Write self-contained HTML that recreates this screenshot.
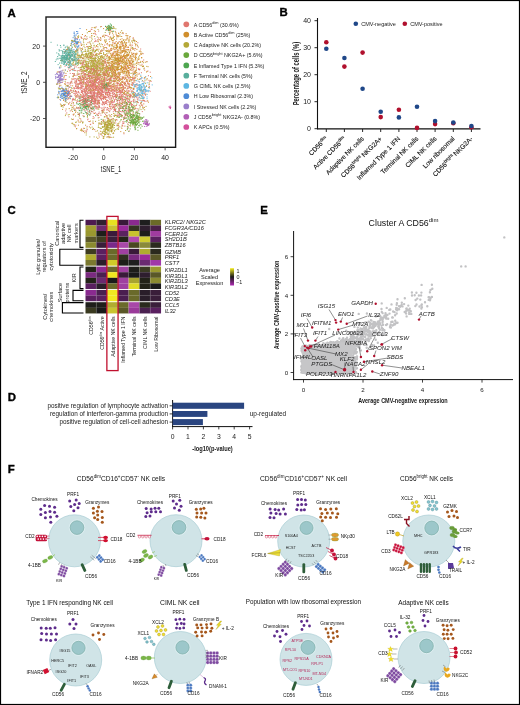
<!DOCTYPE html>
<html><head><meta charset="utf-8"><style>
html,body{margin:0;padding:0;background:#fff;overflow:hidden;}
svg{display:block;font-family:"Liberation Sans", sans-serif;will-change:transform;}
</style></head><body>
<svg width="520" height="705" viewBox="0 0 520 705">
<rect x="0" y="0" width="520" height="705" fill="#fff"/>
<text x="7.40" y="16.50" font-size="11.4" text-anchor="start" fill="#000" font-weight="bold" stroke="#000" stroke-width="0.35">A</text>
<text x="279.60" y="16.30" font-size="11.4" text-anchor="start" fill="#000" font-weight="bold" stroke="#000" stroke-width="0.35">B</text>
<text x="7.50" y="214.10" font-size="11.4" text-anchor="start" fill="#000" font-weight="bold" stroke="#000" stroke-width="0.35">C</text>
<text x="7.80" y="400.80" font-size="11.4" text-anchor="start" fill="#000" font-weight="bold" stroke="#000" stroke-width="0.35">D</text>
<text x="260.20" y="214.00" font-size="11.4" text-anchor="start" fill="#000" font-weight="bold" stroke="#000" stroke-width="0.35">E</text>
<text x="7.80" y="472.70" font-size="11.4" text-anchor="start" fill="#000" font-weight="bold" stroke="#000" stroke-width="0.35">F</text>
<path d="M109.3 125.2h.3M78.9 62.0h.3M82.9 67.7h.3M100.4 26.8h.3M104.2 73.2h.3M111.1 129.2h.3M107.9 70.5h.3M104.9 134.5h.3M88.2 48.5h.3M107.3 80.5h.3M100.5 50.8h.3M75.2 98.7h.3M87.3 113.8h.3M134.4 95.7h.3M126.9 81.1h.3M105.5 124.7h.3M80.3 77.2h.3M110.7 70.4h.3M104.0 56.6h.3M93.5 81.1h.3M95.7 78.8h.3M97.6 79.4h.3M108.0 118.2h.3M91.5 38.0h.3M108.4 82.2h.3M107.8 121.8h.3M119.3 113.8h.3M106.5 72.3h.3M85.5 60.9h.3M80.6 67.3h.3M103.6 83.0h.3M93.8 79.8h.3M87.4 56.7h.3M81.3 50.7h.3M98.5 76.0h.3M101.1 74.9h.3M128.7 87.1h.3M109.0 73.7h.3M94.1 72.6h.3M94.1 69.7h.3M107.6 130.1h.3M83.2 63.7h.3M66.9 58.2h.3M89.1 72.0h.3M92.0 58.7h.3M90.1 85.8h.3M104.2 73.0h.3M98.5 82.7h.3M69.0 62.6h.3M132.4 79.1h.3M86.7 98.4h.3M115.6 73.4h.3M126.1 117.8h.3M108.5 127.4h.3M105.1 97.1h.3M106.7 126.9h.3M77.2 65.4h.3M112.8 133.6h.3M106.2 128.3h.3M144.8 80.7h.3M80.0 69.2h.3M128.9 58.3h.3M58.0 97.9h.3M90.4 82.3h.3M85.3 65.4h.3M100.5 57.3h.3M104.6 73.8h.3M91.3 61.7h.3M72.9 63.8h.3M89.7 60.8h.3M121.2 65.7h.3M108.2 121.8h.3M98.4 57.8h.3M103.5 88.0h.3M96.8 62.8h.3M133.5 39.2h.3M122.0 33.3h.3M60.8 67.0h.3M111.4 71.1h.3M77.5 84.7h.3M108.3 129.1h.3M89.7 136.9h.3M125.5 105.5h.3M81.4 69.1h.3M77.2 71.1h.3M63.7 104.5h.3M94.9 68.3h.3M86.5 86.1h.3M87.6 56.4h.3M112.0 76.0h.3M111.7 99.1h.3M99.3 97.4h.3M106.1 133.2h.3M95.9 65.4h.3M111.2 76.6h.3M90.1 54.4h.3M95.8 68.9h.3M78.3 36.0h.3M87.0 79.0h.3M114.4 122.8h.3M94.5 72.9h.3M84.4 128.4h.3M140.9 109.6h.3M112.7 89.1h.3M110.3 69.4h.3M101.9 85.0h.3M117.9 42.8h.3M121.1 127.0h.3M99.8 63.0h.3M83.8 58.4h.3M114.2 69.6h.3M85.1 55.2h.3M87.7 51.5h.3M90.0 53.9h.3M103.0 119.4h.3M81.2 73.5h.3M71.9 88.4h.3M131.9 73.4h.3M96.5 50.3h.3M94.0 69.7h.3M104.0 69.7h.3M99.1 59.3h.3M73.1 60.2h.3M116.9 125.8h.3M109.0 114.9h.3M87.3 56.9h.3M95.4 121.4h.3M82.4 122.6h.3M109.4 72.5h.3M82.4 66.6h.3M113.0 125.0h.3M76.2 122.0h.3M130.8 73.4h.3M96.1 62.6h.3M61.9 80.2h.3M105.2 67.7h.3M101.1 44.0h.3M89.6 70.7h.3M116.6 76.3h.3M90.3 53.5h.3M87.4 67.2h.3M71.6 92.4h.3M95.0 28.0h.3M121.5 30.7h.3M111.1 116.7h.3M126.4 62.0h.3M102.8 50.3h.3M83.5 72.1h.3M101.6 84.6h.3M94.1 69.8h.3M114.8 114.2h.3M97.6 79.1h.3M95.5 67.3h.3M107.6 126.0h.3M79.3 83.8h.3M65.0 81.4h.3M105.1 132.3h.3M91.9 61.5h.3M94.3 75.0h.3M101.5 59.1h.3M102.6 133.0h.3M66.8 102.6h.3M85.1 76.0h.3M91.8 56.0h.3M74.8 82.0h.3M93.1 58.9h.3M87.1 46.8h.3M107.0 126.5h.3M91.9 63.6h.3M110.1 72.1h.3M118.7 80.1h.3M115.8 74.1h.3M107.0 131.8h.3M95.6 60.7h.3M76.6 49.3h.3M125.4 130.5h.3M105.8 75.3h.3M110.2 58.0h.3M87.9 50.8h.3M95.6 60.7h.3M92.4 62.2h.3M97.6 109.0h.3M80.7 69.8h.3M102.9 68.7h.3M77.6 53.3h.3M110.9 128.2h.3M99.4 73.3h.3M103.2 48.7h.3M85.5 108.3h.3M86.5 67.3h.3M106.5 125.7h.3M96.1 58.4h.3M93.5 71.6h.3M100.3 63.9h.3M89.0 53.2h.3M91.6 53.3h.3M135.0 40.9h.3M74.3 41.1h.3M93.0 70.0h.3M85.6 64.4h.3" stroke="#B4A838" stroke-width="1.0" stroke-linecap="round" fill="none" opacity="0.92"/>
<path d="M97.1 76.2h.3M76.2 96.2h.3M90.9 90.8h.3M86.8 112.5h.3M74.3 75.2h.3M91.6 98.7h.3M91.0 91.0h.3M92.5 95.0h.3M106.4 92.4h.3M100.7 62.0h.3M119.6 102.5h.3M114.0 90.6h.3M81.8 97.8h.3M77.9 88.9h.3M97.7 103.2h.3M60.6 91.2h.3M87.0 94.9h.3M133.9 80.4h.3M88.3 95.5h.3M83.4 103.7h.3M76.5 88.4h.3M132.9 66.8h.3M99.1 75.7h.3M103.9 107.2h.3M87.0 126.4h.3M129.9 102.3h.3M80.9 100.6h.3M94.7 80.0h.3M82.1 63.8h.3M95.4 101.3h.3M95.2 92.3h.3M87.8 83.3h.3M112.3 89.6h.3M124.2 110.7h.3M103.7 96.9h.3M102.6 89.7h.3M63.6 89.7h.3M128.7 78.4h.3M88.7 93.5h.3M76.1 81.9h.3M118.8 115.2h.3M104.5 69.4h.3M130.9 95.2h.3M68.9 48.5h.3M136.6 97.4h.3M117.6 116.0h.3M129.6 101.1h.3M93.6 82.9h.3M89.9 95.8h.3M129.0 130.8h.3M101.7 81.5h.3M128.4 122.3h.3M83.2 78.2h.3M57.4 77.4h.3M113.2 85.7h.3M82.3 75.6h.3M102.9 102.5h.3M72.4 73.5h.3M113.3 93.0h.3M130.2 69.6h.3M117.1 114.1h.3M69.6 70.9h.3M104.1 74.8h.3M114.8 71.2h.3M81.7 88.8h.3M143.7 81.8h.3M94.1 91.0h.3M121.2 101.0h.3M106.5 109.9h.3M87.0 106.2h.3M94.2 101.7h.3M100.9 89.8h.3M105.0 74.5h.3M89.9 79.6h.3M72.6 53.9h.3M98.2 106.0h.3M100.7 86.6h.3M92.1 96.3h.3M92.9 81.8h.3M100.8 115.3h.3M101.5 83.7h.3M103.4 60.8h.3M91.8 95.6h.3M104.1 48.1h.3M87.4 97.2h.3M117.0 95.6h.3M91.9 86.3h.3M85.2 73.7h.3M89.8 85.2h.3M96.0 88.6h.3M141.9 64.3h.3M101.1 93.5h.3M79.3 83.9h.3M87.8 82.3h.3M96.8 96.9h.3M90.7 92.0h.3M119.1 126.8h.3M97.8 98.0h.3M88.1 80.6h.3M86.3 69.9h.3M93.5 103.4h.3M117.3 85.0h.3M91.9 97.5h.3M98.1 79.0h.3M101.3 80.1h.3M75.3 126.8h.3M76.0 58.8h.3M95.5 100.2h.3M95.5 82.2h.3M99.9 80.7h.3M93.4 97.7h.3M139.1 73.3h.3M112.7 54.2h.3M70.2 110.9h.3M90.7 98.1h.3M84.1 78.6h.3M86.1 131.7h.3M132.3 104.6h.3M127.2 86.2h.3M90.9 73.6h.3M93.6 54.9h.3M67.5 86.2h.3M119.7 96.1h.3M118.5 111.0h.3M105.1 75.0h.3M108.7 79.6h.3M105.9 84.4h.3M110.7 106.8h.3M101.0 83.6h.3M75.4 86.6h.3M122.4 70.3h.3M131.6 101.4h.3M101.3 86.1h.3M80.4 82.0h.3M100.8 94.0h.3M98.3 83.7h.3M85.3 39.0h.3M122.3 84.5h.3M133.4 74.4h.3M71.4 90.8h.3M134.2 77.1h.3M99.5 96.7h.3M82.5 99.5h.3M94.3 73.6h.3M91.8 99.6h.3M85.2 99.2h.3M95.7 80.1h.3M88.8 98.1h.3M78.3 107.6h.3M129.2 87.1h.3M125.7 94.7h.3M101.9 83.7h.3M78.8 73.8h.3M131.7 104.8h.3M85.0 102.0h.3M80.6 78.4h.3M79.6 81.8h.3M122.5 99.3h.3M135.6 96.1h.3M114.6 90.6h.3M105.0 73.9h.3M86.2 101.4h.3M87.1 101.5h.3M81.4 83.2h.3M95.1 89.0h.3M88.5 65.2h.3M109.4 93.2h.3M96.5 80.1h.3M101.2 26.5h.3M73.8 69.7h.3M98.0 74.7h.3M100.6 98.7h.3M96.0 88.3h.3M80.9 85.8h.3M91.0 101.1h.3M118.2 100.4h.3M79.8 78.3h.3M118.2 89.1h.3M96.9 96.8h.3M99.6 77.2h.3M96.7 107.7h.3M139.2 89.3h.3M106.2 103.5h.3M66.1 75.5h.3M91.1 93.8h.3M93.5 84.1h.3M83.4 98.6h.3M99.5 103.7h.3M79.7 76.9h.3M98.2 113.5h.3M74.3 70.6h.3M134.9 102.2h.3M111.8 101.0h.3M100.2 86.8h.3M135.3 48.4h.3M94.4 63.5h.3M76.9 79.0h.3M132.7 80.0h.3M93.9 92.6h.3M94.7 81.1h.3" stroke="#E0766E" stroke-width="1.0" stroke-linecap="round" fill="none" opacity="0.92"/>
<path d="M112.9 94.5h.3M103.5 95.8h.3M111.0 88.6h.3M118.9 79.7h.3M108.1 102.0h.3M119.4 90.5h.3M125.8 110.1h.3M127.7 82.3h.3M101.0 95.7h.3M93.7 113.1h.3M95.6 61.1h.3M87.2 97.3h.3M94.4 98.8h.3M124.5 118.8h.3M75.9 93.0h.3M69.5 93.8h.3M129.4 65.3h.3M106.6 100.3h.3M73.0 55.9h.3M113.2 90.1h.3M88.6 85.9h.3M109.8 99.5h.3M123.8 68.9h.3M99.5 80.1h.3M109.7 104.4h.3M121.8 77.0h.3M123.1 33.6h.3M108.6 78.9h.3M128.1 127.1h.3M113.0 75.3h.3M65.0 101.4h.3M75.5 85.6h.3M119.5 94.6h.3M102.8 87.7h.3M91.5 100.2h.3M85.9 84.2h.3M110.5 77.3h.3M98.9 87.2h.3M98.7 90.4h.3M119.8 92.0h.3M81.1 55.6h.3M102.5 96.2h.3M92.1 82.2h.3M99.1 70.9h.3M106.1 89.6h.3M84.6 102.3h.3M81.8 38.5h.3M98.4 74.7h.3M77.8 95.8h.3M135.5 84.7h.3M96.9 93.9h.3M101.8 104.2h.3M144.9 101.4h.3M59.8 75.6h.3M77.4 62.4h.3M118.1 99.0h.3M72.7 76.2h.3M129.8 91.1h.3M67.3 82.8h.3M95.5 108.0h.3M96.0 81.3h.3M122.7 90.3h.3M92.2 99.4h.3M92.3 73.0h.3M90.3 75.9h.3M124.3 84.1h.3M128.8 112.3h.3M96.5 106.8h.3M98.1 66.3h.3M97.3 77.3h.3M95.0 100.0h.3M96.6 87.3h.3M93.1 84.4h.3M86.2 104.5h.3M148.3 75.7h.3M99.4 97.4h.3M90.6 76.1h.3M107.0 112.7h.3M133.4 49.0h.3M109.4 81.6h.3M129.1 74.7h.3M107.1 85.7h.3M95.7 58.0h.3M108.3 96.8h.3M135.9 105.6h.3M96.8 82.4h.3M91.3 86.1h.3M119.4 100.5h.3M114.4 93.5h.3M122.1 102.7h.3M97.4 79.3h.3M150.0 91.3h.3M132.7 67.4h.3M87.7 91.6h.3M74.3 88.2h.3M84.1 73.9h.3M121.9 96.0h.3M121.2 103.4h.3M93.0 93.3h.3M83.7 78.3h.3M103.6 97.9h.3M91.5 105.7h.3M100.5 96.1h.3M90.2 31.1h.3M128.6 108.0h.3M102.5 101.6h.3M112.9 43.1h.3M132.4 96.7h.3M87.9 76.5h.3M118.1 112.7h.3M92.8 85.5h.3M87.6 78.8h.3M120.2 108.6h.3M139.4 69.8h.3M84.6 84.1h.3M82.2 71.9h.3M133.0 109.8h.3M113.8 94.5h.3M126.1 91.0h.3M111.0 103.3h.3M72.0 83.1h.3M69.2 60.4h.3M110.3 78.2h.3M132.8 91.5h.3M94.1 100.8h.3M95.4 102.9h.3M85.7 100.0h.3M141.3 72.7h.3M89.6 90.5h.3M132.1 85.3h.3M80.4 87.7h.3M134.6 78.6h.3M123.8 101.8h.3M78.7 88.0h.3M109.0 86.4h.3M110.9 98.8h.3M96.2 100.8h.3M104.8 87.0h.3M107.6 80.3h.3M93.8 80.0h.3M82.5 101.6h.3M87.1 86.0h.3M82.8 89.1h.3M78.2 67.7h.3M88.9 82.4h.3M122.2 98.4h.3M114.5 74.9h.3M82.6 92.0h.3M137.0 87.3h.3M93.1 68.1h.3M106.5 115.5h.3M97.4 73.0h.3M80.8 84.7h.3M98.7 100.2h.3M129.8 56.9h.3M122.3 108.2h.3M94.5 97.3h.3M89.3 77.7h.3M95.2 76.2h.3M100.8 39.1h.3M129.5 63.7h.3M83.6 96.5h.3M119.4 90.7h.3M130.1 95.4h.3M115.9 83.2h.3M91.6 101.3h.3M91.3 86.7h.3M134.7 92.8h.3M93.5 61.3h.3M84.9 74.7h.3M87.2 68.4h.3M81.3 95.9h.3M98.6 94.9h.3M96.9 90.1h.3M94.5 81.5h.3M90.8 71.4h.3M107.7 94.3h.3M86.0 75.7h.3M93.8 75.7h.3M83.4 89.8h.3M94.0 93.9h.3M79.7 74.0h.3M70.7 90.2h.3M106.8 84.5h.3M111.8 90.1h.3M99.3 92.4h.3M114.5 76.0h.3M95.2 78.5h.3M63.4 90.6h.3M79.5 87.7h.3M104.1 79.4h.3M93.8 85.5h.3M139.0 97.2h.3M146.8 101.2h.3M114.6 91.7h.3M143.8 92.4h.3M91.7 29.5h.3M123.9 88.1h.3M95.1 93.7h.3M100.1 93.7h.3" stroke="#E0766E" stroke-width="1.0" stroke-linecap="round" fill="none" opacity="0.92"/>
<path d="M111.6 63.1h.3M89.7 31.4h.3M113.1 56.2h.3M121.8 71.7h.3M120.3 50.0h.3M115.9 69.0h.3M124.0 71.5h.3M116.9 74.8h.3M113.9 70.6h.3M121.6 61.0h.3M142.8 66.5h.3M116.3 69.9h.3M119.1 75.1h.3M121.9 61.8h.3M127.8 75.7h.3M94.2 30.8h.3M120.1 87.9h.3M128.8 62.0h.3M98.2 41.7h.3M117.8 90.0h.3M132.0 54.2h.3M128.0 66.0h.3M62.7 93.4h.3M112.6 49.0h.3M128.6 60.0h.3M145.2 62.2h.3M121.7 68.4h.3M117.6 61.7h.3M120.0 65.6h.3M125.6 69.2h.3M122.4 71.8h.3M105.2 72.1h.3M138.2 59.6h.3M132.1 58.6h.3M90.6 46.9h.3M109.5 105.9h.3M69.1 108.6h.3M101.5 49.9h.3M126.2 43.1h.3M117.6 64.3h.3M119.2 63.9h.3M126.8 79.4h.3M111.7 65.2h.3M130.1 36.6h.3M111.4 56.4h.3M120.1 85.4h.3M128.1 68.4h.3M116.4 74.6h.3M111.5 73.1h.3M117.3 76.3h.3M122.6 50.5h.3M124.2 92.4h.3M150.4 76.5h.3M99.5 123.2h.3M135.2 75.6h.3M125.7 62.3h.3M143.6 103.9h.3M126.8 61.0h.3M129.3 68.0h.3M120.3 57.2h.3M113.6 65.2h.3M128.4 60.6h.3M140.7 76.4h.3M111.1 38.7h.3M131.0 47.0h.3M123.0 59.6h.3M99.0 60.8h.3M131.8 54.0h.3M118.6 54.7h.3M112.7 67.9h.3M120.0 61.8h.3M80.3 130.2h.3M146.4 86.4h.3M114.4 43.6h.3M122.3 56.3h.3M116.3 44.4h.3M125.3 83.5h.3M120.7 83.8h.3M65.2 84.4h.3M130.1 63.7h.3M105.1 130.8h.3M114.2 68.0h.3M141.2 102.4h.3M125.8 35.6h.3M111.7 57.7h.3M97.6 67.0h.3M65.7 98.7h.3M65.8 114.2h.3M142.2 94.3h.3M119.7 55.3h.3M109.5 41.7h.3M108.5 84.9h.3M125.6 46.4h.3M128.1 47.0h.3M119.4 69.6h.3M114.3 70.6h.3M98.8 49.2h.3M117.3 44.0h.3M145.3 77.0h.3M112.2 54.8h.3M117.4 53.1h.3M103.0 133.4h.3M126.1 39.8h.3M121.6 81.6h.3M124.6 70.1h.3M122.8 81.2h.3M82.3 34.5h.3M103.2 111.0h.3M116.0 88.7h.3M103.9 81.4h.3M97.4 100.2h.3M121.4 68.3h.3M104.9 54.8h.3M120.1 69.1h.3M99.0 88.9h.3M116.8 59.3h.3M116.3 103.8h.3M116.1 53.5h.3M115.7 60.8h.3M89.3 31.5h.3M139.5 55.4h.3M77.4 50.6h.3M114.4 88.8h.3M124.6 94.5h.3M90.6 44.3h.3M119.3 78.4h.3M121.3 103.5h.3M118.0 50.6h.3M126.4 54.6h.3M111.2 49.1h.3M136.1 70.1h.3M125.4 46.8h.3M114.2 78.8h.3M115.8 95.0h.3M111.2 44.9h.3M91.8 97.1h.3M136.5 72.5h.3M105.5 134.5h.3M117.1 51.1h.3M96.3 45.6h.3M115.8 60.5h.3M143.2 108.0h.3M129.6 81.6h.3M103.2 36.1h.3M105.4 88.9h.3M121.2 51.9h.3M116.7 64.8h.3M117.0 62.1h.3M121.0 52.3h.3M112.3 64.8h.3M114.4 85.9h.3M115.5 56.2h.3M127.8 80.0h.3M72.3 69.4h.3M140.9 51.8h.3M119.6 47.7h.3M122.5 52.0h.3M134.2 72.7h.3M123.5 62.3h.3M129.6 87.0h.3M99.1 102.4h.3M117.7 35.8h.3M125.1 42.9h.3M133.8 81.8h.3M109.8 104.4h.3M107.8 88.3h.3M109.5 59.9h.3M107.3 62.4h.3M68.7 103.5h.3M123.8 54.6h.3M120.0 97.5h.3M143.5 89.9h.3M116.2 97.3h.3M114.1 59.1h.3M123.1 51.1h.3M128.6 42.1h.3M123.7 49.9h.3M114.9 62.8h.3M122.1 87.6h.3M120.5 60.7h.3M129.4 61.4h.3M130.1 61.2h.3M126.1 45.7h.3M135.2 53.7h.3M116.3 48.6h.3M85.1 90.9h.3M124.8 61.2h.3M126.5 71.2h.3M138.8 74.3h.3M114.9 66.5h.3M131.6 41.0h.3M72.3 111.4h.3M128.8 60.5h.3M126.2 49.6h.3M134.2 67.5h.3M68.2 61.7h.3M99.4 88.6h.3M107.0 56.4h.3M104.5 116.6h.3M120.6 59.2h.3" stroke="#D08E2C" stroke-width="1.0" stroke-linecap="round" fill="none" opacity="0.92"/>
<path d="M104.6 88.3h.3M111.2 25.2h.3M108.1 29.3h.3M86.1 106.6h.3M87.9 97.0h.3M76.5 103.0h.3M105.4 85.8h.3M83.7 97.9h.3M106.9 88.0h.3M87.3 100.5h.3M79.0 114.4h.3M86.1 101.3h.3M112.3 28.6h.3M104.5 82.1h.3M85.5 103.7h.3M104.7 85.5h.3M87.3 104.6h.3M104.7 86.9h.3M86.5 102.4h.3M91.0 108.4h.3M105.0 86.1h.3M92.1 97.7h.3M106.2 90.8h.3M109.8 26.7h.3M86.5 106.5h.3M95.5 115.6h.3M82.4 97.4h.3M103.0 85.5h.3M107.4 26.7h.3M86.6 108.9h.3M105.9 86.2h.3M109.1 26.1h.3M107.5 85.9h.3M90.4 104.8h.3M87.0 107.0h.3M110.5 27.6h.3M79.9 99.8h.3M101.8 87.5h.3M78.0 86.4h.3M88.8 101.5h.3M87.4 105.9h.3M106.3 84.6h.3M111.7 27.8h.3M87.4 99.6h.3M83.7 116.7h.3M87.2 102.7h.3M88.7 106.6h.3M105.1 85.5h.3M88.8 111.9h.3M107.1 28.0h.3M85.5 106.9h.3M91.6 108.4h.3M91.2 104.6h.3M105.3 85.5h.3M103.9 86.1h.3M88.2 104.1h.3M105.8 83.8h.3M87.4 115.6h.3M91.2 102.4h.3M84.9 107.9h.3M81.8 104.4h.3M89.6 112.2h.3M108.5 29.7h.3M106.7 88.8h.3M81.6 110.8h.3M85.1 93.0h.3M90.8 108.1h.3M85.2 99.2h.3M106.6 86.4h.3M106.8 84.7h.3M81.9 105.1h.3M80.0 103.7h.3M108.5 29.2h.3M108.5 27.1h.3M90.5 92.6h.3M83.6 113.5h.3M91.7 100.1h.3M101.1 119.4h.3M110.9 27.1h.3M84.5 106.3h.3M87.5 106.1h.3M108.3 27.1h.3M93.9 106.7h.3M113.3 31.2h.3M79.1 100.6h.3M86.3 108.4h.3M89.7 104.9h.3M83.1 107.6h.3M82.3 99.9h.3M80.9 108.8h.3M109.8 29.5h.3M82.4 108.7h.3M106.6 29.4h.3M85.9 100.5h.3M108.1 83.2h.3M89.5 110.4h.3M105.5 26.5h.3M84.2 109.1h.3M108.3 85.0h.3M83.3 106.1h.3M106.5 85.3h.3M80.7 104.4h.3M91.0 102.5h.3M84.9 98.8h.3M110.3 28.7h.3M88.6 99.3h.3M110.5 29.8h.3M105.7 30.2h.3M84.9 103.5h.3M103.6 87.4h.3M86.3 101.8h.3M86.0 106.2h.3M79.1 98.5h.3M108.9 85.5h.3M87.9 109.6h.3M82.9 104.5h.3M102.9 86.7h.3M84.6 98.5h.3M105.4 26.3h.3M104.9 89.3h.3M79.6 96.9h.3M88.4 106.1h.3M89.2 106.8h.3M110.2 29.0h.3M104.4 86.7h.3M102.2 83.7h.3M84.5 107.3h.3M108.5 29.0h.3M85.9 99.8h.3M84.3 103.9h.3M109.5 26.1h.3M85.2 101.9h.3M95.9 95.8h.3M85.0 106.8h.3M84.6 100.6h.3M79.9 110.7h.3M104.5 84.2h.3M86.2 113.1h.3M85.9 104.7h.3M110.2 24.0h.3M83.0 106.9h.3M108.6 27.9h.3M91.5 108.6h.3M78.2 104.4h.3M109.0 32.1h.3M93.5 108.4h.3M103.5 86.8h.3M105.9 86.5h.3M80.9 106.9h.3M80.1 96.8h.3M108.2 25.4h.3M85.3 99.3h.3M85.5 107.6h.3M87.0 105.9h.3M79.6 113.2h.3M103.5 86.3h.3M105.7 84.5h.3M91.6 96.4h.3M88.3 114.1h.3M91.7 98.0h.3M79.9 105.4h.3M105.0 85.2h.3M111.3 27.2h.3M88.2 108.2h.3M82.7 101.9h.3M90.3 102.4h.3M88.3 97.5h.3M85.4 100.5h.3M91.8 108.6h.3M101.9 88.0h.3M108.4 30.5h.3M92.6 106.8h.3M104.1 84.6h.3M102.5 85.6h.3M108.9 83.5h.3M104.3 85.3h.3M85.0 111.2h.3M85.3 106.1h.3M103.1 87.9h.3M91.2 101.9h.3M93.8 109.9h.3M85.5 100.8h.3M79.9 98.4h.3M110.1 27.1h.3M90.2 113.9h.3M85.9 102.3h.3M89.5 114.9h.3M91.5 99.5h.3M112.5 31.7h.3M86.3 109.0h.3M95.5 100.3h.3M80.6 108.1h.3M104.0 86.9h.3M105.0 88.7h.3M92.3 103.7h.3M109.4 30.5h.3M74.5 110.5h.3M81.1 112.3h.3M87.7 106.0h.3M103.4 86.9h.3" stroke="#4DA650" stroke-width="1.0" stroke-linecap="round" fill="none" opacity="0.92"/>
<path d="M99.5 100.6h.3M93.8 89.5h.3M87.7 84.3h.3M109.4 34.4h.3M115.5 94.6h.3M93.0 81.8h.3M95.3 62.0h.3M122.4 90.0h.3M96.5 67.3h.3M129.9 94.1h.3M87.9 85.0h.3M114.3 100.4h.3M107.9 89.7h.3M103.5 98.7h.3M114.9 104.8h.3M90.0 88.3h.3M99.8 84.3h.3M129.1 96.7h.3M84.9 82.9h.3M82.6 84.1h.3M74.0 88.9h.3M123.2 86.9h.3M118.8 74.1h.3M62.4 88.5h.3M85.5 97.6h.3M102.9 94.5h.3M105.3 90.7h.3M123.2 95.9h.3M101.3 108.1h.3M79.8 80.6h.3M86.6 104.4h.3M97.0 92.6h.3M95.6 102.1h.3M90.1 84.5h.3M107.2 95.5h.3M113.1 80.4h.3M80.9 43.7h.3M100.1 89.0h.3M137.7 42.7h.3M93.5 98.4h.3M69.8 68.0h.3M84.6 92.9h.3M97.0 97.7h.3M93.9 96.5h.3M125.3 97.1h.3M81.1 45.1h.3M97.8 100.6h.3M112.7 96.7h.3M149.1 87.2h.3M87.1 69.1h.3M99.1 106.0h.3M96.1 82.8h.3M86.7 86.1h.3M87.4 92.6h.3M107.3 85.0h.3M110.7 80.1h.3M145.3 95.0h.3M107.5 77.0h.3M111.2 127.9h.3M104.0 70.9h.3M83.4 101.8h.3M112.9 107.7h.3M94.1 93.8h.3M127.2 100.1h.3M103.1 88.1h.3M125.0 98.2h.3M80.4 94.7h.3M86.1 101.0h.3M131.6 91.6h.3M148.9 84.8h.3M120.1 63.2h.3M133.2 114.6h.3M94.9 99.5h.3M104.0 96.8h.3M78.5 74.4h.3M132.0 70.2h.3M107.0 92.4h.3M107.5 75.1h.3M107.1 94.2h.3M122.9 87.0h.3M72.2 92.2h.3M115.2 110.9h.3M104.5 45.1h.3M103.6 64.6h.3M124.0 87.7h.3M109.6 78.2h.3M92.7 122.9h.3M73.7 65.2h.3M74.4 99.8h.3M151.0 81.3h.3M142.5 61.7h.3M136.1 95.2h.3M129.4 109.4h.3M76.2 80.7h.3M149.7 81.4h.3M86.2 87.3h.3M70.0 66.7h.3M111.8 85.7h.3M116.3 119.6h.3M119.1 110.4h.3M95.3 85.1h.3M93.9 80.1h.3M97.6 90.6h.3M101.1 99.1h.3M108.4 90.2h.3M127.8 101.5h.3M90.8 93.5h.3M93.9 86.4h.3M120.6 105.5h.3M104.0 75.4h.3M104.3 104.3h.3M89.9 97.9h.3M98.8 63.8h.3M77.5 38.6h.3M112.4 53.2h.3M104.8 78.9h.3M87.9 74.5h.3M126.7 94.4h.3M85.8 83.3h.3M77.5 94.3h.3M130.0 77.9h.3M93.8 77.0h.3M108.3 110.3h.3M79.6 77.4h.3M97.0 89.4h.3M98.3 100.8h.3M91.8 87.8h.3M129.9 94.8h.3M123.8 133.8h.3M123.1 89.3h.3M143.5 60.0h.3M71.2 96.3h.3M125.9 117.9h.3M93.6 49.5h.3M114.5 109.5h.3M98.9 81.6h.3M78.6 84.3h.3M119.4 105.2h.3M91.4 77.8h.3M63.8 105.1h.3M102.6 77.6h.3M124.9 84.1h.3M80.7 83.4h.3M113.1 87.4h.3M134.0 92.5h.3M94.5 104.8h.3M95.7 93.8h.3M111.0 91.3h.3M109.4 86.5h.3M101.7 88.6h.3M98.8 73.8h.3M101.8 91.0h.3M142.6 91.0h.3M103.4 83.3h.3M116.3 89.9h.3M89.3 98.1h.3M92.5 97.0h.3M75.0 91.7h.3M115.6 70.7h.3M79.9 82.4h.3M95.0 89.8h.3M96.3 74.5h.3M108.6 90.4h.3M86.2 93.8h.3M130.5 89.1h.3M115.4 60.0h.3M84.2 71.3h.3M87.2 113.7h.3M89.7 86.0h.3M92.5 63.0h.3M100.6 70.7h.3M116.4 99.3h.3M85.4 91.2h.3M134.3 97.8h.3M69.0 84.1h.3M122.7 106.6h.3M82.1 90.5h.3M113.2 97.3h.3M141.2 95.8h.3M87.5 119.8h.3M144.1 78.2h.3M93.0 68.1h.3M87.9 89.0h.3M121.5 105.0h.3M75.8 84.2h.3M130.7 67.8h.3M80.8 85.1h.3M78.2 85.2h.3M98.6 81.7h.3M80.3 82.3h.3M110.5 80.2h.3M93.7 92.5h.3M77.4 75.0h.3M108.1 100.7h.3M132.1 85.2h.3M121.9 98.8h.3M85.5 82.7h.3M80.8 50.0h.3M75.8 50.5h.3M134.1 77.8h.3" stroke="#E0766E" stroke-width="1.0" stroke-linecap="round" fill="none" opacity="0.92"/>
<path d="M75.7 86.4h.3M80.3 78.3h.3M129.9 115.6h.3M80.9 82.5h.3M88.1 73.5h.3M73.0 90.5h.3M90.1 95.3h.3M98.9 92.4h.3M102.4 36.6h.3M73.8 91.8h.3M132.8 72.2h.3M97.2 86.3h.3M74.8 65.7h.3M95.3 86.9h.3M120.5 92.8h.3M132.2 84.9h.3M90.2 124.6h.3M94.5 129.6h.3M125.8 97.5h.3M81.6 97.0h.3M130.3 96.9h.3M72.3 100.2h.3M128.6 90.4h.3M95.6 71.1h.3M74.4 67.2h.3M113.1 102.2h.3M104.1 67.8h.3M102.2 91.4h.3M82.0 53.1h.3M94.1 66.3h.3M110.4 93.7h.3M95.2 65.3h.3M91.6 81.1h.3M84.0 99.4h.3M105.1 73.8h.3M85.8 66.4h.3M81.2 90.9h.3M79.6 93.1h.3M88.4 84.9h.3M105.9 92.3h.3M86.3 108.0h.3M74.4 75.0h.3M105.5 75.4h.3M90.6 85.1h.3M89.9 96.6h.3M95.1 106.1h.3M89.1 80.1h.3M107.8 71.5h.3M98.2 89.7h.3M116.6 105.4h.3M103.8 86.6h.3M83.5 104.0h.3M86.2 102.0h.3M108.1 79.8h.3M87.0 129.5h.3M115.6 123.0h.3M122.4 91.2h.3M129.1 85.0h.3M111.6 119.3h.3M94.4 82.4h.3M77.9 92.7h.3M86.2 84.9h.3M88.8 99.0h.3M131.4 104.7h.3M73.2 106.1h.3M86.9 80.4h.3M65.8 79.4h.3M92.3 95.3h.3M131.1 101.6h.3M100.7 72.0h.3M105.2 107.4h.3M95.4 41.2h.3M94.0 95.4h.3M107.7 74.8h.3M91.6 52.9h.3M108.1 75.2h.3M92.5 72.5h.3M65.1 70.0h.3M128.9 94.7h.3M88.5 78.2h.3M117.2 92.6h.3M101.6 93.8h.3M93.1 116.6h.3M94.8 99.9h.3M107.5 89.0h.3M62.2 82.4h.3M91.1 70.6h.3M122.9 123.5h.3M137.4 46.0h.3M114.2 93.8h.3M105.8 96.0h.3M127.5 92.6h.3M83.6 96.1h.3M127.0 58.3h.3M69.4 92.8h.3M123.9 99.6h.3M112.8 81.2h.3M116.1 90.8h.3M97.7 92.8h.3M86.4 78.2h.3M94.9 81.3h.3M101.7 87.6h.3M108.9 89.5h.3M68.7 55.9h.3M67.2 91.0h.3M110.0 115.4h.3M69.9 96.7h.3M88.8 75.8h.3M110.2 108.1h.3M70.0 70.5h.3M86.6 130.8h.3M80.6 63.9h.3M90.3 100.7h.3M103.2 74.1h.3M119.2 75.3h.3M88.4 101.4h.3M110.6 69.0h.3M129.5 99.7h.3M92.8 90.7h.3M95.8 96.6h.3M77.8 88.4h.3M122.8 94.5h.3M103.3 94.6h.3M102.3 110.4h.3M91.6 89.8h.3M101.3 89.1h.3M105.4 96.9h.3M120.5 111.5h.3M97.2 86.7h.3M124.4 90.4h.3M144.5 93.9h.3M86.8 63.9h.3M90.3 71.8h.3M86.7 91.6h.3M85.2 101.0h.3M86.0 95.2h.3M97.2 94.3h.3M119.4 91.6h.3M103.9 91.7h.3M103.0 98.5h.3M82.9 115.7h.3M127.0 100.0h.3M97.8 39.6h.3M114.7 91.7h.3M123.6 78.1h.3M83.1 82.4h.3M82.5 77.6h.3M93.9 65.0h.3M127.6 95.6h.3M125.4 108.3h.3M109.5 119.3h.3M94.2 84.7h.3M130.1 50.3h.3M88.9 95.8h.3M88.9 92.1h.3M114.4 74.1h.3M89.6 75.8h.3M130.0 65.4h.3M100.6 76.3h.3M62.7 90.3h.3M111.5 69.6h.3M111.6 66.4h.3M106.5 100.7h.3M133.0 97.0h.3M92.1 97.3h.3M105.4 103.3h.3M103.7 102.4h.3M93.8 86.9h.3M124.8 101.7h.3M108.0 76.7h.3M69.6 102.4h.3M108.2 84.9h.3M122.0 100.0h.3M92.7 80.8h.3M129.8 119.6h.3M126.1 111.0h.3M112.5 92.2h.3M75.9 82.2h.3M137.8 94.3h.3M80.7 75.8h.3M91.4 99.9h.3M91.7 87.6h.3M141.0 104.9h.3M106.2 101.6h.3M111.5 88.0h.3M110.1 76.1h.3M98.0 96.9h.3M99.7 81.1h.3M119.5 101.1h.3M75.7 83.5h.3M122.5 103.0h.3M96.7 75.7h.3M106.9 100.0h.3M99.2 102.7h.3M84.3 98.4h.3M84.0 101.2h.3M119.9 103.6h.3M91.8 86.4h.3M86.6 96.2h.3M113.8 115.7h.3" stroke="#E0766E" stroke-width="1.0" stroke-linecap="round" fill="none" opacity="0.92"/>
<path d="M63.5 95.3h.3M62.6 89.1h.3M77.7 46.6h.3M77.3 42.3h.3M79.4 39.9h.3M73.9 35.9h.3M60.6 97.5h.3M72.7 42.3h.3M66.4 90.2h.3M67.2 96.9h.3M78.5 46.2h.3M58.6 93.0h.3M64.1 95.9h.3M64.3 94.8h.3M77.2 41.8h.3M61.9 91.6h.3M69.9 96.2h.3M67.2 91.2h.3M63.0 93.5h.3M68.1 95.5h.3M65.2 96.7h.3M79.9 28.5h.3M60.8 96.9h.3M59.7 93.9h.3M73.8 49.7h.3M76.4 42.0h.3M66.8 96.2h.3M62.7 93.4h.3M58.5 91.3h.3M66.5 98.6h.3M65.5 92.2h.3M63.6 91.7h.3M75.5 40.9h.3M77.5 31.7h.3M69.9 87.4h.3M65.4 98.1h.3M58.5 97.3h.3M75.1 41.9h.3M64.7 90.8h.3M75.4 37.9h.3M76.7 44.0h.3M63.0 94.4h.3M70.9 45.6h.3M64.8 91.0h.3M64.0 91.3h.3M77.7 33.3h.3M77.4 43.5h.3M76.5 43.4h.3M74.5 38.8h.3M65.3 95.0h.3M76.9 42.8h.3M68.2 93.7h.3M67.3 93.2h.3M71.4 49.1h.3M67.4 93.1h.3M60.3 89.1h.3M64.1 97.6h.3M74.8 36.3h.3M72.0 41.4h.3M61.0 96.3h.3M63.9 95.6h.3M74.1 32.1h.3M65.8 100.9h.3M65.1 93.4h.3M61.5 93.8h.3M65.1 95.8h.3M67.5 95.0h.3M65.7 93.3h.3M74.6 43.7h.3M60.4 100.2h.3M57.2 97.6h.3M61.1 91.7h.3M80.5 42.1h.3M66.5 93.6h.3M68.3 91.5h.3M74.7 35.2h.3M67.2 95.8h.3M64.1 89.8h.3M74.3 40.0h.3M62.8 96.0h.3M61.2 95.1h.3M76.1 35.0h.3M63.2 94.5h.3M63.3 90.2h.3M63.8 90.4h.3M59.3 91.9h.3M68.5 95.2h.3M77.3 42.7h.3M67.8 86.4h.3M64.2 93.4h.3M60.3 95.3h.3M63.7 94.6h.3M76.4 31.5h.3M74.2 33.8h.3M65.5 99.3h.3M76.0 43.7h.3M64.2 95.4h.3M75.5 42.1h.3M69.5 91.6h.3M57.6 94.8h.3M77.2 39.6h.3M63.8 94.6h.3M67.5 93.9h.3M61.9 90.5h.3M73.9 33.2h.3M61.8 87.3h.3M65.7 88.2h.3M61.5 94.3h.3M61.8 98.5h.3M64.0 97.6h.3M77.0 33.6h.3M65.7 89.9h.3M66.2 95.9h.3M61.8 91.5h.3M62.6 90.7h.3M71.5 96.3h.3M76.8 50.7h.3M64.0 92.9h.3M67.6 94.6h.3M64.5 91.7h.3M65.5 92.3h.3M66.0 95.3h.3M65.3 92.9h.3M72.7 41.0h.3M66.1 92.7h.3M74.0 41.6h.3M67.7 93.6h.3M65.7 96.3h.3M69.7 93.8h.3M63.6 88.8h.3M70.0 96.6h.3M64.2 94.6h.3M65.2 96.8h.3M76.6 46.1h.3M71.3 43.4h.3M71.8 44.7h.3M62.3 96.9h.3M73.0 37.7h.3M62.3 98.4h.3M76.5 49.3h.3M68.0 98.4h.3M65.0 93.3h.3M75.5 39.3h.3M63.8 93.4h.3M63.6 98.2h.3M76.1 38.8h.3M78.1 41.6h.3M59.6 88.8h.3M74.2 40.5h.3M65.6 96.6h.3M67.7 91.4h.3M77.7 47.4h.3M70.2 98.7h.3M68.3 92.9h.3M71.6 42.2h.3M75.2 41.6h.3M65.0 99.3h.3M65.2 100.3h.3M78.6 45.3h.3M64.3 94.6h.3M68.3 92.7h.3M66.1 89.9h.3" stroke="#4E8BD6" stroke-width="1.0" stroke-linecap="round" fill="none" opacity="0.92"/>
<path d="M64.3 76.1h.3M106.2 69.0h.3M70.9 82.5h.3M88.5 57.4h.3M105.9 72.9h.3M103.0 79.8h.3M74.5 59.5h.3M70.9 43.8h.3M111.4 131.9h.3M128.1 93.5h.3M109.3 29.9h.3M101.2 53.4h.3M106.9 121.4h.3M85.2 66.7h.3M108.4 65.9h.3M107.0 124.5h.3M97.2 72.6h.3M105.5 75.2h.3M98.0 62.4h.3M138.7 109.2h.3M124.5 72.3h.3M62.3 105.5h.3M91.7 60.9h.3M129.5 120.7h.3M83.5 39.5h.3M109.7 127.4h.3M59.4 88.7h.3M106.0 71.2h.3M102.1 50.9h.3M102.3 127.3h.3M130.4 126.0h.3M98.6 60.6h.3M107.3 127.5h.3M91.1 53.8h.3M91.2 70.1h.3M114.0 84.4h.3M123.5 102.8h.3M101.7 74.2h.3M90.5 50.7h.3M90.1 58.0h.3M111.7 80.3h.3M103.4 53.3h.3M78.4 55.7h.3M92.8 121.1h.3M106.4 64.9h.3M85.0 74.7h.3M95.9 85.3h.3M89.7 73.0h.3M85.6 51.1h.3M71.4 40.4h.3M67.5 49.2h.3M107.4 120.9h.3M94.1 66.5h.3M95.3 70.6h.3M125.7 51.9h.3M92.2 81.3h.3M102.0 64.6h.3M104.4 83.1h.3M98.7 120.3h.3M103.5 121.5h.3M98.1 117.9h.3M75.6 63.6h.3M113.8 68.7h.3M83.1 54.8h.3M100.6 59.0h.3M137.8 93.6h.3M95.3 78.3h.3M130.1 111.7h.3M100.1 88.2h.3M72.5 40.4h.3M90.7 52.6h.3M105.6 75.6h.3M118.5 125.4h.3M100.5 46.7h.3M96.7 56.1h.3M113.8 123.5h.3M127.4 70.5h.3M88.7 67.0h.3M110.1 75.3h.3M75.9 50.5h.3M102.3 57.2h.3M78.3 37.5h.3M103.6 61.9h.3M98.3 126.0h.3M78.4 80.3h.3M104.3 126.5h.3M74.3 73.8h.3M118.3 57.2h.3M83.2 81.9h.3M105.2 132.3h.3M132.5 47.4h.3M71.9 107.7h.3M94.7 64.2h.3M91.0 66.1h.3M106.4 127.9h.3M114.2 130.4h.3M111.0 128.2h.3M62.7 105.9h.3M83.6 73.2h.3M71.4 110.0h.3M112.6 125.1h.3M90.4 72.5h.3M102.5 68.6h.3M103.6 60.8h.3M87.1 67.1h.3M77.7 63.5h.3M84.2 76.8h.3M74.7 109.3h.3M69.2 77.0h.3M115.6 129.6h.3M99.2 63.6h.3M87.1 55.6h.3M85.0 57.0h.3M73.4 60.9h.3M98.0 70.7h.3M111.9 127.3h.3M107.8 119.8h.3M133.6 99.5h.3M91.2 47.5h.3M110.5 66.8h.3M111.0 130.6h.3M89.5 63.1h.3M133.2 94.3h.3M111.8 127.3h.3M101.2 128.6h.3M94.5 74.4h.3M101.9 72.7h.3M110.7 123.3h.3M107.7 129.5h.3M75.7 60.8h.3M142.4 66.6h.3M106.3 70.4h.3M86.2 84.7h.3M105.7 87.0h.3M90.2 56.9h.3M117.8 62.9h.3M117.9 88.9h.3M101.4 56.2h.3M98.3 70.8h.3M82.9 77.2h.3M99.4 74.2h.3M99.2 68.3h.3M91.9 60.3h.3M116.1 61.1h.3M78.2 60.7h.3M106.1 127.5h.3M82.2 54.2h.3M80.4 57.7h.3M92.4 65.2h.3M72.4 119.5h.3M74.9 44.9h.3M95.1 51.4h.3M105.6 122.1h.3M103.9 71.5h.3M83.8 46.3h.3M134.1 41.3h.3M70.4 45.4h.3M96.1 70.6h.3M90.0 56.3h.3M98.8 124.3h.3M117.1 128.8h.3M100.1 69.2h.3M86.4 72.2h.3M120.5 83.3h.3M104.6 128.8h.3M103.9 81.1h.3M95.5 70.8h.3M96.2 53.4h.3M84.3 68.5h.3M97.4 66.4h.3M150.1 80.5h.3M94.0 51.4h.3M110.1 103.3h.3M111.0 131.4h.3M140.1 106.3h.3M106.3 129.4h.3M81.4 57.3h.3M92.0 72.1h.3M105.6 124.2h.3M100.9 90.6h.3M115.3 120.6h.3M101.8 55.5h.3M108.7 79.4h.3M80.1 63.3h.3M86.1 39.4h.3M99.0 61.3h.3M102.1 111.4h.3M107.1 130.1h.3M89.5 71.4h.3M60.5 88.7h.3M89.9 41.9h.3M76.4 128.8h.3M95.5 54.6h.3M91.8 77.7h.3M113.0 46.6h.3M89.7 55.6h.3M111.5 114.5h.3M97.1 55.6h.3M72.2 55.2h.3M127.9 117.1h.3" stroke="#B4A838" stroke-width="1.0" stroke-linecap="round" fill="none" opacity="0.92"/>
<path d="M118.0 65.0h.3M131.6 60.0h.3M88.8 121.5h.3M126.1 68.7h.3M122.1 57.1h.3M111.5 61.7h.3M114.1 63.3h.3M117.1 63.2h.3M126.0 33.7h.3M61.5 105.8h.3M103.8 67.9h.3M120.9 68.8h.3M132.3 61.3h.3M144.3 107.4h.3M123.1 67.5h.3M128.2 59.8h.3M141.3 86.9h.3M72.1 123.1h.3M112.8 77.3h.3M129.5 87.2h.3M117.5 65.4h.3M110.6 85.6h.3M125.0 68.3h.3M126.2 57.8h.3M124.4 57.7h.3M118.6 36.0h.3M112.3 61.5h.3M119.2 63.9h.3M102.0 110.5h.3M99.1 137.0h.3M118.5 59.5h.3M118.3 69.5h.3M86.1 66.2h.3M125.3 55.5h.3M116.0 69.7h.3M92.9 118.4h.3M76.6 95.4h.3M120.3 56.3h.3M122.7 32.5h.3M135.3 77.9h.3M142.7 66.3h.3M127.0 37.0h.3M84.1 116.3h.3M116.4 35.1h.3M130.5 117.1h.3M105.0 62.0h.3M104.6 61.2h.3M112.3 73.0h.3M98.2 64.1h.3M120.0 72.8h.3M131.6 77.5h.3M107.2 83.8h.3M125.6 40.1h.3M61.2 105.8h.3M126.8 68.9h.3M108.9 56.4h.3M129.2 65.4h.3M104.4 37.1h.3M111.0 85.0h.3M116.5 48.8h.3M115.2 70.7h.3M124.1 65.1h.3M135.5 58.5h.3M124.5 57.4h.3M108.9 64.3h.3M108.6 62.2h.3M142.4 80.7h.3M122.6 45.9h.3M128.9 53.8h.3M119.4 84.1h.3M133.8 65.0h.3M99.7 52.4h.3M115.6 75.4h.3M77.2 55.1h.3M122.9 50.5h.3M123.8 73.5h.3M115.5 76.9h.3M99.6 58.6h.3M117.2 47.5h.3M109.8 116.7h.3M132.4 48.1h.3M120.8 48.5h.3M117.6 51.9h.3M122.6 43.3h.3M118.4 33.2h.3M123.8 55.5h.3M93.2 123.3h.3M116.8 59.2h.3M96.8 85.8h.3M147.9 66.7h.3M109.6 68.7h.3M124.4 59.0h.3M97.4 49.8h.3M120.8 58.7h.3M120.6 46.8h.3M136.4 54.6h.3M121.2 61.3h.3M106.5 27.6h.3M134.2 119.0h.3M122.0 115.6h.3M146.4 72.0h.3M129.3 45.1h.3M64.3 91.3h.3M131.2 84.7h.3M122.1 107.9h.3M82.6 130.2h.3M116.0 60.5h.3M81.2 37.7h.3M130.7 66.3h.3M127.4 55.0h.3M110.0 90.5h.3M127.7 38.2h.3M119.2 117.4h.3M119.6 41.7h.3M83.3 131.5h.3M133.1 89.4h.3M106.4 47.6h.3M126.1 52.0h.3M117.6 69.6h.3M111.8 64.5h.3M111.5 39.7h.3M136.5 63.6h.3M124.6 56.5h.3M125.7 114.6h.3M116.3 60.3h.3M59.0 83.8h.3M107.3 43.4h.3M115.4 59.8h.3M130.2 79.3h.3M135.2 71.6h.3M111.1 130.3h.3M118.9 73.0h.3M131.6 68.6h.3M113.0 69.6h.3M88.3 107.4h.3M116.3 63.7h.3M124.1 50.5h.3M127.4 66.0h.3M90.4 52.5h.3M116.3 54.8h.3M133.7 53.4h.3M122.6 46.1h.3M136.8 53.8h.3M110.2 58.5h.3M121.5 69.0h.3M140.5 103.4h.3M114.0 63.2h.3M126.3 60.5h.3M134.4 85.0h.3M105.4 94.4h.3M120.6 58.8h.3M123.3 45.7h.3M141.5 105.1h.3M124.3 84.2h.3M124.0 48.7h.3M71.3 59.1h.3M126.0 69.2h.3M103.2 65.4h.3M128.3 67.8h.3M125.4 44.5h.3M125.2 62.7h.3M64.4 83.8h.3M118.7 76.9h.3M109.7 51.0h.3M124.7 51.8h.3M112.7 67.6h.3M132.6 49.3h.3M123.6 77.1h.3M134.7 43.2h.3M114.4 55.6h.3M123.8 47.7h.3M116.7 54.1h.3M112.9 40.6h.3M103.5 136.8h.3M120.0 49.0h.3M124.1 48.8h.3M136.7 49.4h.3M121.7 67.7h.3M60.3 104.1h.3M123.8 68.5h.3M122.7 59.2h.3M114.4 73.0h.3M117.8 85.6h.3M105.8 50.5h.3M114.0 72.3h.3M100.7 51.6h.3M84.9 130.9h.3M117.5 61.5h.3M115.7 75.6h.3M119.6 75.0h.3M111.9 67.9h.3M118.3 59.5h.3M128.4 70.9h.3M115.5 58.8h.3M111.6 45.8h.3M117.7 82.0h.3M111.4 50.5h.3M115.4 51.8h.3M117.3 77.0h.3M127.9 64.2h.3" stroke="#D08E2C" stroke-width="1.0" stroke-linecap="round" fill="none" opacity="0.92"/>
<path d="M96.3 70.3h.3M68.2 88.9h.3M117.3 92.4h.3M122.0 41.8h.3M122.9 86.2h.3M144.5 70.2h.3M112.9 107.3h.3M135.3 121.7h.3M84.0 79.0h.3M107.4 92.4h.3M83.1 100.3h.3M98.9 70.2h.3M89.7 101.3h.3M88.8 105.5h.3M118.1 97.4h.3M116.8 88.0h.3M88.3 76.5h.3M94.6 52.6h.3M139.2 105.3h.3M110.7 79.6h.3M87.9 78.5h.3M110.9 69.1h.3M96.9 106.8h.3M143.8 100.9h.3M118.1 88.6h.3M108.4 134.6h.3M109.7 88.4h.3M99.7 107.6h.3M105.2 93.5h.3M81.9 65.4h.3M101.1 94.6h.3M94.9 75.1h.3M59.9 99.5h.3M92.0 77.8h.3M114.0 81.3h.3M144.7 91.9h.3M105.1 103.5h.3M91.7 103.9h.3M114.0 101.6h.3M127.4 88.0h.3M83.3 83.2h.3M89.9 96.8h.3M107.2 117.8h.3M109.0 94.9h.3M111.4 78.0h.3M115.3 104.6h.3M81.0 63.8h.3M111.6 76.7h.3M89.3 78.0h.3M84.8 90.3h.3M114.2 101.9h.3M140.0 100.3h.3M74.9 95.5h.3M140.9 103.1h.3M81.5 83.7h.3M109.1 104.9h.3M90.7 113.1h.3M76.6 85.1h.3M93.7 89.6h.3M116.3 89.0h.3M117.2 100.7h.3M89.9 110.0h.3M92.6 88.5h.3M89.9 89.1h.3M78.5 92.2h.3M86.7 93.1h.3M73.1 76.7h.3M127.9 109.9h.3M85.6 98.8h.3M95.5 78.9h.3M86.6 110.0h.3M84.3 82.0h.3M124.0 99.4h.3M111.6 91.3h.3M121.1 95.0h.3M97.5 76.1h.3M93.6 58.4h.3M90.9 93.8h.3M139.0 62.8h.3M70.1 73.4h.3M99.2 87.1h.3M88.5 68.7h.3M116.0 106.2h.3M113.5 72.6h.3M131.0 109.8h.3M64.4 51.7h.3M86.7 89.5h.3M86.8 84.4h.3M95.8 87.4h.3M95.0 89.7h.3M91.1 57.0h.3M136.5 112.5h.3M114.3 108.4h.3M75.4 91.1h.3M132.5 123.9h.3M109.3 84.0h.3M107.5 83.4h.3M91.4 82.6h.3M96.7 104.1h.3M104.4 97.6h.3M101.7 50.7h.3M132.8 83.8h.3M108.8 60.1h.3M105.3 61.4h.3M113.6 90.0h.3M80.1 89.3h.3M88.0 100.6h.3M114.0 107.6h.3M125.6 114.1h.3M134.3 95.2h.3M149.2 86.7h.3M87.0 74.6h.3M93.3 48.2h.3M100.5 72.0h.3M106.4 87.6h.3M81.7 71.1h.3M104.2 84.2h.3M83.3 100.0h.3M87.8 46.5h.3M101.7 81.0h.3M111.4 109.1h.3M128.4 108.9h.3M87.9 81.7h.3M83.6 101.0h.3M111.5 131.1h.3M93.5 83.6h.3M78.3 91.8h.3M132.3 115.0h.3M133.5 101.1h.3M133.9 78.6h.3M104.7 80.0h.3M126.3 72.7h.3M130.4 113.7h.3M99.8 89.1h.3M80.9 78.6h.3M81.2 83.5h.3M82.9 97.6h.3M121.4 97.0h.3M95.0 57.8h.3M89.2 90.3h.3M102.8 95.4h.3M106.6 83.1h.3M92.7 87.8h.3M137.4 118.2h.3M89.7 92.9h.3M86.6 98.6h.3M122.4 82.5h.3M103.9 49.9h.3M81.5 85.8h.3M123.6 100.1h.3M105.2 63.2h.3M105.4 97.0h.3M104.1 77.5h.3M116.9 120.0h.3M128.1 110.2h.3M118.6 105.8h.3M72.9 69.0h.3M99.0 112.1h.3M87.9 119.0h.3M122.7 58.0h.3M100.5 92.5h.3M130.8 95.1h.3M77.6 87.2h.3M132.9 107.5h.3M91.4 76.8h.3M103.6 92.5h.3M116.7 101.1h.3M90.3 91.4h.3M107.8 91.1h.3M132.1 64.5h.3M93.2 84.1h.3M119.4 113.6h.3M84.4 89.9h.3M113.6 74.2h.3M100.6 90.5h.3M123.1 123.4h.3M115.1 81.5h.3M120.2 92.1h.3M81.4 90.8h.3M95.8 86.9h.3M118.9 109.3h.3M136.6 101.5h.3M147.8 71.0h.3M119.8 98.7h.3M103.8 102.1h.3M93.9 92.5h.3M138.0 98.1h.3M100.5 98.4h.3M100.2 65.8h.3M84.7 77.7h.3M113.4 53.8h.3M112.6 102.9h.3M109.1 98.0h.3M95.8 80.4h.3M94.1 87.9h.3M123.0 92.3h.3M124.8 109.1h.3M80.4 79.9h.3M98.2 87.5h.3M98.6 76.2h.3" stroke="#E0766E" stroke-width="1.0" stroke-linecap="round" fill="none" opacity="0.92"/>
<path d="M66.1 56.9h.3M59.0 55.5h.3M66.4 55.2h.3M68.7 47.6h.3M63.2 58.2h.3M69.1 58.7h.3M56.1 59.8h.3M74.0 59.0h.3M60.5 71.7h.3M74.0 59.9h.3M65.6 62.4h.3M60.4 60.5h.3M69.0 54.8h.3M66.7 50.1h.3M75.5 57.9h.3M65.6 54.6h.3M74.7 52.3h.3M78.1 62.6h.3M70.1 57.9h.3M50.9 42.3h.3M68.5 65.3h.3M76.8 58.9h.3M68.8 49.8h.3M69.3 64.0h.3M64.0 64.4h.3M61.2 57.0h.3M71.5 56.6h.3M68.5 62.5h.3M71.2 64.2h.3M58.9 54.3h.3M67.9 58.8h.3M72.2 51.1h.3M67.5 52.4h.3M67.0 51.0h.3M68.7 59.7h.3M59.1 51.0h.3M72.8 65.5h.3M72.6 59.7h.3M74.4 51.7h.3M76.7 64.1h.3M72.9 70.5h.3M63.7 60.5h.3M69.5 54.0h.3M77.7 52.4h.3M69.5 52.7h.3M59.4 63.1h.3M70.3 62.6h.3M68.9 54.5h.3M70.5 52.5h.3M66.4 58.0h.3M68.8 54.2h.3M68.2 55.7h.3M65.1 61.9h.3M78.9 55.4h.3M65.6 57.8h.3M68.8 53.8h.3M69.6 52.5h.3M63.7 45.0h.3M65.5 51.4h.3M57.0 58.3h.3M76.8 51.3h.3M72.0 61.1h.3M68.1 54.0h.3M79.0 56.5h.3M75.8 53.4h.3M72.4 58.9h.3M63.1 58.1h.3M65.5 55.8h.3M62.6 57.8h.3M69.3 55.3h.3M63.5 61.7h.3M67.7 59.3h.3M72.3 55.1h.3M69.6 61.2h.3M69.7 49.5h.3M73.6 57.0h.3M70.3 52.8h.3M73.8 53.5h.3M63.2 56.0h.3M68.0 54.3h.3M65.7 53.9h.3M67.8 50.9h.3M61.3 60.4h.3M67.6 48.0h.3M65.7 65.1h.3M61.7 56.3h.3M69.2 57.6h.3M70.4 55.6h.3M62.2 61.2h.3M66.0 49.6h.3M70.4 63.3h.3M66.4 65.3h.3M70.4 57.4h.3M67.0 55.6h.3M65.4 55.3h.3M75.1 55.9h.3M74.8 59.1h.3M70.6 53.1h.3M64.9 61.8h.3M62.3 53.9h.3M74.6 60.5h.3M63.7 45.6h.3M76.5 42.2h.3M74.2 55.0h.3M75.8 61.0h.3M68.7 59.2h.3M66.5 57.6h.3M73.0 60.3h.3M74.1 68.5h.3M69.4 62.6h.3M62.2 60.3h.3M65.5 51.4h.3" stroke="#58AE9C" stroke-width="1.0" stroke-linecap="round" fill="none" opacity="0.92"/>
<path d="M111.3 25.2h.3M76.9 103.9h.3M86.4 105.0h.3M107.2 86.8h.3M109.4 27.4h.3M111.2 28.6h.3M87.4 104.6h.3M83.8 101.5h.3M87.3 95.1h.3M80.3 107.7h.3M77.8 108.2h.3M81.7 110.0h.3M105.6 85.1h.3M109.3 28.6h.3M84.2 105.5h.3M106.5 83.8h.3M107.3 28.6h.3M102.0 84.0h.3M104.7 87.1h.3M79.2 110.5h.3M107.3 28.4h.3M103.5 85.0h.3M84.0 103.3h.3M89.1 100.2h.3M104.7 87.2h.3M104.8 86.8h.3M90.3 96.5h.3M85.7 112.5h.3M93.8 107.7h.3M103.0 87.8h.3M84.8 101.9h.3M92.3 96.2h.3M83.1 104.3h.3M91.4 111.2h.3M108.7 28.4h.3M106.0 85.8h.3M79.2 103.6h.3M113.5 27.1h.3M78.2 114.5h.3M83.8 101.0h.3" stroke="#4DA650" stroke-width="1.0" stroke-linecap="round" fill="none" opacity="0.92"/>
<path d="M117.5 60.1h.3M114.0 36.5h.3M91.4 35.9h.3M113.2 89.2h.3M87.0 55.3h.3M122.7 61.9h.3M73.1 114.4h.3M116.3 60.2h.3M106.3 27.2h.3M121.9 125.2h.3M115.8 60.4h.3M111.6 71.4h.3M142.8 90.4h.3M124.7 61.3h.3M107.0 63.2h.3M123.6 55.4h.3M131.0 64.1h.3M109.6 94.8h.3M110.1 36.9h.3M113.4 68.1h.3M133.7 60.0h.3M79.8 118.5h.3M119.1 66.0h.3M122.0 44.0h.3M115.9 57.9h.3M121.7 128.4h.3M118.1 66.8h.3M133.8 73.6h.3M111.8 90.4h.3M122.7 77.7h.3M115.2 57.1h.3M105.3 85.3h.3M109.6 59.0h.3M126.1 45.5h.3M124.5 71.4h.3M138.6 62.5h.3M121.6 63.8h.3M124.4 42.3h.3M141.5 57.5h.3M117.7 78.8h.3M125.0 85.7h.3M62.9 70.2h.3M101.5 78.7h.3M133.3 53.4h.3M117.3 68.2h.3M124.3 46.1h.3M103.9 35.1h.3M122.0 60.1h.3M113.5 57.7h.3M115.1 43.3h.3M132.6 56.2h.3M112.2 69.3h.3M79.0 42.2h.3M84.6 132.7h.3M135.5 44.3h.3M110.3 67.3h.3M121.4 87.4h.3M120.9 44.0h.3M135.5 45.8h.3M106.8 90.7h.3M112.0 38.4h.3M117.5 36.1h.3M114.4 61.8h.3M115.2 60.7h.3M116.7 78.5h.3M119.0 66.8h.3M119.3 61.4h.3M128.2 67.9h.3M113.2 86.4h.3M104.1 78.0h.3M132.6 75.1h.3M135.4 56.7h.3M132.9 38.8h.3M124.8 62.0h.3M87.8 42.7h.3M142.6 100.2h.3M82.8 61.3h.3M115.1 80.6h.3M102.4 65.3h.3M133.3 56.8h.3M96.5 73.6h.3M129.1 72.9h.3M125.0 56.0h.3M114.5 57.1h.3M109.7 57.7h.3M128.4 49.5h.3M111.3 65.6h.3M136.3 41.5h.3M129.0 51.3h.3M121.6 67.2h.3M140.6 61.4h.3M113.4 48.8h.3M129.4 57.9h.3M137.8 58.9h.3M117.6 107.1h.3M113.2 28.4h.3M123.8 93.2h.3M146.7 79.8h.3M105.3 42.6h.3M121.7 56.4h.3M100.8 58.0h.3M69.9 98.1h.3M124.5 53.4h.3M113.5 78.7h.3M115.7 32.7h.3M128.0 84.7h.3M117.8 60.3h.3M131.0 48.3h.3M128.7 40.8h.3M97.6 102.2h.3M124.3 79.2h.3M125.8 47.3h.3M100.7 68.1h.3M133.9 88.8h.3M110.1 78.5h.3M126.3 75.2h.3M123.4 119.6h.3M123.7 39.6h.3M126.8 55.8h.3M117.2 83.4h.3M120.0 58.1h.3M120.5 52.2h.3M125.9 56.4h.3M115.0 47.9h.3M101.0 53.5h.3M69.7 56.9h.3M111.1 82.8h.3M117.4 80.4h.3M70.0 93.7h.3M112.6 86.7h.3M59.8 83.0h.3M118.4 64.7h.3M97.9 40.1h.3M78.9 122.2h.3M73.6 60.6h.3M121.5 61.6h.3M137.0 74.1h.3M81.7 130.9h.3M121.1 65.9h.3M119.5 52.3h.3M127.2 56.0h.3M109.0 74.9h.3M114.3 76.2h.3M72.6 107.4h.3M136.6 53.2h.3M80.9 36.9h.3M148.3 102.2h.3M91.9 27.6h.3M133.6 68.9h.3M123.3 56.4h.3M123.4 62.3h.3M68.8 97.7h.3M62.4 60.2h.3M108.2 63.4h.3M109.2 65.5h.3M135.1 73.4h.3M118.8 63.8h.3M85.3 35.5h.3M114.9 88.0h.3M100.3 131.3h.3M108.9 88.5h.3M125.0 66.6h.3M135.7 86.7h.3M129.4 37.1h.3M116.0 41.5h.3M65.6 51.1h.3M143.0 66.0h.3M112.5 55.8h.3M109.5 30.5h.3M119.8 76.7h.3M107.4 55.3h.3M109.1 52.9h.3M127.9 61.1h.3M111.8 67.8h.3M125.7 64.7h.3M96.2 99.1h.3M120.7 82.7h.3M134.2 80.1h.3M126.5 55.5h.3M124.3 63.2h.3M130.4 58.0h.3M103.1 97.5h.3M131.0 70.2h.3M138.1 120.7h.3M110.4 70.2h.3M122.3 70.5h.3M128.0 50.1h.3M114.8 81.2h.3M72.8 64.6h.3M126.1 51.1h.3M120.0 74.0h.3M104.1 73.7h.3M91.1 69.6h.3M126.7 73.4h.3M68.9 47.0h.3M127.6 55.0h.3M121.4 41.4h.3M116.2 58.5h.3M114.9 85.9h.3M76.5 128.5h.3" stroke="#D08E2C" stroke-width="1.0" stroke-linecap="round" fill="none" opacity="0.92"/>
<path d="M105.2 129.9h.3M87.2 75.1h.3M105.4 35.3h.3M115.1 121.1h.3M96.5 64.8h.3M116.4 105.3h.3M87.3 116.3h.3M110.3 121.9h.3M98.8 74.1h.3M106.8 73.0h.3M108.0 133.8h.3M114.1 127.7h.3M97.0 75.0h.3M83.4 62.5h.3M97.2 37.0h.3M122.3 61.0h.3M95.2 57.7h.3M102.7 76.3h.3M83.0 62.2h.3M96.5 137.2h.3M114.4 72.7h.3M99.0 73.0h.3M101.3 123.9h.3M109.9 66.9h.3M82.8 58.1h.3M65.3 115.6h.3M108.6 120.8h.3M101.9 122.3h.3M117.5 116.5h.3M77.0 57.6h.3M93.8 71.1h.3M97.2 65.5h.3M88.7 57.4h.3M105.6 129.3h.3M73.1 41.4h.3M89.1 61.0h.3M91.6 62.4h.3M90.6 48.1h.3M96.1 71.7h.3M100.5 53.3h.3M112.2 126.5h.3M108.3 130.6h.3M113.5 133.3h.3M75.3 96.8h.3M102.5 69.4h.3M107.1 121.7h.3M119.9 103.0h.3M105.2 129.7h.3M96.9 61.6h.3M113.7 66.3h.3M127.4 52.4h.3M91.8 53.0h.3M129.1 40.9h.3M102.5 82.8h.3M85.8 54.5h.3M94.6 60.2h.3M118.2 129.3h.3M100.5 56.9h.3M97.4 78.1h.3M111.1 124.0h.3M129.6 96.8h.3M94.0 73.6h.3M89.7 71.7h.3M109.8 128.2h.3M85.0 61.7h.3M107.2 70.8h.3M92.9 50.1h.3M61.5 88.4h.3M107.2 126.6h.3M85.4 74.2h.3M66.3 92.3h.3M95.2 67.0h.3M108.8 123.5h.3M112.3 108.0h.3M63.9 57.2h.3M78.6 60.5h.3M122.3 102.0h.3M115.4 75.2h.3M89.4 46.6h.3M93.4 65.7h.3M95.4 68.3h.3M90.3 78.8h.3M79.7 106.8h.3M101.9 62.3h.3M77.0 74.1h.3M104.4 122.0h.3M98.3 115.3h.3M69.8 57.2h.3M110.1 128.4h.3M100.6 56.8h.3M130.3 87.4h.3M74.6 105.4h.3M105.5 70.4h.3M93.5 69.4h.3M99.0 65.7h.3M117.2 77.6h.3M111.5 123.2h.3M83.5 67.9h.3M103.8 67.9h.3M117.7 64.5h.3M106.5 53.7h.3M63.5 99.8h.3M89.7 72.4h.3M58.5 81.4h.3M94.3 58.2h.3M88.2 53.8h.3M111.6 131.3h.3M83.4 60.9h.3M105.0 122.9h.3M68.4 52.6h.3M125.3 100.5h.3M67.3 71.3h.3M110.9 126.2h.3M78.2 57.8h.3M65.9 100.1h.3M74.5 45.7h.3M125.7 71.8h.3M70.7 49.9h.3M90.1 57.9h.3M99.6 127.8h.3M84.2 68.8h.3M91.1 52.6h.3M87.8 49.4h.3M110.2 68.8h.3M96.3 65.8h.3M83.3 55.8h.3M129.7 125.6h.3M137.3 101.2h.3M92.0 127.1h.3M104.3 74.6h.3M83.0 66.9h.3M118.1 36.8h.3M103.9 127.4h.3M141.8 97.0h.3M102.6 70.0h.3M94.9 59.8h.3M108.2 118.8h.3M128.2 124.8h.3M106.6 129.3h.3M139.8 65.0h.3M92.3 66.1h.3M78.9 63.1h.3M91.8 62.0h.3M106.1 117.0h.3M116.8 125.1h.3M104.9 133.8h.3M93.6 77.6h.3M92.2 64.2h.3M95.2 51.4h.3M84.8 47.7h.3M81.5 63.1h.3M91.1 65.4h.3M98.8 58.6h.3M96.2 72.3h.3M117.8 67.0h.3M73.1 124.2h.3M99.0 107.1h.3M140.2 90.7h.3M93.9 60.3h.3M118.2 80.5h.3M132.1 41.0h.3M107.7 125.9h.3M142.5 107.3h.3M81.0 55.8h.3M91.7 68.8h.3M103.0 73.3h.3M97.2 64.9h.3M77.6 73.0h.3M97.4 130.8h.3M95.2 55.9h.3M73.7 108.1h.3M130.4 69.7h.3M100.2 61.1h.3M100.3 74.2h.3M103.1 85.0h.3M101.7 76.5h.3M79.7 60.1h.3M96.6 69.5h.3M109.0 57.7h.3M81.2 102.7h.3M110.5 128.7h.3M127.4 115.1h.3M93.1 68.7h.3M77.4 49.3h.3M97.9 29.5h.3M81.8 60.1h.3M110.0 121.3h.3M116.1 60.7h.3M107.7 133.9h.3M100.8 82.5h.3M105.8 127.8h.3M107.0 124.7h.3M99.2 53.8h.3M115.0 80.3h.3M82.5 77.0h.3M105.6 122.4h.3M75.9 57.0h.3M75.1 51.9h.3M61.1 104.9h.3M148.9 82.8h.3" stroke="#B4A838" stroke-width="1.0" stroke-linecap="round" fill="none" opacity="0.92"/>
<path d="M86.7 64.8h.3M97.1 95.7h.3M115.5 64.2h.3M107.3 88.0h.3M116.0 96.9h.3M89.1 96.6h.3M83.7 62.3h.3M68.5 69.0h.3M93.1 85.8h.3M98.9 86.5h.3M123.9 93.3h.3M94.4 102.7h.3M104.1 110.2h.3M92.3 90.7h.3M82.3 102.4h.3M101.5 85.1h.3M96.3 88.0h.3M121.0 108.4h.3M121.9 98.4h.3M83.1 75.1h.3M87.1 79.1h.3M96.4 74.3h.3M89.4 111.6h.3M107.2 92.8h.3M122.8 99.2h.3M115.1 96.5h.3M87.1 102.0h.3M139.6 114.0h.3M103.0 120.4h.3M99.2 84.8h.3M115.9 86.3h.3M119.6 94.3h.3M103.5 85.6h.3M127.1 67.0h.3M89.1 76.6h.3M82.6 84.9h.3M106.8 79.4h.3M109.5 102.9h.3M119.4 85.1h.3M68.5 104.3h.3M124.6 116.8h.3M89.8 90.9h.3M79.0 101.6h.3M75.2 110.1h.3M102.2 76.4h.3M84.4 70.5h.3M83.8 80.7h.3M90.9 86.3h.3M110.9 82.3h.3M93.0 95.6h.3M79.4 98.3h.3M133.2 115.1h.3M90.4 80.7h.3M131.4 111.0h.3M89.9 72.6h.3M79.2 114.2h.3M80.1 77.3h.3M128.7 111.7h.3M99.5 94.2h.3M86.1 87.3h.3M108.5 91.8h.3M106.9 30.4h.3M97.2 88.6h.3M78.1 91.4h.3M81.1 69.4h.3M116.0 111.6h.3M84.6 110.2h.3M80.0 70.9h.3M115.2 110.4h.3M109.9 95.5h.3M97.1 98.9h.3M128.7 106.4h.3M94.1 70.3h.3M142.6 83.5h.3M139.7 69.2h.3M86.3 91.0h.3M82.3 73.2h.3M98.8 105.2h.3M102.3 63.1h.3M116.1 89.4h.3M129.1 72.4h.3M97.0 103.7h.3M108.7 82.9h.3M96.9 41.3h.3M94.1 95.5h.3M94.2 99.4h.3M127.5 88.6h.3M81.5 57.7h.3M73.7 109.0h.3M96.4 90.3h.3M73.7 93.6h.3M117.9 76.1h.3M92.5 95.9h.3M96.1 86.5h.3M84.0 74.5h.3M93.0 101.7h.3M81.3 92.3h.3M114.3 90.2h.3M87.8 64.2h.3M87.6 89.1h.3M92.1 72.3h.3M117.8 125.5h.3M107.5 74.0h.3M131.6 105.6h.3M76.0 108.4h.3M76.7 80.9h.3M80.9 104.4h.3M129.7 102.0h.3M87.1 66.2h.3M101.1 98.9h.3M121.9 78.6h.3M96.8 46.5h.3M81.7 92.5h.3M94.9 38.9h.3M105.8 89.4h.3M128.6 86.7h.3M92.8 91.8h.3M94.2 77.2h.3M109.4 93.1h.3M85.3 79.6h.3M75.7 38.6h.3M91.5 83.8h.3M76.8 96.6h.3M101.6 82.4h.3M120.6 98.6h.3M121.9 82.5h.3M108.9 88.6h.3M79.7 83.3h.3M73.8 78.7h.3M126.4 104.4h.3M119.2 97.0h.3M103.7 102.8h.3M111.2 102.3h.3M113.1 106.9h.3M114.9 72.1h.3M82.9 103.7h.3M123.4 119.2h.3M75.4 90.6h.3M116.7 94.0h.3M96.5 54.6h.3M113.6 109.7h.3M93.9 82.3h.3M123.3 108.6h.3M102.3 98.6h.3M95.0 106.8h.3M82.6 91.5h.3M90.7 89.1h.3M105.7 62.9h.3M92.9 90.1h.3M82.5 86.0h.3M119.3 98.0h.3M95.9 78.3h.3M115.6 90.0h.3M114.7 105.6h.3M102.9 81.3h.3M110.0 110.0h.3M132.3 66.5h.3M122.6 89.0h.3M82.4 48.2h.3M107.3 88.3h.3M81.7 73.1h.3M98.3 73.8h.3M131.1 117.7h.3M105.3 85.9h.3M142.8 95.3h.3M126.1 67.3h.3M84.6 91.7h.3M73.1 98.4h.3M79.6 76.8h.3M81.8 121.4h.3M94.8 72.9h.3M88.5 73.4h.3M129.2 85.8h.3M130.2 62.9h.3M97.7 115.6h.3M102.5 112.4h.3M91.5 68.7h.3M94.8 106.5h.3M85.2 101.4h.3M93.5 101.5h.3M123.7 105.5h.3M82.1 63.1h.3M98.1 107.9h.3M85.4 86.3h.3M92.2 85.5h.3M125.0 97.4h.3M91.9 98.8h.3M66.5 63.6h.3M79.2 70.8h.3M80.0 101.7h.3M110.1 108.5h.3M109.1 85.7h.3M90.7 91.7h.3M99.8 113.7h.3M66.6 112.9h.3M99.4 78.2h.3M96.0 78.9h.3M122.6 100.7h.3M94.0 117.9h.3M75.3 90.8h.3" stroke="#E0766E" stroke-width="1.0" stroke-linecap="round" fill="none" opacity="0.92"/>
<path d="M84.4 66.6h.3M91.9 55.7h.3M101.3 124.1h.3M112.1 68.4h.3M102.5 126.8h.3M132.4 93.7h.3M80.3 57.8h.3M111.0 77.2h.3M94.0 136.9h.3M94.9 27.3h.3M85.5 62.1h.3M103.2 126.8h.3M87.5 78.0h.3M113.7 63.6h.3M107.9 130.5h.3M109.0 137.7h.3M120.0 79.1h.3M145.4 83.3h.3M71.5 105.7h.3M92.1 109.2h.3M96.5 87.5h.3M102.2 61.2h.3M100.3 72.2h.3M105.0 129.2h.3M64.1 72.2h.3M81.7 54.6h.3M86.5 71.1h.3M100.6 57.6h.3M101.9 131.7h.3M113.1 81.6h.3M78.4 76.5h.3M80.7 67.5h.3M91.7 54.9h.3M137.3 45.2h.3M98.9 77.9h.3M83.9 59.8h.3M127.2 115.6h.3M85.2 70.7h.3M108.7 62.3h.3M141.0 87.0h.3M81.6 66.4h.3M58.4 97.4h.3M110.6 119.9h.3M86.7 70.2h.3M93.4 64.0h.3M109.6 62.8h.3M86.3 54.7h.3M92.9 53.0h.3M115.6 66.7h.3M87.4 61.7h.3M92.9 70.0h.3M79.8 67.7h.3M99.4 103.2h.3M112.5 129.3h.3M109.5 59.2h.3M115.3 115.5h.3M83.9 44.7h.3M108.1 82.9h.3M90.3 84.6h.3M92.9 98.8h.3M106.1 71.6h.3M74.2 125.9h.3M85.3 62.0h.3M120.0 74.5h.3M107.1 61.9h.3M125.0 43.8h.3M99.0 64.4h.3M56.8 84.5h.3M91.2 45.6h.3M109.5 121.5h.3M101.8 68.8h.3M109.1 129.2h.3M99.9 67.8h.3M73.1 76.6h.3M118.0 64.4h.3M81.7 54.6h.3M90.6 46.4h.3M88.4 31.5h.3M100.6 80.6h.3M91.0 69.7h.3M87.8 65.1h.3M97.4 68.7h.3M85.5 51.5h.3M103.5 112.2h.3M105.5 67.0h.3M104.6 125.2h.3M92.6 64.7h.3M78.3 64.7h.3M83.9 67.8h.3M118.7 123.2h.3M96.5 68.1h.3M91.4 90.1h.3M108.5 123.8h.3M65.7 88.5h.3M87.5 74.5h.3M84.6 64.3h.3M73.2 62.5h.3M108.5 75.7h.3M89.7 48.5h.3M106.2 41.2h.3M83.9 54.5h.3M75.3 100.0h.3M129.7 94.2h.3M93.9 62.5h.3M58.4 81.6h.3M104.9 123.4h.3M106.8 70.1h.3M88.9 75.5h.3M91.0 69.0h.3M69.5 52.4h.3M83.3 41.0h.3M98.6 133.1h.3M87.3 117.2h.3M96.9 73.7h.3M73.2 102.5h.3M68.1 114.9h.3M70.4 105.2h.3M140.0 117.1h.3M135.6 80.4h.3M105.0 68.1h.3M99.7 64.8h.3M94.0 66.8h.3M79.7 78.2h.3M76.1 61.9h.3M65.8 86.1h.3M129.1 111.9h.3M107.6 125.2h.3M111.4 73.7h.3M109.2 111.2h.3M88.4 53.3h.3M112.2 125.6h.3M98.4 74.9h.3M106.8 132.7h.3M106.1 112.8h.3M81.9 70.9h.3M103.4 52.7h.3M106.1 39.8h.3M117.0 46.1h.3M109.4 124.6h.3M95.5 64.0h.3M127.6 70.7h.3M135.1 64.0h.3M106.7 137.1h.3M69.2 58.4h.3M125.0 101.5h.3M95.8 72.9h.3M118.3 127.2h.3M97.8 69.0h.3M112.1 96.8h.3M93.3 50.8h.3M91.6 68.5h.3M113.6 59.7h.3M146.6 66.4h.3M72.0 63.3h.3M107.4 125.7h.3M92.8 58.3h.3M93.9 63.4h.3M132.0 82.8h.3M86.3 66.4h.3M104.2 131.6h.3M102.5 67.5h.3M90.3 69.6h.3M106.1 82.6h.3M105.8 128.6h.3M85.5 53.4h.3M97.1 72.4h.3M114.4 125.5h.3M88.4 63.4h.3M87.5 67.1h.3M106.6 58.3h.3M90.6 63.3h.3M81.5 48.6h.3M104.1 133.6h.3M93.4 74.2h.3M118.1 67.5h.3M93.2 128.9h.3M58.7 88.9h.3M89.6 106.0h.3M92.6 50.1h.3M133.6 64.1h.3M66.6 49.6h.3M86.8 128.0h.3M88.4 66.0h.3M91.5 59.9h.3M96.1 106.2h.3M121.2 66.9h.3M104.5 136.0h.3M108.4 69.9h.3M121.4 119.7h.3M85.3 56.1h.3M91.2 70.0h.3M144.5 109.8h.3M110.3 124.5h.3M60.6 82.2h.3M89.7 81.5h.3M130.6 102.8h.3M93.2 75.0h.3M102.3 83.7h.3M104.2 81.5h.3M61.9 95.8h.3" stroke="#B4A838" stroke-width="1.0" stroke-linecap="round" fill="none" opacity="0.92"/>
<path d="M111.9 61.5h.3M127.7 58.9h.3M121.9 79.8h.3M117.3 43.1h.3M62.4 109.4h.3M141.0 65.7h.3M76.4 107.3h.3M110.4 53.9h.3M98.7 54.4h.3M120.1 46.1h.3M123.9 47.4h.3M106.0 116.1h.3M106.7 44.1h.3M124.4 41.7h.3M135.7 77.1h.3M125.0 57.4h.3M118.0 43.6h.3M112.2 64.3h.3M128.6 54.8h.3M115.0 87.2h.3M112.0 57.6h.3M70.6 89.9h.3M120.8 47.3h.3M58.1 71.8h.3M144.4 77.7h.3M117.3 68.8h.3M123.8 64.4h.3M117.5 70.4h.3M119.3 60.5h.3M111.0 61.5h.3M135.8 70.7h.3M123.7 71.2h.3M132.3 54.6h.3M115.6 58.3h.3M104.1 77.9h.3M71.2 50.9h.3M124.9 67.9h.3M141.4 54.0h.3M110.9 76.1h.3M133.4 88.5h.3M95.8 103.0h.3M92.4 129.4h.3M118.2 124.0h.3M133.9 48.6h.3M107.1 76.6h.3M119.9 88.0h.3M126.5 69.7h.3M114.8 70.3h.3M94.3 113.5h.3M107.8 60.4h.3M125.1 67.1h.3M122.1 57.1h.3M132.4 61.7h.3M130.7 55.8h.3M111.1 68.1h.3M126.5 42.7h.3M139.1 59.0h.3M119.6 47.0h.3M91.4 57.4h.3M78.3 42.7h.3M113.2 61.7h.3M111.9 63.9h.3M125.5 44.6h.3M136.1 75.0h.3M117.1 57.8h.3M118.6 33.5h.3M137.3 79.0h.3M59.5 85.7h.3M113.2 35.0h.3M114.2 64.2h.3M116.7 69.5h.3M128.1 54.5h.3M126.3 80.8h.3M135.4 59.0h.3M106.5 67.0h.3M117.7 67.8h.3M58.5 92.9h.3M118.1 72.9h.3M121.0 62.3h.3M134.3 57.2h.3M112.6 44.9h.3M131.1 63.9h.3M117.4 76.8h.3M106.9 94.5h.3M122.3 115.4h.3M116.4 82.0h.3M123.0 48.6h.3M122.9 62.7h.3M105.6 69.9h.3M108.6 27.0h.3M115.5 62.6h.3M109.8 80.2h.3M126.3 85.9h.3M119.8 121.8h.3M126.5 79.2h.3M63.1 89.4h.3M125.2 50.9h.3M124.6 68.4h.3M103.0 74.6h.3M111.7 54.9h.3M116.9 35.8h.3M57.3 83.2h.3M123.4 69.6h.3M93.5 33.6h.3M123.7 132.8h.3M100.6 66.9h.3M116.7 36.9h.3M116.1 67.1h.3M75.7 51.6h.3M125.5 51.4h.3M123.3 89.3h.3M111.3 38.9h.3M82.0 96.6h.3M131.4 80.8h.3M88.7 67.9h.3M113.4 37.3h.3M106.7 67.2h.3M126.9 38.6h.3M115.8 73.9h.3M111.3 72.1h.3M106.1 56.8h.3M103.9 47.6h.3M112.9 74.3h.3M89.3 126.9h.3M112.8 54.9h.3M125.0 73.8h.3M147.0 71.4h.3M127.6 70.3h.3M80.8 94.7h.3M121.2 84.3h.3M124.7 51.0h.3M118.1 52.7h.3M119.3 47.5h.3M125.8 77.4h.3M108.8 29.0h.3M131.6 58.1h.3M130.4 77.0h.3M125.2 58.2h.3M107.4 83.0h.3M141.5 57.9h.3M128.3 55.6h.3M119.3 77.8h.3M122.3 81.9h.3M85.4 125.2h.3M68.7 87.0h.3M129.5 52.4h.3M127.4 49.7h.3M101.0 56.8h.3M134.8 73.3h.3M83.6 84.0h.3M112.1 75.9h.3M126.7 89.1h.3M114.9 45.2h.3M121.5 88.2h.3M120.2 47.9h.3M103.6 64.1h.3M89.8 37.2h.3M108.7 62.9h.3M124.1 60.4h.3M117.1 54.3h.3M122.5 59.5h.3M135.9 57.4h.3M116.3 92.4h.3M138.9 69.6h.3M93.1 54.5h.3M147.0 78.6h.3M96.8 49.2h.3M102.6 84.8h.3M112.3 65.4h.3M125.7 64.2h.3M109.5 106.6h.3M113.7 83.6h.3M135.9 57.5h.3M121.5 36.5h.3M130.6 50.8h.3M110.0 63.3h.3M84.0 38.4h.3M132.7 77.1h.3M105.0 41.5h.3M127.8 70.9h.3M126.8 63.6h.3M118.8 63.7h.3M128.4 92.0h.3M66.7 97.2h.3M128.0 39.8h.3M111.0 31.6h.3M128.7 70.8h.3M127.7 35.7h.3M135.1 72.4h.3M115.7 51.8h.3M139.2 51.3h.3M117.8 56.2h.3M120.9 69.6h.3M138.2 47.1h.3M110.7 53.3h.3M113.2 132.9h.3M122.8 51.5h.3M119.1 58.1h.3M126.3 63.2h.3M129.7 80.8h.3" stroke="#D08E2C" stroke-width="1.0" stroke-linecap="round" fill="none" opacity="0.92"/>
<path d="M67.4 47.2h.3M109.7 123.4h.3M79.6 55.7h.3M98.7 58.8h.3M79.4 55.2h.3M110.4 67.8h.3M131.8 96.3h.3M65.5 101.7h.3M103.4 54.4h.3M100.5 77.2h.3M89.7 48.7h.3M145.9 106.4h.3M113.1 38.2h.3M108.7 125.8h.3M103.3 66.8h.3M103.4 74.8h.3M100.4 128.3h.3M108.5 67.3h.3M103.6 138.1h.3M90.3 58.0h.3M93.2 77.8h.3M115.9 89.9h.3M103.0 65.2h.3M113.8 119.6h.3M98.7 56.4h.3M107.4 128.8h.3M114.9 63.3h.3M109.6 65.2h.3M90.7 52.6h.3M88.7 59.1h.3M95.6 76.3h.3M81.9 44.6h.3M102.8 81.5h.3M105.1 127.9h.3M138.9 79.4h.3M99.4 63.1h.3M112.8 126.0h.3M92.9 69.6h.3M141.0 102.3h.3M95.0 61.1h.3M92.5 60.3h.3M104.6 40.3h.3M109.9 125.0h.3M111.8 75.0h.3M86.0 64.1h.3M112.1 126.5h.3M71.4 119.0h.3M98.4 123.1h.3M127.3 128.3h.3M97.6 44.6h.3M83.2 66.3h.3M88.5 66.0h.3M113.2 118.5h.3M108.8 70.6h.3M102.3 57.5h.3M103.0 72.7h.3M101.4 121.5h.3M106.2 66.4h.3M111.4 122.3h.3M88.1 47.6h.3M102.3 70.3h.3M94.8 58.9h.3M94.5 71.7h.3M126.2 64.7h.3M98.7 70.6h.3M95.8 61.0h.3M102.9 78.9h.3M90.8 107.3h.3M102.3 60.9h.3M99.9 62.8h.3M90.4 127.9h.3M88.6 59.6h.3M126.7 93.7h.3M94.9 71.6h.3M86.5 62.2h.3M93.6 71.0h.3M105.0 124.3h.3M108.2 125.8h.3M105.0 131.2h.3M119.9 36.4h.3M114.3 60.6h.3M97.6 76.1h.3M89.2 66.9h.3M131.8 121.4h.3M137.3 60.9h.3M132.6 93.9h.3M85.4 71.4h.3M77.4 99.9h.3M94.4 82.7h.3M110.7 120.2h.3M133.7 73.4h.3M102.3 132.4h.3M95.6 50.3h.3M92.3 51.2h.3M108.4 68.4h.3M85.6 59.0h.3M90.4 64.8h.3M92.0 73.3h.3M78.5 36.1h.3M93.0 58.6h.3M106.5 51.4h.3M102.9 123.2h.3M87.2 32.8h.3M95.1 60.3h.3M90.1 43.4h.3M103.4 129.9h.3M126.8 56.7h.3M93.7 67.5h.3M82.9 82.3h.3M104.2 117.1h.3M78.2 61.2h.3M97.9 60.3h.3M86.7 36.8h.3M93.3 72.3h.3M104.1 83.3h.3M109.1 130.2h.3M108.3 84.7h.3M90.2 48.6h.3M78.6 62.1h.3M94.9 61.1h.3M128.0 98.9h.3M111.4 123.4h.3M139.8 107.9h.3M108.0 123.8h.3M74.6 41.2h.3M95.2 75.9h.3M105.8 122.8h.3M88.9 75.2h.3M94.0 45.3h.3M82.5 123.0h.3M60.6 65.6h.3M77.4 60.2h.3M81.1 71.6h.3M86.5 61.3h.3M82.4 66.0h.3M143.3 66.3h.3M108.5 136.3h.3M108.6 124.7h.3M108.1 122.3h.3M114.9 106.5h.3M142.1 53.3h.3M86.4 53.3h.3M110.2 70.6h.3M111.7 81.4h.3M101.4 65.9h.3M99.0 75.6h.3M93.3 60.4h.3M80.7 69.6h.3M111.4 130.7h.3M103.5 79.9h.3M97.1 85.4h.3M94.9 79.5h.3M100.9 68.2h.3M106.3 78.1h.3M90.6 54.4h.3M90.2 83.0h.3M87.6 65.7h.3M101.0 59.5h.3M74.8 37.3h.3M142.9 108.9h.3M111.2 131.5h.3M98.6 102.9h.3M82.7 82.5h.3M86.7 57.7h.3M111.2 119.7h.3M93.5 61.5h.3M111.8 126.8h.3M103.2 136.5h.3M94.1 77.8h.3M86.9 54.8h.3M79.0 116.9h.3M94.6 63.7h.3M134.3 40.5h.3M85.3 56.1h.3M95.3 50.6h.3M96.0 73.9h.3M127.2 92.9h.3M133.3 40.5h.3M61.1 60.8h.3M110.5 125.6h.3M91.0 68.9h.3M101.1 64.2h.3M112.6 121.9h.3M89.4 78.2h.3M94.0 73.9h.3M97.4 66.7h.3M130.2 122.3h.3M90.2 68.7h.3M86.6 56.8h.3M85.7 69.9h.3M91.7 49.9h.3M129.3 96.4h.3M103.2 131.3h.3M122.5 63.6h.3M110.6 121.6h.3M119.8 34.9h.3M108.3 123.6h.3M88.9 51.1h.3M73.8 61.1h.3M111.7 125.1h.3" stroke="#B4A838" stroke-width="1.0" stroke-linecap="round" fill="none" opacity="0.92"/>
<path d="M101.5 100.3h.3M112.7 73.0h.3M95.4 85.9h.3M105.4 68.2h.3M80.2 88.2h.3M102.5 80.9h.3M88.3 93.1h.3M132.8 125.7h.3M97.8 93.2h.3M98.4 88.9h.3M82.5 58.5h.3M122.8 111.6h.3M133.1 78.9h.3M94.2 96.5h.3M117.4 90.6h.3M118.5 104.0h.3M114.6 87.0h.3M108.9 72.4h.3M59.7 80.6h.3M103.8 71.1h.3M130.7 45.2h.3M101.9 92.8h.3M85.1 82.6h.3M74.6 93.6h.3M100.0 81.5h.3M83.4 78.9h.3M97.2 83.3h.3M120.3 114.6h.3M81.0 100.1h.3M95.4 84.3h.3M73.1 59.8h.3M121.6 90.0h.3M148.8 80.3h.3M79.8 47.8h.3M107.3 100.5h.3M95.1 84.5h.3M94.1 94.5h.3M112.4 84.5h.3M120.6 85.3h.3M98.8 94.3h.3M129.9 108.4h.3M82.0 79.7h.3M95.3 83.2h.3M130.2 49.4h.3M95.6 82.2h.3M96.1 80.9h.3M120.8 90.2h.3M115.4 99.2h.3M92.0 96.1h.3M67.4 95.8h.3M121.3 114.4h.3M86.9 88.8h.3M115.0 96.1h.3M111.8 122.3h.3M94.8 98.5h.3M139.0 69.3h.3M124.0 117.2h.3M112.2 92.9h.3M89.8 104.0h.3M109.8 72.7h.3M119.3 89.8h.3M136.9 83.7h.3M75.5 70.6h.3M117.9 35.7h.3M93.7 82.8h.3M135.2 86.0h.3M97.4 114.8h.3M96.9 80.5h.3M128.2 77.4h.3M96.8 93.0h.3M91.5 111.5h.3M85.6 76.5h.3M101.6 84.4h.3M97.4 72.1h.3M82.4 93.4h.3M127.9 70.5h.3M133.1 100.3h.3M76.1 91.7h.3M97.6 91.2h.3M126.7 106.4h.3M93.8 75.2h.3M111.7 89.2h.3M70.7 85.7h.3M95.6 40.7h.3M122.7 97.2h.3M105.7 93.9h.3M114.1 76.1h.3M94.3 95.8h.3M92.0 73.3h.3M101.2 86.4h.3M121.1 91.6h.3M90.6 81.4h.3M137.4 102.0h.3M86.1 54.3h.3M92.8 101.4h.3M105.4 75.3h.3M99.3 79.2h.3M135.8 108.4h.3M120.2 93.7h.3M78.9 108.9h.3M111.2 90.9h.3M107.2 73.1h.3M100.6 94.9h.3M107.4 85.2h.3M73.3 115.1h.3M101.7 110.3h.3M102.0 135.7h.3M87.1 93.4h.3M98.3 84.5h.3M103.9 73.6h.3M89.8 101.3h.3M138.2 118.5h.3M88.4 90.7h.3M126.0 105.8h.3M136.8 110.9h.3M107.2 118.5h.3M73.3 103.8h.3M98.7 100.0h.3M121.5 92.8h.3M90.0 69.2h.3M97.1 62.1h.3M117.5 96.0h.3M102.3 83.4h.3M105.8 101.8h.3M70.5 82.2h.3M114.0 55.3h.3M92.1 86.4h.3M117.7 58.3h.3M125.3 87.6h.3M81.2 81.9h.3M77.5 94.7h.3M99.3 67.4h.3M104.6 96.1h.3M117.4 76.9h.3M127.1 91.9h.3M130.2 95.5h.3M112.2 95.6h.3M102.7 88.4h.3M85.7 104.3h.3M133.7 67.0h.3M106.9 92.5h.3M77.5 87.3h.3M101.0 87.7h.3M83.3 131.3h.3M88.0 67.8h.3M127.9 104.4h.3M135.0 71.0h.3M121.8 92.2h.3M107.1 104.7h.3M126.8 102.2h.3M89.5 79.4h.3M88.9 75.9h.3M144.1 97.3h.3M105.5 102.8h.3M107.5 93.1h.3M123.8 109.0h.3M109.1 90.4h.3M109.9 104.3h.3M110.0 81.8h.3M85.1 73.8h.3M98.2 93.1h.3M65.5 110.9h.3M78.9 80.0h.3M82.7 91.5h.3M83.3 128.3h.3M131.3 103.6h.3M91.2 92.9h.3M84.3 96.7h.3M87.8 86.0h.3M94.5 83.7h.3M97.7 78.9h.3M93.5 70.3h.3M104.9 79.3h.3M91.3 69.9h.3M103.5 103.4h.3M105.4 114.4h.3M85.7 93.8h.3M89.1 104.1h.3M133.5 89.6h.3M91.0 77.1h.3M92.2 60.9h.3M89.9 73.4h.3M130.3 104.0h.3M81.7 82.0h.3M119.6 98.0h.3M73.8 87.5h.3M122.4 92.0h.3M127.5 124.0h.3M90.2 96.9h.3M72.6 99.6h.3M96.0 82.0h.3M92.2 100.9h.3M88.3 63.0h.3M101.6 83.5h.3M118.5 91.6h.3M87.6 111.0h.3M100.7 97.5h.3M68.7 82.8h.3M85.8 96.7h.3M100.4 124.0h.3" stroke="#E0766E" stroke-width="1.0" stroke-linecap="round" fill="none" opacity="0.92"/>
<path d="M90.3 121.1h.3M96.4 45.9h.3M87.3 85.7h.3M118.1 62.2h.3M130.8 79.8h.3M120.2 79.9h.3M78.1 114.5h.3M123.8 83.6h.3M110.9 55.8h.3M81.3 128.9h.3M116.4 45.6h.3M123.0 60.7h.3M111.0 63.0h.3M109.2 46.0h.3M109.4 80.1h.3M132.6 62.8h.3M112.9 40.9h.3M116.5 45.8h.3M125.0 88.3h.3M127.7 54.2h.3M125.9 95.3h.3M109.5 45.9h.3M127.9 74.5h.3M120.7 49.8h.3M129.7 62.6h.3M122.5 61.2h.3M112.2 70.2h.3M132.4 42.7h.3M117.6 73.3h.3M99.9 60.2h.3M115.1 31.4h.3M97.9 70.8h.3M112.0 66.6h.3M67.6 55.1h.3M103.4 28.6h.3M142.4 61.4h.3M109.5 51.6h.3M128.5 72.9h.3M115.4 72.5h.3M144.1 85.8h.3M88.3 97.9h.3M120.4 46.6h.3M138.9 84.9h.3M125.3 91.6h.3M124.3 105.9h.3M117.4 54.9h.3M69.0 64.7h.3M133.6 55.3h.3M129.5 39.1h.3M116.7 115.5h.3M108.5 51.4h.3M130.4 56.1h.3M127.6 66.5h.3M117.6 82.7h.3M117.4 55.8h.3M104.3 125.8h.3M69.7 60.7h.3M115.5 71.6h.3M117.4 87.0h.3M109.8 38.0h.3M122.2 90.0h.3M128.4 72.2h.3M63.4 100.4h.3M143.8 89.6h.3M99.5 39.7h.3M117.1 67.1h.3M108.5 120.2h.3M112.9 86.7h.3M120.1 60.4h.3M66.0 109.0h.3M136.8 62.2h.3M108.6 58.1h.3M123.3 86.8h.3M120.8 70.4h.3M74.7 56.3h.3M63.8 77.4h.3M123.3 45.8h.3M95.3 31.4h.3M86.7 105.5h.3M102.8 87.8h.3M120.1 80.3h.3M116.1 68.2h.3M81.3 129.7h.3M116.3 47.2h.3M120.3 32.3h.3M119.2 47.2h.3M135.1 93.4h.3M137.1 76.1h.3M90.5 60.5h.3M125.2 58.6h.3M113.1 26.5h.3M119.9 60.4h.3M116.3 62.7h.3M123.2 66.1h.3M132.6 77.3h.3M109.2 73.8h.3M121.8 66.8h.3M111.7 55.9h.3M96.7 86.8h.3M129.3 75.5h.3M123.5 59.0h.3M119.6 55.6h.3M118.1 58.3h.3M117.0 51.0h.3M112.3 70.4h.3M109.4 56.8h.3M107.7 51.2h.3M131.1 58.9h.3M118.2 62.1h.3M115.6 58.9h.3M122.6 77.3h.3M113.5 47.2h.3M110.2 86.1h.3M125.0 51.4h.3M77.7 54.4h.3M119.9 90.5h.3M147.5 100.8h.3M113.2 71.5h.3M86.3 88.7h.3M104.7 40.0h.3M66.9 85.4h.3M82.1 105.4h.3M122.1 71.0h.3M113.5 63.0h.3M115.7 68.1h.3M108.5 50.1h.3M126.0 74.9h.3M123.0 51.2h.3M125.0 52.8h.3M119.4 63.2h.3M117.2 67.1h.3M112.5 71.9h.3M112.9 73.8h.3M105.3 99.4h.3M100.9 79.6h.3M126.8 53.1h.3M80.3 122.1h.3M133.5 93.7h.3M118.4 77.6h.3M105.0 62.2h.3M137.1 102.2h.3M119.8 61.5h.3M112.4 45.1h.3M103.2 68.2h.3M127.2 76.1h.3M130.4 77.0h.3M114.0 51.7h.3M114.3 81.6h.3M57.2 72.1h.3M86.4 29.7h.3M127.7 98.0h.3M114.7 49.7h.3M98.4 61.3h.3M129.5 64.0h.3M129.2 62.6h.3M106.1 72.8h.3M74.1 124.6h.3M123.7 55.2h.3M112.9 60.3h.3M95.0 47.1h.3M121.0 72.5h.3M133.0 69.9h.3M78.2 49.0h.3M108.9 59.9h.3M126.8 35.5h.3M132.7 60.1h.3M140.5 53.3h.3M117.6 58.5h.3M64.6 94.3h.3M120.4 57.9h.3M112.9 67.9h.3M132.2 62.7h.3M128.9 67.5h.3M84.1 56.8h.3M126.5 72.8h.3M102.7 61.1h.3M133.3 95.0h.3M136.0 101.7h.3M75.8 111.0h.3M120.8 42.4h.3M103.1 120.4h.3M123.5 40.3h.3M113.8 66.5h.3M104.8 75.4h.3M66.5 89.0h.3M108.7 75.0h.3M111.0 59.6h.3M103.0 138.2h.3M120.8 84.5h.3M130.9 60.9h.3M110.7 28.0h.3M117.8 58.0h.3M129.3 77.1h.3M127.5 83.3h.3M86.4 44.3h.3M139.9 94.7h.3M116.6 80.0h.3M116.2 79.5h.3M120.6 131.6h.3M144.2 68.1h.3" stroke="#D08E2C" stroke-width="1.0" stroke-linecap="round" fill="none" opacity="0.92"/>
<path d="M77.9 120.0h.3M96.5 79.8h.3M76.4 102.4h.3M83.8 64.6h.3M95.9 72.5h.3M121.2 85.1h.3M91.9 74.5h.3M88.1 76.0h.3M121.2 95.9h.3M99.8 89.8h.3M146.8 61.5h.3M71.2 81.4h.3M93.7 71.1h.3M83.5 86.3h.3M130.7 63.2h.3M92.6 78.1h.3M107.1 82.8h.3M111.2 77.9h.3M116.9 96.1h.3M100.6 78.1h.3M90.1 92.6h.3M87.0 38.7h.3M83.1 83.1h.3M94.1 103.5h.3M100.1 70.6h.3M64.3 105.5h.3M94.0 94.1h.3M88.9 106.6h.3M96.7 73.7h.3M81.5 88.0h.3M106.6 66.0h.3M132.8 82.5h.3M119.1 81.3h.3M86.6 57.5h.3M106.7 102.8h.3M101.7 91.0h.3M94.9 101.5h.3M77.1 86.8h.3M84.2 75.6h.3M104.4 108.9h.3M122.4 125.3h.3M81.3 79.8h.3M99.6 79.8h.3M124.4 94.2h.3M77.6 101.5h.3M103.1 87.5h.3M73.6 79.3h.3M95.1 33.8h.3M108.9 102.0h.3M73.8 73.7h.3M145.4 95.0h.3M97.9 102.7h.3M122.2 96.4h.3M89.1 86.3h.3M85.3 77.5h.3M78.7 84.0h.3M84.9 95.6h.3M102.7 91.2h.3M93.2 71.0h.3M93.8 85.8h.3M93.0 95.7h.3M105.3 86.6h.3M102.5 90.6h.3M90.9 84.2h.3M96.4 86.6h.3M104.2 84.4h.3M93.1 69.4h.3M125.4 78.4h.3M114.4 96.6h.3M116.8 87.2h.3M95.5 77.4h.3M82.5 99.8h.3M77.7 78.3h.3M90.8 75.7h.3M97.8 107.8h.3M110.0 65.4h.3M127.6 114.0h.3M88.5 75.2h.3M111.4 101.7h.3M128.7 88.4h.3M104.6 90.8h.3M140.1 89.1h.3M93.7 95.5h.3M84.6 36.3h.3M110.1 91.9h.3M75.9 93.6h.3M102.1 112.1h.3M81.8 77.2h.3M125.6 114.8h.3M89.7 86.1h.3M100.1 83.1h.3M99.3 82.4h.3M122.0 79.1h.3M114.1 69.5h.3M114.1 104.5h.3M85.6 94.4h.3M114.9 42.6h.3M104.5 76.6h.3M130.6 97.8h.3M85.4 87.9h.3M85.2 98.9h.3M67.7 99.4h.3M97.9 78.5h.3M100.0 98.5h.3M75.7 88.3h.3M91.2 82.8h.3M106.9 108.0h.3M146.9 91.0h.3M90.6 73.2h.3M78.4 80.7h.3M73.3 119.2h.3M134.1 94.7h.3M107.3 66.5h.3M65.2 79.6h.3M86.2 102.9h.3M126.4 98.5h.3M88.5 85.0h.3M92.4 76.0h.3M123.5 88.7h.3M90.6 100.5h.3M102.7 57.5h.3M115.1 110.8h.3M100.3 37.6h.3M86.0 82.8h.3M98.6 85.4h.3M109.1 89.8h.3M106.8 79.2h.3M104.5 62.0h.3M87.1 69.6h.3M122.3 85.6h.3M110.9 100.6h.3M99.3 106.4h.3M137.0 95.9h.3M105.3 97.7h.3M88.7 87.7h.3M118.4 108.7h.3M96.0 88.3h.3M83.5 102.1h.3M88.6 96.2h.3M68.7 116.8h.3M92.1 84.5h.3M100.1 133.8h.3M94.8 33.1h.3M94.3 55.9h.3M87.4 104.4h.3M119.6 88.4h.3M133.1 37.7h.3M119.8 96.3h.3M130.9 95.6h.3M112.6 101.9h.3M99.8 77.8h.3M107.5 76.5h.3M105.5 59.3h.3M95.8 54.4h.3M87.5 82.3h.3M105.5 77.9h.3M97.8 94.7h.3M107.1 80.5h.3M114.2 99.7h.3M124.9 83.1h.3M85.7 87.0h.3M89.2 42.1h.3M90.3 104.1h.3M85.8 95.8h.3M84.9 92.6h.3M100.7 86.5h.3M96.5 96.2h.3M135.9 115.2h.3M90.5 56.5h.3M104.0 104.7h.3M63.9 79.1h.3M97.8 101.6h.3M125.8 84.9h.3M95.6 88.4h.3M94.1 85.9h.3M100.1 91.8h.3M121.2 84.3h.3M102.2 83.8h.3M94.7 71.1h.3M112.1 93.5h.3M95.0 80.1h.3M100.7 51.3h.3M92.7 83.4h.3M86.2 89.7h.3M116.2 85.6h.3M67.1 85.4h.3M82.6 79.3h.3M89.1 90.7h.3M110.2 96.1h.3M121.4 116.8h.3M115.5 77.3h.3M106.3 92.9h.3M92.7 68.8h.3M98.6 70.1h.3M106.7 35.5h.3M89.6 115.1h.3M95.6 86.9h.3M127.6 126.9h.3M140.5 91.0h.3M107.8 44.9h.3" stroke="#E0766E" stroke-width="1.0" stroke-linecap="round" fill="none" opacity="0.92"/>
<path d="M108.1 36.4h.3M109.1 94.3h.3M93.7 101.5h.3M70.5 83.1h.3M124.5 68.6h.3M127.3 47.3h.3M96.6 94.0h.3M136.0 105.5h.3M102.1 85.1h.3M90.2 93.3h.3M105.1 88.2h.3M75.6 78.7h.3M80.6 100.5h.3M103.1 96.4h.3M138.2 68.7h.3M83.6 77.4h.3M81.7 87.7h.3M79.1 97.9h.3M68.2 95.4h.3M79.2 108.0h.3M141.7 100.7h.3M100.8 96.8h.3M69.0 92.2h.3M83.2 58.2h.3M136.0 96.7h.3M90.3 88.5h.3M74.8 78.8h.3M110.6 48.6h.3M93.1 98.8h.3M76.6 87.0h.3M95.5 98.5h.3M95.3 90.3h.3M117.4 125.5h.3M76.8 44.6h.3M93.4 83.8h.3M83.2 94.1h.3M122.6 108.7h.3M143.0 53.7h.3M102.1 91.8h.3M93.3 70.7h.3M92.6 92.0h.3M105.0 89.0h.3M91.2 66.4h.3M113.1 105.0h.3M123.8 82.4h.3" stroke="#E0766E" stroke-width="1.0" stroke-linecap="round" fill="none" opacity="0.92"/>
<path d="M138.1 116.4h.3M112.4 62.4h.3M128.4 47.4h.3M109.3 45.3h.3M132.5 65.3h.3M108.4 69.8h.3M108.3 76.4h.3M119.1 48.5h.3M125.6 71.2h.3M112.0 75.1h.3M143.5 100.3h.3M102.1 66.3h.3M96.0 55.1h.3M121.0 57.5h.3M134.0 71.4h.3M114.8 75.2h.3M118.1 76.6h.3M95.8 131.3h.3M117.6 49.6h.3M114.0 82.0h.3M131.1 87.8h.3M113.0 76.0h.3M120.0 53.7h.3M107.1 66.1h.3M110.0 32.8h.3M109.5 137.0h.3M126.0 64.8h.3M145.7 94.0h.3M60.7 85.3h.3M118.5 74.2h.3M123.4 69.6h.3M139.0 94.9h.3M126.7 72.3h.3M65.8 73.4h.3M122.6 67.1h.3M97.7 138.5h.3M113.4 63.8h.3M128.9 84.0h.3M108.7 57.1h.3M136.3 69.0h.3M107.1 68.5h.3M122.2 67.4h.3M121.4 67.0h.3M104.1 59.9h.3M109.4 33.2h.3M77.9 55.9h.3M117.4 46.6h.3M119.1 47.0h.3M131.7 66.9h.3M118.7 54.4h.3M100.5 40.5h.3M119.9 86.9h.3M122.7 78.5h.3M125.9 45.1h.3M112.0 59.3h.3M113.2 68.9h.3M103.2 109.3h.3M121.2 66.5h.3M123.9 93.2h.3M78.1 121.0h.3M120.9 53.6h.3M86.0 79.4h.3M118.1 59.9h.3M125.3 67.1h.3M131.9 88.2h.3M122.4 52.4h.3M113.1 53.4h.3M116.8 45.7h.3M130.5 45.0h.3M131.6 92.2h.3M75.4 112.3h.3M140.2 51.0h.3M94.1 27.6h.3M125.0 77.1h.3M140.8 54.5h.3M136.3 65.6h.3M115.1 47.7h.3M82.6 76.8h.3M131.5 52.8h.3M72.5 85.8h.3M133.2 61.5h.3M121.2 55.3h.3M115.9 78.8h.3M119.9 58.8h.3M124.1 82.4h.3M134.6 50.2h.3M112.4 33.2h.3M130.9 60.2h.3M123.5 72.1h.3M111.1 55.2h.3M127.6 76.4h.3M119.6 44.8h.3M109.4 58.9h.3M121.4 50.8h.3M113.6 113.5h.3M141.0 90.4h.3M115.6 54.9h.3M124.5 91.1h.3M74.9 64.2h.3M131.3 63.3h.3M118.3 60.9h.3M125.2 78.1h.3M121.8 41.3h.3M93.5 90.4h.3M116.6 96.2h.3M71.7 78.9h.3M116.0 34.1h.3M78.3 125.2h.3M123.6 67.7h.3M114.8 52.9h.3M114.1 67.2h.3M135.4 108.8h.3M107.2 73.3h.3M108.6 68.0h.3M130.7 65.6h.3M109.9 50.3h.3M120.8 42.8h.3M117.8 55.5h.3M79.4 101.4h.3M108.7 84.1h.3M105.7 54.5h.3M71.5 103.7h.3M83.5 107.0h.3M135.2 54.4h.3M111.8 130.7h.3M108.8 137.1h.3M120.2 39.4h.3M74.0 114.0h.3M112.7 42.7h.3M122.9 73.8h.3M120.0 71.9h.3M120.5 68.4h.3M129.5 80.2h.3M118.7 50.1h.3M128.6 73.5h.3M119.3 60.4h.3M116.6 66.9h.3M135.6 60.0h.3M122.2 42.9h.3M106.9 69.1h.3M104.6 54.9h.3M136.0 67.3h.3M124.4 66.2h.3M115.2 73.6h.3M110.7 37.4h.3M141.0 89.9h.3M118.0 59.7h.3M103.0 46.6h.3M118.3 60.3h.3M121.6 79.4h.3M130.2 55.6h.3M111.2 39.2h.3M77.4 36.9h.3M117.8 58.5h.3M135.5 55.7h.3M109.7 69.0h.3M127.2 65.8h.3M111.8 31.2h.3M128.9 106.1h.3M129.2 81.5h.3M116.5 39.0h.3M125.5 63.0h.3M124.7 126.1h.3M120.0 57.4h.3M112.2 40.6h.3M117.1 54.2h.3M126.8 81.4h.3M102.5 56.8h.3M117.6 51.8h.3M113.7 52.3h.3M136.8 62.9h.3M102.6 36.1h.3M118.3 72.9h.3M115.0 55.4h.3M111.4 48.3h.3M109.9 68.1h.3M127.3 71.9h.3M114.7 57.8h.3M116.3 47.6h.3M123.2 62.5h.3M121.7 57.9h.3M117.8 67.7h.3M119.0 64.5h.3M110.5 49.9h.3M120.0 85.4h.3M127.9 65.7h.3M115.0 77.3h.3M107.8 67.6h.3M107.4 74.1h.3M127.6 55.3h.3M109.8 120.8h.3M123.6 56.4h.3M124.8 57.3h.3M107.9 60.1h.3M91.8 35.7h.3M126.5 59.3h.3M138.0 64.2h.3M102.3 44.7h.3M122.1 45.2h.3M121.9 38.8h.3" stroke="#D08E2C" stroke-width="1.0" stroke-linecap="round" fill="none" opacity="0.92"/>
<path d="M98.2 127.5h.3M104.8 86.5h.3M78.1 62.4h.3M81.2 74.1h.3M92.0 85.7h.3M95.0 70.1h.3M129.2 107.2h.3M104.0 63.3h.3M96.1 68.5h.3M90.4 62.8h.3M105.6 55.4h.3M99.3 43.4h.3M107.7 127.0h.3M89.8 57.9h.3M71.6 40.8h.3M90.5 67.8h.3" stroke="#B4A838" stroke-width="1.0" stroke-linecap="round" fill="none" opacity="0.92"/>
<path d="M144.5 126.5h.3M144.8 123.1h.3M149.0 124.7h.3M148.0 125.2h.3M146.6 122.8h.3M147.8 124.6h.3M147.2 124.9h.3M145.3 123.0h.3M148.1 124.1h.3M146.8 124.9h.3M147.3 122.5h.3M147.2 121.3h.3M146.1 124.3h.3M149.2 123.4h.3M146.7 124.6h.3M145.3 124.4h.3M147.3 123.8h.3M148.1 121.0h.3M144.4 121.0h.3M146.8 124.6h.3M145.4 124.3h.3M145.5 119.7h.3M146.8 124.0h.3M145.5 123.9h.3M146.6 120.2h.3M146.8 123.2h.3M145.6 124.0h.3M145.7 121.3h.3M148.4 124.9h.3M146.7 126.5h.3M146.5 119.8h.3M146.8 122.8h.3M143.6 123.1h.3M145.8 121.2h.3M147.7 125.3h.3M144.7 122.8h.3M147.5 124.7h.3M144.8 121.6h.3M143.4 123.7h.3M145.2 124.3h.3M146.5 123.6h.3M147.4 123.1h.3" stroke="#B25FB6" stroke-width="1.0" stroke-linecap="round" fill="none" opacity="0.92"/>
<path d="M85.4 87.0h.3M120.5 96.9h.3M81.2 80.1h.3M97.1 103.9h.3M119.0 96.7h.3M94.2 89.8h.3M104.9 92.0h.3M90.0 82.1h.3M119.1 104.4h.3M122.8 121.9h.3M97.5 80.2h.3M94.5 69.1h.3M90.1 103.9h.3M114.8 49.7h.3M130.3 96.5h.3M76.6 92.8h.3M85.3 92.4h.3M128.6 95.4h.3M76.7 79.6h.3M87.3 86.3h.3M119.7 63.6h.3M86.6 81.2h.3M111.6 66.6h.3M84.6 89.1h.3M90.3 89.4h.3M92.2 88.3h.3M104.4 74.9h.3M99.6 93.9h.3M119.5 73.6h.3M105.8 122.4h.3M81.9 92.0h.3M93.6 69.2h.3M93.5 97.3h.3M124.2 118.4h.3M136.7 94.4h.3M118.4 42.1h.3M107.7 71.4h.3M110.2 30.4h.3M81.0 86.6h.3M122.2 104.4h.3M138.9 81.6h.3M94.3 99.9h.3M112.3 119.0h.3M115.6 78.6h.3M107.5 94.7h.3M71.7 81.1h.3M90.0 87.7h.3M125.6 85.2h.3M99.7 93.6h.3M108.7 96.0h.3M144.4 100.7h.3M92.2 80.6h.3M126.6 104.7h.3M138.2 102.6h.3M89.2 89.3h.3M103.8 63.0h.3M101.0 84.5h.3M78.6 88.5h.3M73.6 99.5h.3M124.5 103.7h.3M98.8 135.0h.3M109.7 79.8h.3M75.8 75.6h.3M97.6 86.5h.3M90.5 91.6h.3M82.0 86.4h.3M101.7 91.3h.3M119.6 111.0h.3M107.4 72.1h.3M78.0 70.5h.3M69.4 87.0h.3M121.6 106.6h.3M121.0 99.0h.3M110.8 95.5h.3M94.4 69.7h.3M142.1 105.1h.3M132.0 109.5h.3M91.2 29.3h.3M84.4 73.8h.3M96.1 26.9h.3M116.7 76.5h.3M108.1 74.3h.3M108.9 86.9h.3M80.4 83.2h.3M67.2 49.4h.3M86.7 70.4h.3M109.4 92.8h.3M86.5 79.1h.3M97.1 69.8h.3M93.8 87.0h.3M132.6 107.3h.3M132.0 83.1h.3M106.5 69.2h.3M94.9 79.4h.3M108.7 92.5h.3M81.5 92.4h.3M95.9 74.7h.3M84.5 105.8h.3M98.9 117.4h.3M81.7 91.0h.3M108.5 108.7h.3M70.2 90.9h.3M115.7 95.4h.3M107.4 107.6h.3M122.8 76.8h.3M65.0 75.5h.3M120.1 106.1h.3M84.7 104.8h.3M93.1 68.5h.3M98.7 54.0h.3M121.9 116.8h.3M83.1 79.4h.3M82.5 96.9h.3M106.3 80.8h.3M81.5 87.8h.3M141.1 78.8h.3M83.2 99.8h.3M75.9 81.9h.3M108.8 98.0h.3M122.5 102.3h.3M115.6 85.2h.3M107.3 109.7h.3M117.4 111.6h.3M113.2 111.7h.3M84.9 95.1h.3M100.2 83.7h.3M102.4 94.4h.3M98.0 92.3h.3M91.7 54.4h.3M88.1 72.3h.3M85.6 74.5h.3M91.9 101.8h.3M133.1 83.3h.3M114.5 78.8h.3M80.5 100.5h.3M82.7 77.4h.3M102.7 73.8h.3M102.7 65.9h.3M137.1 85.4h.3M84.4 98.8h.3M82.2 97.4h.3M83.9 91.2h.3M110.4 137.3h.3M90.4 88.8h.3M117.2 92.2h.3M122.6 44.8h.3M64.9 66.2h.3M113.2 78.6h.3M137.1 112.6h.3M97.2 76.2h.3M82.6 81.3h.3M112.5 90.0h.3M93.6 94.3h.3M132.5 118.0h.3M91.9 85.9h.3M108.9 76.3h.3M75.3 47.4h.3M81.4 37.7h.3M91.7 79.7h.3M96.5 68.0h.3M109.8 69.8h.3M94.2 93.3h.3M137.1 98.9h.3M76.2 81.8h.3M99.5 74.1h.3M92.0 93.1h.3M84.1 91.2h.3M93.2 98.3h.3M93.3 85.1h.3M110.6 102.1h.3M89.0 86.8h.3M95.8 100.2h.3M90.9 66.3h.3M92.4 107.6h.3M142.5 106.1h.3M65.5 83.0h.3M97.6 93.6h.3M92.8 88.5h.3M91.8 97.4h.3M127.6 83.2h.3M126.1 99.3h.3M120.6 90.9h.3M86.7 46.6h.3M85.8 88.3h.3M115.1 95.4h.3M98.6 82.9h.3M97.7 104.4h.3M105.5 98.8h.3M90.1 85.3h.3M66.7 91.6h.3M98.7 91.3h.3M97.0 71.2h.3M76.7 100.8h.3M113.6 83.7h.3M86.5 105.1h.3M120.1 90.2h.3M142.2 111.6h.3M125.8 81.7h.3M125.9 107.1h.3M98.7 101.3h.3" stroke="#E0766E" stroke-width="1.0" stroke-linecap="round" fill="none" opacity="0.92"/>
<path d="M132.7 107.1h.3M118.0 98.7h.3M140.0 124.6h.3M128.9 119.2h.3M137.6 116.8h.3M136.6 115.2h.3M134.6 115.3h.3M125.9 107.8h.3M135.2 122.4h.3M132.6 121.1h.3M130.6 122.8h.3M136.7 118.8h.3M141.0 124.8h.3M117.2 100.3h.3M132.1 117.9h.3M124.1 112.9h.3M130.4 115.4h.3M131.1 121.3h.3M138.4 122.6h.3M134.9 119.4h.3M129.9 113.2h.3M119.3 116.9h.3M135.0 129.7h.3M134.4 119.4h.3M116.3 97.3h.3M128.8 117.1h.3M137.4 120.7h.3M139.2 122.9h.3M126.9 112.2h.3M126.4 104.3h.3M133.6 107.7h.3M122.5 104.1h.3M132.2 122.1h.3M132.9 120.3h.3M136.7 116.3h.3M129.7 103.0h.3M119.9 115.1h.3M139.4 113.8h.3M138.5 119.6h.3M134.2 119.6h.3M127.1 96.4h.3M134.0 116.2h.3M135.2 113.0h.3M117.8 104.8h.3M137.1 118.3h.3M129.2 122.7h.3M134.0 116.0h.3M119.8 106.9h.3M119.2 109.0h.3M136.9 118.3h.3M125.0 103.2h.3M125.6 106.2h.3M131.0 117.4h.3M139.4 117.5h.3M137.9 119.2h.3M129.9 107.6h.3M125.6 115.4h.3M135.5 129.2h.3M128.3 106.5h.3M132.4 119.6h.3M131.9 123.2h.3M135.4 124.2h.3M136.3 122.0h.3M115.6 111.7h.3M125.4 110.3h.3M131.5 107.1h.3M125.7 118.3h.3M129.0 114.1h.3M130.4 122.4h.3M120.5 116.3h.3M124.0 111.9h.3M118.6 112.2h.3M138.6 119.9h.3M133.5 122.6h.3M127.2 126.4h.3M133.2 117.2h.3M126.3 102.5h.3M131.4 121.1h.3M139.1 119.8h.3M128.1 107.8h.3M136.6 104.1h.3M132.7 115.1h.3M134.9 123.3h.3M138.7 117.8h.3M135.1 96.7h.3M134.3 122.7h.3M121.4 115.7h.3M138.6 110.8h.3M127.1 104.8h.3M129.3 104.5h.3M142.6 117.5h.3M137.9 117.7h.3M131.6 106.5h.3M129.2 110.4h.3M140.9 119.5h.3M130.9 109.6h.3M130.1 110.1h.3M136.7 121.4h.3M142.0 126.3h.3M135.4 128.0h.3M128.7 131.5h.3M126.5 122.0h.3M130.0 111.9h.3M133.4 96.1h.3M123.1 106.9h.3M138.7 116.4h.3M125.1 99.4h.3M130.4 120.4h.3M126.5 113.6h.3M136.7 121.1h.3M120.7 108.2h.3M132.6 107.2h.3M126.3 120.5h.3M137.7 127.4h.3M133.0 116.8h.3M123.0 108.6h.3M137.5 113.5h.3M142.3 121.3h.3M136.7 124.4h.3M131.5 110.8h.3M135.0 122.9h.3M132.5 122.3h.3M133.4 122.2h.3M137.4 116.9h.3M141.2 118.1h.3M135.5 124.3h.3M130.2 110.6h.3M137.9 119.7h.3M127.2 119.1h.3M134.3 115.1h.3M131.3 119.2h.3M133.2 123.0h.3M133.5 114.9h.3M130.8 110.1h.3M139.7 117.8h.3M128.2 113.9h.3M127.0 103.3h.3M130.5 118.3h.3M137.4 115.3h.3M132.8 108.5h.3M130.0 128.9h.3M136.0 122.6h.3M135.9 111.9h.3M129.0 108.0h.3M131.7 117.5h.3M132.1 115.8h.3M118.8 112.0h.3M128.8 112.3h.3M135.7 124.6h.3M135.3 123.7h.3M140.5 128.0h.3M134.8 128.1h.3M119.8 107.9h.3M130.6 123.2h.3M134.8 125.1h.3M131.3 114.5h.3M123.5 117.9h.3M135.8 124.2h.3M125.0 102.2h.3M119.2 96.8h.3M136.9 115.1h.3M135.8 114.1h.3M136.2 116.0h.3M130.9 121.9h.3M137.7 121.5h.3M126.6 104.1h.3M126.7 108.6h.3M139.3 125.8h.3M120.2 99.6h.3M137.1 111.9h.3M131.1 117.2h.3M133.2 120.6h.3M137.1 124.3h.3M132.0 116.6h.3M130.5 114.9h.3M133.6 115.5h.3M142.2 118.5h.3M127.6 113.7h.3M133.6 122.3h.3M138.1 122.0h.3M119.7 104.4h.3M139.1 115.8h.3M135.2 119.7h.3M134.9 121.0h.3M125.7 114.3h.3M135.4 119.8h.3M135.8 117.0h.3M136.2 116.6h.3M134.8 122.8h.3M136.1 117.4h.3M123.8 96.8h.3M134.6 127.3h.3M130.4 124.1h.3M133.7 105.3h.3M134.2 109.3h.3M134.8 122.0h.3M132.9 120.5h.3M134.7 94.8h.3M129.1 100.1h.3M119.7 113.6h.3" stroke="#6AA83C" stroke-width="1.0" stroke-linecap="round" fill="none" opacity="0.92"/>
<path d="M103.1 63.9h.3M119.6 72.7h.3M65.9 89.6h.3M109.8 44.5h.3M133.1 91.8h.3M67.9 49.0h.3M100.0 56.0h.3M90.7 90.0h.3M95.9 64.7h.3M114.2 116.5h.3M107.3 116.0h.3M112.5 76.3h.3M116.6 55.5h.3M63.0 107.1h.3M97.8 46.9h.3M110.1 134.7h.3M110.3 126.9h.3M81.2 67.5h.3M97.5 66.3h.3M85.6 86.0h.3M82.8 58.5h.3M118.0 62.3h.3M99.1 74.5h.3M104.8 126.4h.3M106.8 129.3h.3M143.3 62.7h.3M101.2 63.2h.3M93.0 66.3h.3M124.9 63.8h.3M112.3 124.6h.3M110.2 127.8h.3M105.1 32.5h.3M116.6 117.0h.3M109.0 133.0h.3M122.2 92.6h.3M87.1 58.9h.3M101.7 68.3h.3M97.7 57.8h.3M119.7 59.0h.3M96.6 74.7h.3M88.7 90.0h.3M129.3 52.6h.3M92.0 73.9h.3M90.7 65.0h.3M80.9 80.4h.3M102.2 126.8h.3M90.4 58.8h.3M146.7 61.9h.3M110.9 80.4h.3M97.9 61.0h.3M105.9 132.7h.3M88.5 53.8h.3M98.5 92.4h.3M140.6 90.5h.3M115.7 28.8h.3M91.4 40.9h.3M112.5 66.6h.3M86.7 64.9h.3M104.1 72.2h.3M82.2 52.8h.3M143.7 68.9h.3M135.0 107.1h.3M109.0 123.0h.3M78.0 96.1h.3M92.0 78.3h.3M149.2 84.1h.3M88.9 68.4h.3M89.3 77.4h.3M81.9 69.6h.3M107.2 127.6h.3M92.6 66.1h.3M117.9 113.0h.3M77.6 112.7h.3M99.8 68.3h.3M118.0 61.0h.3M148.5 87.7h.3M88.0 50.8h.3M93.3 128.4h.3M97.9 91.6h.3M79.5 60.7h.3M101.7 78.2h.3M109.4 121.0h.3M107.5 129.9h.3M61.2 106.5h.3M86.1 135.0h.3M94.1 59.2h.3M140.7 95.4h.3M96.1 70.9h.3M121.6 97.1h.3M66.3 93.0h.3M104.7 80.4h.3M106.1 51.3h.3M80.4 63.2h.3M100.8 134.6h.3M115.7 77.7h.3M88.0 54.8h.3M107.7 128.0h.3M97.7 62.5h.3M126.3 104.9h.3M107.3 124.7h.3M103.8 57.2h.3M85.1 66.0h.3M88.8 68.4h.3M109.3 123.6h.3M79.1 76.3h.3M108.4 74.4h.3M83.0 51.7h.3M60.6 80.0h.3M101.4 133.9h.3M73.5 91.1h.3M117.5 123.9h.3M71.4 87.8h.3M104.7 124.5h.3M82.4 49.5h.3M112.4 127.1h.3M131.1 87.8h.3M98.7 67.8h.3M81.9 55.0h.3M85.7 70.7h.3M95.7 66.4h.3M102.5 58.0h.3M85.8 77.9h.3M113.6 65.3h.3M108.0 127.5h.3M110.0 120.9h.3M134.3 119.1h.3M93.9 63.3h.3M96.4 55.2h.3M104.9 130.3h.3M86.4 65.1h.3M85.4 85.0h.3M103.3 58.6h.3M106.0 126.5h.3M97.8 63.6h.3M110.5 83.6h.3M103.4 138.3h.3M88.9 87.6h.3M75.5 122.4h.3M85.9 67.3h.3M106.7 69.2h.3M82.5 70.8h.3M97.4 59.6h.3M94.5 66.5h.3M127.3 98.3h.3M99.9 123.1h.3M101.9 63.5h.3M104.9 120.0h.3M83.0 122.0h.3M77.2 55.9h.3M88.4 59.1h.3M99.8 74.6h.3M97.4 69.0h.3M67.1 85.8h.3M86.1 54.5h.3M68.9 50.8h.3M80.7 62.0h.3M95.3 50.5h.3M110.0 101.5h.3M107.0 50.5h.3M84.5 70.4h.3M67.2 59.1h.3M88.1 90.6h.3M86.7 53.4h.3M133.5 61.7h.3M97.7 75.2h.3M105.2 47.5h.3M88.1 55.1h.3M94.3 65.2h.3M138.4 57.9h.3M97.0 67.6h.3M80.9 120.8h.3M126.9 92.4h.3M91.2 78.2h.3M113.7 72.0h.3M101.2 62.2h.3M93.8 45.9h.3M101.8 59.8h.3M115.8 115.4h.3M91.5 33.5h.3M116.3 94.1h.3M106.5 124.8h.3M109.9 123.3h.3M100.2 84.0h.3M94.3 36.5h.3M130.1 43.0h.3M114.6 47.0h.3M104.3 79.3h.3M108.7 76.7h.3M106.7 126.2h.3M86.2 64.1h.3M92.9 43.1h.3M98.6 109.2h.3M103.9 123.1h.3M91.5 67.4h.3M82.9 79.1h.3M75.4 54.1h.3M57.8 96.8h.3M123.2 40.5h.3M132.4 47.9h.3M80.2 63.3h.3" stroke="#B4A838" stroke-width="1.0" stroke-linecap="round" fill="none" opacity="0.92"/>
<path d="M170.3 108.1h.3M170.5 107.2h.3M169.6 107.2h.3M170.4 107.6h.3M170.3 107.9h.3M170.0 106.1h.3M169.8 107.3h.3M170.1 108.6h.3M168.8 106.9h.3" stroke="#D3509C" stroke-width="1.0" stroke-linecap="round" fill="none" opacity="0.92"/>
<path d="M58.5 76.8h.3M55.5 76.6h.3M60.8 76.9h.3M57.7 81.2h.3M60.7 82.5h.3M58.4 76.4h.3M60.5 79.9h.3M62.7 76.0h.3M57.2 74.3h.3M62.8 81.0h.3M60.6 71.2h.3M55.4 77.2h.3M63.8 73.4h.3M60.2 79.3h.3M62.1 76.2h.3M59.4 78.1h.3M57.7 82.4h.3M60.3 78.2h.3M56.9 77.2h.3M57.7 77.2h.3M59.6 86.2h.3M57.3 77.4h.3M59.2 81.2h.3M59.2 87.0h.3M60.4 77.4h.3M61.3 79.0h.3M57.8 82.8h.3M61.2 74.8h.3M55.2 74.7h.3M58.6 80.4h.3M59.9 75.8h.3M58.5 75.7h.3M60.5 74.6h.3M60.5 79.3h.3M59.7 75.4h.3M59.9 75.6h.3M60.3 75.4h.3M59.9 76.7h.3M61.6 76.5h.3M61.9 71.9h.3M61.0 73.0h.3M62.1 79.8h.3M56.9 84.1h.3M63.3 79.1h.3M57.0 77.4h.3M57.0 74.1h.3M56.5 73.7h.3M60.1 77.8h.3M59.5 71.7h.3M60.7 74.2h.3M60.1 82.6h.3M59.7 79.5h.3M61.9 75.8h.3M60.3 74.5h.3M59.5 81.7h.3M58.6 75.3h.3M58.5 75.0h.3M60.9 73.4h.3M62.2 78.8h.3M63.2 72.9h.3M58.6 79.7h.3M59.6 72.9h.3M59.6 72.8h.3M60.8 78.6h.3M55.5 78.6h.3M59.9 79.7h.3M62.5 79.5h.3M58.1 77.6h.3M59.6 80.6h.3M56.6 73.2h.3M62.7 74.4h.3M60.5 73.8h.3M59.0 81.1h.3M59.9 68.0h.3M59.6 79.9h.3M58.0 80.2h.3M61.0 80.4h.3M59.4 78.5h.3M61.2 82.4h.3M60.5 77.2h.3M59.4 75.5h.3M58.4 80.8h.3M60.0 74.4h.3M59.1 78.1h.3M58.6 72.1h.3M57.8 79.8h.3M61.9 70.6h.3M59.7 72.0h.3M58.7 79.9h.3M61.5 72.9h.3M61.2 75.1h.3M59.3 67.9h.3M61.5 79.6h.3M59.7 74.9h.3M59.2 81.6h.3M60.0 80.7h.3" stroke="#9A7FCB" stroke-width="1.0" stroke-linecap="round" fill="none" opacity="0.92"/>
<path d="M103.1 72.7h.3M68.0 64.6h.3M93.3 63.4h.3M79.5 57.4h.3M99.9 85.0h.3M91.1 60.9h.3M83.4 70.2h.3M104.5 124.2h.3M96.6 66.0h.3M99.1 75.1h.3M100.7 71.1h.3M113.8 80.4h.3M101.2 70.8h.3M76.0 52.0h.3M91.8 60.6h.3M88.1 66.4h.3M88.5 71.5h.3M113.0 128.0h.3M96.3 49.7h.3M86.5 74.3h.3M91.5 58.4h.3M97.2 66.1h.3M114.4 131.1h.3M93.0 55.7h.3M138.8 56.7h.3M100.0 74.5h.3M90.4 73.8h.3M85.2 49.7h.3M106.3 75.7h.3M82.7 66.1h.3M122.8 42.8h.3M93.4 65.3h.3M139.2 117.7h.3M89.7 71.3h.3M104.7 125.8h.3M81.8 76.2h.3M86.4 67.4h.3M82.6 57.8h.3M78.0 79.0h.3M104.2 124.1h.3M56.6 84.0h.3M101.4 121.9h.3M86.6 70.9h.3M75.4 116.0h.3M116.9 69.0h.3M96.8 63.4h.3M108.4 118.9h.3M123.5 93.5h.3M83.3 67.9h.3M101.1 64.1h.3M112.3 124.1h.3M107.8 120.5h.3M92.4 66.3h.3M104.6 131.7h.3M81.4 54.9h.3M114.7 58.7h.3M103.1 61.7h.3M115.3 119.9h.3M86.2 133.0h.3M83.3 81.0h.3M106.0 124.4h.3M89.5 56.3h.3M106.9 78.0h.3M113.2 84.1h.3M89.4 75.2h.3M96.1 77.4h.3M105.5 70.9h.3M107.6 134.4h.3M58.3 88.0h.3M99.8 69.0h.3M91.8 75.7h.3M64.9 104.4h.3M140.5 62.5h.3M101.7 64.3h.3M86.3 63.5h.3M87.1 56.3h.3M94.4 80.5h.3M94.3 68.1h.3M104.6 134.4h.3M111.5 38.6h.3M90.0 60.8h.3M99.0 67.3h.3M88.7 66.5h.3M95.2 60.1h.3M85.2 51.3h.3M98.0 56.9h.3M95.9 77.6h.3M91.7 57.5h.3M90.9 66.6h.3M91.2 67.0h.3M83.5 42.7h.3M97.6 75.1h.3M73.5 75.4h.3M95.6 71.9h.3M90.9 55.8h.3M107.3 66.7h.3M92.1 39.2h.3M109.6 79.8h.3M114.3 28.2h.3M95.1 55.7h.3M75.2 64.5h.3M135.7 70.8h.3M72.2 47.6h.3M107.2 62.5h.3M91.9 73.7h.3M88.7 61.6h.3M109.7 121.8h.3M108.6 83.0h.3M95.2 81.4h.3M98.3 51.1h.3M80.8 56.6h.3M102.0 113.1h.3M71.8 109.3h.3M106.3 87.8h.3M114.5 115.8h.3M95.0 60.6h.3M77.8 50.9h.3M87.0 56.7h.3M72.0 123.5h.3M89.1 52.7h.3M106.7 127.0h.3M93.2 58.1h.3M94.1 70.7h.3M68.1 85.6h.3M104.8 125.2h.3M100.5 38.0h.3M88.9 46.4h.3M95.2 58.6h.3M110.5 125.0h.3M109.0 131.4h.3M88.0 72.4h.3M74.6 46.6h.3M100.5 69.1h.3M69.1 114.5h.3M80.1 48.8h.3M89.4 82.4h.3M130.4 102.8h.3M106.3 129.5h.3M102.4 63.7h.3M90.3 75.5h.3M104.0 65.7h.3M106.4 71.7h.3M81.7 113.1h.3M87.4 69.5h.3M133.6 123.5h.3M84.6 51.3h.3M107.8 122.4h.3M107.9 53.1h.3M107.9 57.8h.3M97.3 62.8h.3M104.6 134.6h.3M113.4 137.2h.3M59.0 81.0h.3M86.4 114.1h.3M113.4 122.1h.3M105.5 122.6h.3M101.3 69.8h.3M139.8 89.9h.3M133.3 112.8h.3M78.4 78.3h.3M103.8 122.0h.3M81.6 130.6h.3M81.5 60.7h.3M96.7 69.9h.3M99.9 53.3h.3M101.7 56.0h.3M111.3 76.6h.3M103.3 79.3h.3M97.1 53.7h.3M90.3 52.7h.3M107.2 123.0h.3M96.6 64.3h.3M113.5 124.4h.3M118.0 68.4h.3M87.2 70.4h.3M134.1 106.4h.3M88.1 63.6h.3M139.5 79.4h.3M104.6 58.3h.3M105.2 81.1h.3M118.9 89.7h.3M90.8 71.4h.3M80.3 56.2h.3M103.5 75.6h.3M94.2 70.0h.3M111.7 137.4h.3M88.3 62.9h.3M113.0 37.4h.3M106.9 60.5h.3M91.2 66.2h.3M112.8 120.6h.3M99.6 44.9h.3M112.3 100.5h.3M101.7 124.2h.3M118.2 129.0h.3M105.6 124.3h.3M94.0 64.8h.3M63.9 97.8h.3M93.5 62.3h.3M83.0 70.1h.3" stroke="#B4A838" stroke-width="1.0" stroke-linecap="round" fill="none" opacity="0.92"/>
<path d="M115.8 104.2h.3M134.7 119.2h.3M131.2 116.6h.3M122.2 107.3h.3M143.6 117.0h.3M132.6 109.1h.3M124.2 106.1h.3M126.7 103.2h.3M133.4 123.5h.3M123.5 106.9h.3M131.1 122.7h.3M138.6 125.6h.3M124.8 113.7h.3M135.1 117.6h.3M127.2 129.7h.3M137.8 130.3h.3M143.2 121.2h.3M131.3 116.6h.3M129.1 109.6h.3M140.9 98.5h.3M122.3 110.5h.3M133.3 119.8h.3M133.7 121.6h.3M135.0 122.8h.3M135.9 112.9h.3M140.9 117.3h.3M128.2 116.7h.3M118.1 117.3h.3M133.9 122.0h.3M126.2 108.6h.3M130.4 122.5h.3M138.3 113.2h.3M139.7 121.3h.3M128.6 118.8h.3M132.4 123.1h.3M133.8 124.6h.3M135.0 125.7h.3M134.9 126.6h.3M136.8 118.8h.3M133.8 121.8h.3M137.5 123.5h.3M130.1 116.8h.3M124.3 110.6h.3M138.1 117.6h.3M131.6 122.3h.3M136.0 120.6h.3M127.4 115.9h.3M129.8 120.3h.3M129.8 105.1h.3M133.9 120.3h.3M130.0 114.1h.3M131.6 121.2h.3M135.1 118.6h.3M133.1 111.4h.3M132.7 124.5h.3M136.4 125.3h.3M134.4 119.4h.3M133.7 102.8h.3M140.6 118.2h.3M136.1 117.9h.3M131.5 120.2h.3M127.8 128.2h.3M115.8 108.8h.3M124.4 118.1h.3M132.5 118.1h.3M129.9 103.1h.3M146.7 121.9h.3M126.7 112.2h.3M124.9 121.6h.3M120.6 99.2h.3M136.7 122.7h.3M132.4 110.7h.3M120.5 120.0h.3M132.7 119.4h.3M127.0 121.2h.3M132.9 115.1h.3" stroke="#6AA83C" stroke-width="1.0" stroke-linecap="round" fill="none" opacity="0.92"/>
<path d="M97.1 79.6h.3M97.0 88.9h.3M69.0 94.1h.3M127.2 77.0h.3M83.9 71.6h.3M76.1 66.9h.3M106.4 88.8h.3M78.1 60.1h.3M128.5 83.6h.3M102.3 104.0h.3M105.6 93.6h.3M121.6 92.7h.3M134.3 40.2h.3M128.0 110.7h.3M109.9 79.0h.3M101.1 90.3h.3M100.2 75.7h.3M90.8 86.5h.3M91.0 80.6h.3M83.1 106.5h.3M95.1 102.2h.3M123.0 44.1h.3M113.3 98.7h.3M104.0 86.6h.3M114.4 88.2h.3M99.1 107.2h.3M95.2 86.2h.3M92.2 83.5h.3M117.7 94.6h.3M125.0 97.2h.3M107.8 62.6h.3M93.9 77.4h.3M105.7 87.3h.3M110.2 86.7h.3M97.9 103.5h.3M85.9 83.6h.3M93.7 87.7h.3M106.7 48.7h.3M121.1 96.8h.3M83.3 72.2h.3M118.1 63.0h.3M128.5 102.5h.3M127.3 120.4h.3M88.9 57.0h.3M104.6 78.1h.3M131.8 90.5h.3M115.0 109.5h.3M82.4 64.3h.3M103.2 74.7h.3M92.3 56.5h.3M106.0 65.5h.3M122.1 94.5h.3M82.4 62.8h.3M111.9 86.9h.3M112.2 104.4h.3M99.0 91.2h.3M86.2 100.1h.3M102.4 91.8h.3M71.1 69.4h.3M117.4 103.6h.3M129.4 98.1h.3M111.2 98.3h.3M105.6 35.5h.3M88.2 75.4h.3M106.2 64.4h.3M87.1 104.7h.3M102.4 84.3h.3M97.5 95.8h.3M132.9 78.6h.3M80.6 97.7h.3M85.1 88.7h.3M96.5 114.2h.3M95.8 34.7h.3M97.2 93.3h.3M98.4 38.0h.3M87.5 99.0h.3M124.9 75.4h.3M104.2 97.0h.3M108.5 96.6h.3M134.0 108.6h.3M129.9 69.3h.3M100.7 89.1h.3M137.6 108.8h.3M122.5 126.1h.3M78.3 87.2h.3M133.5 101.4h.3M104.4 80.8h.3M121.7 111.9h.3M100.4 95.6h.3M79.3 115.5h.3M103.6 81.6h.3M133.3 53.8h.3M127.3 81.0h.3M86.1 94.4h.3M111.0 50.5h.3M95.8 87.9h.3M79.3 80.6h.3M128.8 91.2h.3M95.3 112.9h.3M84.0 79.8h.3M92.9 89.6h.3M91.2 85.8h.3M80.8 79.3h.3M80.0 95.2h.3M97.4 79.5h.3M74.3 82.8h.3M104.4 113.1h.3M97.7 86.8h.3M119.3 81.6h.3M74.0 88.6h.3M91.7 76.7h.3M131.3 79.6h.3M86.4 90.4h.3M78.0 83.9h.3M83.9 105.6h.3M105.0 59.9h.3M118.5 83.6h.3M84.7 60.6h.3M120.0 108.1h.3M127.1 98.2h.3M94.9 89.7h.3M96.6 77.2h.3M70.6 66.8h.3M119.3 84.9h.3M92.9 75.8h.3M109.2 68.2h.3M82.8 86.6h.3M86.5 100.3h.3M88.5 83.8h.3M138.8 69.5h.3M119.8 106.0h.3M127.1 103.5h.3M119.0 114.4h.3M125.1 113.1h.3M101.3 93.9h.3M108.0 89.5h.3M129.5 84.1h.3M128.3 99.1h.3M104.7 83.3h.3M121.6 95.3h.3M129.3 115.7h.3M91.1 98.2h.3M107.3 55.4h.3M101.9 92.5h.3M88.0 82.0h.3M92.3 78.9h.3M90.9 92.0h.3M95.2 99.8h.3M99.2 96.5h.3M70.3 83.8h.3M93.7 93.6h.3M106.3 124.8h.3M101.9 81.1h.3M77.2 108.0h.3M113.0 96.2h.3M98.5 96.2h.3M102.1 60.9h.3M126.8 95.8h.3M98.5 31.1h.3M81.8 99.6h.3M83.2 109.7h.3M128.5 111.2h.3M120.0 78.6h.3M102.9 92.8h.3M124.8 102.6h.3M88.8 80.6h.3M105.7 88.4h.3M118.6 115.9h.3M110.0 78.3h.3M88.3 101.2h.3M75.6 125.2h.3M108.1 86.8h.3M117.3 115.9h.3M93.2 98.3h.3M99.2 85.7h.3M82.5 95.2h.3M94.0 98.6h.3M110.9 86.0h.3M125.1 49.3h.3M75.8 91.5h.3M93.3 84.9h.3M131.4 105.7h.3M104.1 78.9h.3M89.9 75.6h.3M103.0 98.2h.3M93.5 70.1h.3M106.3 74.2h.3M86.4 67.6h.3M118.1 83.8h.3M105.2 92.6h.3M88.0 88.5h.3M98.1 90.5h.3M132.3 45.2h.3M70.1 96.0h.3M83.9 60.9h.3M111.0 106.2h.3M114.5 110.3h.3M109.0 39.4h.3M101.3 99.4h.3M90.4 81.6h.3" stroke="#E0766E" stroke-width="1.0" stroke-linecap="round" fill="none" opacity="0.92"/>
<path d="M59.6 72.0h.3M113.7 106.9h.3M98.5 79.0h.3M114.0 96.6h.3M98.1 100.6h.3M134.6 95.9h.3M125.6 65.7h.3M101.1 87.5h.3M78.7 97.1h.3M136.3 84.7h.3M72.2 79.2h.3M119.1 79.4h.3M88.3 69.1h.3M93.3 84.6h.3M124.6 79.4h.3M133.7 105.9h.3M101.6 80.1h.3M76.8 88.0h.3M114.7 78.2h.3M104.2 98.2h.3M103.2 80.7h.3M91.5 96.4h.3M108.4 92.6h.3M77.6 83.3h.3M84.0 88.2h.3M78.9 113.6h.3M107.7 84.8h.3M123.2 86.1h.3M114.1 81.0h.3M126.0 112.0h.3M91.8 84.4h.3M68.6 98.1h.3M102.5 86.1h.3M84.2 65.0h.3M119.7 88.2h.3M118.0 72.0h.3M91.6 94.9h.3M97.2 82.7h.3M92.0 95.3h.3M117.1 83.9h.3M140.0 78.4h.3M125.7 107.6h.3M75.2 94.7h.3M92.6 100.1h.3M132.7 97.7h.3M92.9 84.4h.3M99.1 94.7h.3M90.0 75.5h.3M122.9 121.8h.3M102.7 110.3h.3M110.1 82.9h.3M94.2 91.9h.3M122.9 58.2h.3M114.7 107.3h.3M96.3 76.2h.3M88.9 69.0h.3M115.4 97.9h.3M79.0 96.0h.3M89.8 105.8h.3M95.8 97.2h.3M117.6 83.2h.3M68.4 90.7h.3M88.6 73.5h.3M98.1 77.5h.3M87.7 87.2h.3M116.8 87.5h.3M95.7 70.4h.3M113.1 106.4h.3M98.3 87.7h.3M97.3 102.1h.3M111.9 102.2h.3M125.2 83.0h.3M91.8 69.3h.3M140.5 49.0h.3M115.4 109.5h.3M105.1 59.5h.3M95.5 88.8h.3M102.3 104.9h.3M99.0 91.7h.3M83.6 94.6h.3M94.1 79.3h.3M137.6 99.6h.3M100.5 75.6h.3M126.9 90.7h.3M116.5 52.1h.3M102.7 83.2h.3M109.4 67.4h.3M128.1 101.5h.3M104.2 104.4h.3M94.5 41.7h.3M143.3 100.4h.3M89.3 121.6h.3M103.7 72.6h.3M76.0 84.2h.3M92.8 48.0h.3M144.0 87.9h.3M72.3 99.1h.3M93.3 70.1h.3M96.2 108.8h.3M123.4 77.6h.3M118.8 87.4h.3M109.5 111.7h.3M112.2 104.8h.3M80.1 60.9h.3M119.9 92.4h.3M93.8 100.7h.3M138.5 93.5h.3M107.2 97.2h.3M97.1 74.2h.3M95.1 105.2h.3M90.5 108.0h.3M118.6 92.6h.3M88.9 76.5h.3M107.4 136.8h.3M102.7 108.0h.3M92.6 111.8h.3M88.8 95.9h.3M113.3 81.5h.3M108.4 91.3h.3M125.6 93.8h.3M123.9 123.0h.3M84.3 89.9h.3M134.7 82.1h.3M80.8 69.6h.3M86.0 68.0h.3M90.5 124.3h.3M98.9 65.8h.3M71.9 101.9h.3M65.0 91.5h.3M75.7 97.0h.3M74.1 43.5h.3M78.6 59.3h.3M110.8 89.1h.3M98.4 78.9h.3M76.8 97.4h.3M138.9 95.2h.3M132.7 113.1h.3M67.6 91.2h.3M90.3 102.5h.3M95.1 103.5h.3M113.2 91.9h.3M102.9 89.2h.3M90.2 81.9h.3M111.4 87.0h.3M90.8 98.4h.3M108.4 92.0h.3M68.3 94.5h.3M102.6 102.4h.3M80.6 119.1h.3M98.7 101.9h.3M94.0 110.2h.3M102.1 91.8h.3M99.1 89.2h.3M83.6 95.5h.3M150.1 72.2h.3M86.5 81.5h.3M97.0 95.0h.3M123.1 111.4h.3M125.8 115.7h.3M103.3 99.4h.3M83.3 98.0h.3M68.5 55.0h.3M93.4 104.1h.3M134.8 100.1h.3M132.8 78.3h.3M117.5 102.2h.3M110.9 97.5h.3M94.3 92.0h.3M66.8 94.1h.3M85.0 98.6h.3M78.8 80.2h.3M116.0 91.3h.3M115.2 96.4h.3M106.3 86.7h.3M106.3 97.5h.3M69.2 62.7h.3M124.6 114.9h.3M92.0 109.4h.3M109.4 82.9h.3M100.5 90.0h.3M73.5 74.1h.3M67.8 67.1h.3M110.8 87.0h.3M90.2 108.1h.3M125.8 104.8h.3M103.2 120.9h.3M120.7 91.6h.3M70.6 96.0h.3M105.2 101.7h.3M108.4 96.4h.3M93.8 102.9h.3M92.5 81.9h.3M95.9 66.5h.3M101.4 94.4h.3M95.2 101.5h.3M94.0 84.8h.3M90.8 78.2h.3M133.0 117.6h.3M73.5 99.8h.3M74.9 80.8h.3" stroke="#E0766E" stroke-width="1.0" stroke-linecap="round" fill="none" opacity="0.92"/>
<path d="M130.9 56.7h.3M112.4 74.1h.3M114.1 39.6h.3M114.8 51.7h.3M126.9 62.7h.3M139.6 119.1h.3M95.9 79.3h.3M107.8 68.2h.3M121.0 46.7h.3M107.1 51.1h.3M135.3 58.8h.3M110.4 88.1h.3M123.3 69.2h.3M117.9 69.7h.3M128.6 71.0h.3M81.4 45.5h.3M102.6 72.1h.3M122.6 72.5h.3M127.5 63.4h.3M115.7 67.2h.3M121.2 57.8h.3M101.2 95.8h.3M135.9 44.3h.3M142.0 91.4h.3M117.2 55.5h.3M93.5 89.1h.3" stroke="#D08E2C" stroke-width="1.0" stroke-linecap="round" fill="none" opacity="0.92"/>
<path d="M142.0 91.5h.3M136.9 90.3h.3M147.0 94.4h.3M139.2 89.4h.3M142.1 98.3h.3M136.5 95.9h.3M141.1 88.0h.3M143.4 97.1h.3M136.7 91.4h.3M137.9 95.6h.3M141.6 86.7h.3M144.5 82.9h.3M143.4 91.3h.3M142.6 98.5h.3M141.1 88.8h.3M143.3 85.8h.3M142.0 77.9h.3M145.6 91.3h.3M147.1 82.8h.3M135.5 95.8h.3M145.4 92.0h.3M134.5 74.2h.3M146.9 98.7h.3M138.0 93.1h.3M145.0 90.0h.3M136.6 95.2h.3M142.3 93.2h.3M139.9 97.9h.3M141.4 96.2h.3M138.8 100.1h.3M140.0 90.0h.3M145.0 86.9h.3M138.7 85.3h.3M135.9 84.7h.3M140.4 78.9h.3M143.7 98.5h.3M139.8 92.1h.3M144.3 89.0h.3M137.2 88.9h.3M148.0 90.3h.3M143.5 93.7h.3M143.6 84.6h.3M141.4 93.2h.3M138.7 92.9h.3M140.6 75.2h.3M139.0 88.8h.3M141.3 89.5h.3M141.9 81.2h.3M139.5 86.6h.3M145.2 89.9h.3M141.8 101.6h.3M143.3 83.3h.3M140.0 88.4h.3M146.7 90.4h.3M141.5 90.5h.3M134.3 86.5h.3M138.7 89.6h.3M143.0 89.7h.3M151.6 77.9h.3M145.0 90.6h.3M134.2 96.9h.3M137.1 91.2h.3M145.6 76.7h.3M139.8 84.5h.3M144.7 86.9h.3M139.7 94.5h.3M140.7 85.5h.3M148.2 91.7h.3M145.4 89.4h.3M142.4 93.2h.3M145.7 89.8h.3M131.9 93.0h.3M139.3 85.8h.3M139.3 89.3h.3M140.1 90.3h.3M137.9 81.0h.3M142.5 87.7h.3M136.9 88.6h.3M137.4 90.1h.3M136.3 84.2h.3M137.2 90.6h.3M144.8 88.8h.3M139.3 97.1h.3M138.8 87.9h.3M141.9 92.8h.3M142.2 93.7h.3M138.1 87.5h.3M144.8 79.1h.3M136.3 80.7h.3M140.8 93.0h.3M133.4 92.4h.3M143.0 86.2h.3M139.3 82.1h.3M142.0 96.4h.3M142.7 91.0h.3M146.9 96.9h.3M140.7 95.1h.3M149.4 88.1h.3M141.4 84.1h.3M135.9 101.9h.3M144.2 93.8h.3M141.5 87.9h.3M140.0 87.4h.3M142.7 97.4h.3M137.4 95.0h.3M135.6 93.8h.3M143.2 98.4h.3M138.6 86.0h.3M141.4 86.6h.3M133.8 85.2h.3M137.6 84.7h.3M141.4 77.7h.3M137.1 95.5h.3M140.5 85.2h.3M142.5 83.7h.3M146.4 85.4h.3M141.1 86.5h.3M139.2 87.7h.3M133.9 87.3h.3M141.9 91.9h.3M144.3 89.4h.3M133.4 84.2h.3M146.7 91.3h.3M139.0 88.7h.3M138.5 94.1h.3M135.3 93.9h.3M139.6 84.7h.3M152.1 84.9h.3M135.0 84.9h.3M145.0 87.4h.3M142.5 83.9h.3M148.9 90.6h.3" stroke="#5DB6E2" stroke-width="1.0" stroke-linecap="round" fill="none" opacity="0.92"/>
<path d="M60.3 45.5h.3M69.0 54.7h.3M62.4 55.7h.3M73.3 53.9h.3M66.4 64.9h.3M66.8 56.6h.3M65.6 61.1h.3M71.8 58.5h.3M78.5 58.5h.3M70.0 51.9h.3M75.9 60.9h.3M72.5 60.5h.3M75.7 62.8h.3M69.2 58.1h.3M74.3 56.9h.3M69.3 52.7h.3M75.7 53.8h.3M57.8 59.1h.3M63.9 53.4h.3M73.9 58.0h.3M72.5 59.0h.3M68.8 49.3h.3M67.0 56.1h.3M70.0 65.4h.3M68.1 59.3h.3M64.1 57.1h.3M69.4 63.8h.3M62.7 58.2h.3M58.3 53.8h.3M66.5 59.3h.3M73.0 60.4h.3M74.1 60.1h.3M71.0 50.8h.3M71.9 46.8h.3M70.3 61.4h.3M71.0 60.7h.3M61.7 50.6h.3M67.0 46.2h.3M70.3 51.8h.3M59.8 50.6h.3M76.1 58.8h.3M68.9 51.3h.3M67.4 55.9h.3M64.1 53.0h.3M69.2 67.6h.3M69.9 57.5h.3M62.8 51.7h.3M65.2 57.2h.3M68.5 67.5h.3M76.8 60.3h.3M67.1 56.2h.3M67.8 61.0h.3M63.5 57.4h.3M68.9 62.7h.3M61.7 58.8h.3M71.0 50.5h.3M74.4 56.0h.3M73.4 51.4h.3M67.7 62.5h.3M68.6 48.1h.3M66.0 58.1h.3M67.1 57.7h.3M66.8 55.6h.3M68.1 62.1h.3M64.3 56.5h.3M69.9 50.6h.3M72.5 54.7h.3M66.6 52.9h.3M64.5 59.8h.3M67.0 54.9h.3M64.0 61.6h.3M65.6 52.3h.3M62.2 57.3h.3M66.0 59.4h.3M75.2 57.1h.3M66.4 59.9h.3M74.0 57.4h.3M66.1 64.2h.3M64.3 56.7h.3M62.4 51.3h.3M69.4 59.2h.3M61.4 60.9h.3M64.2 55.9h.3M70.2 57.0h.3M64.3 57.7h.3M62.5 55.7h.3M68.7 54.5h.3M63.6 49.4h.3M66.9 55.4h.3M62.9 55.2h.3M71.5 54.8h.3M77.6 59.3h.3M65.9 59.0h.3M55.2 61.5h.3M76.0 54.5h.3M64.6 52.2h.3M66.0 53.3h.3M69.9 54.4h.3M70.9 64.8h.3M70.0 56.2h.3M75.7 64.0h.3M64.5 58.8h.3M62.2 57.9h.3M72.7 50.1h.3M67.1 60.8h.3M64.0 57.1h.3M70.1 57.4h.3M65.1 47.7h.3M64.8 58.8h.3M65.2 70.1h.3M59.5 67.1h.3M64.5 56.6h.3M72.0 52.7h.3M60.7 47.2h.3M72.1 51.9h.3M71.3 59.4h.3M69.9 50.6h.3M71.2 55.0h.3M69.1 55.5h.3M65.4 57.7h.3M61.9 63.4h.3M68.0 54.2h.3M59.0 58.3h.3M66.9 58.3h.3M64.1 49.7h.3M74.9 54.4h.3M60.9 58.9h.3M56.6 52.9h.3M67.0 56.2h.3M69.8 58.9h.3M61.3 59.7h.3M63.6 64.5h.3M71.2 54.8h.3M62.7 59.5h.3M64.1 62.5h.3M75.0 59.3h.3M67.2 58.0h.3M74.7 54.3h.3M78.0 63.2h.3M68.2 53.7h.3M70.7 58.2h.3M74.1 52.5h.3M62.9 51.8h.3M71.9 55.4h.3M72.6 56.3h.3M64.2 63.5h.3M60.7 55.8h.3M62.4 52.8h.3M81.2 51.8h.3M72.7 52.5h.3M75.6 46.1h.3M70.2 56.2h.3M65.5 59.6h.3M61.5 55.9h.3M66.6 51.1h.3M71.0 48.5h.3M70.9 53.1h.3M67.7 58.2h.3M64.1 55.5h.3M64.7 62.2h.3M62.0 60.4h.3M64.4 53.2h.3M67.6 63.9h.3M73.4 44.7h.3M65.0 58.8h.3M62.7 62.0h.3M67.9 54.7h.3M61.2 58.3h.3M68.1 53.0h.3M63.7 63.1h.3M65.2 61.5h.3M69.5 66.2h.3M63.3 59.2h.3M58.0 64.6h.3M76.8 63.0h.3M74.2 55.6h.3M66.1 59.8h.3M64.7 52.2h.3M64.4 58.1h.3M66.6 53.3h.3M68.0 62.2h.3M65.7 46.9h.3M66.5 58.7h.3M61.2 62.8h.3M71.3 66.2h.3M69.5 61.1h.3M68.9 57.3h.3M64.5 60.2h.3M61.9 57.6h.3M66.3 59.9h.3M60.2 58.2h.3M76.8 48.1h.3M57.3 45.1h.3M62.6 55.6h.3M70.6 56.7h.3M68.8 50.3h.3M59.0 49.7h.3M57.5 56.5h.3M65.4 50.6h.3M66.8 57.2h.3" stroke="#58AE9C" stroke-width="1.0" stroke-linecap="round" fill="none" opacity="0.92"/>
<rect x="46.0" y="17.0" width="129.6" height="130.3" fill="none" stroke="#1a1a1a" stroke-width="1.4"/>
<line x1="43" x2="46.0" y1="46.1" y2="46.1" stroke="#333" stroke-width="0.8"/>
<text x="40.00" y="48.50" font-size="6.9" text-anchor="end" fill="#222">20</text>
<line x1="43" x2="46.0" y1="82.3" y2="82.3" stroke="#333" stroke-width="0.8"/>
<text x="40.00" y="84.70" font-size="6.9" text-anchor="end" fill="#222">0</text>
<line x1="43" x2="46.0" y1="118.5" y2="118.5" stroke="#333" stroke-width="0.8"/>
<text x="40.00" y="120.90" font-size="6.9" text-anchor="end" fill="#222">-20</text>
<line x1="73.0" x2="73.0" y1="147.3" y2="150.3" stroke="#333" stroke-width="0.8"/>
<text x="73.00" y="160.00" font-size="6.9" text-anchor="middle" fill="#222">-20</text>
<line x1="103.7" x2="103.7" y1="147.3" y2="150.3" stroke="#333" stroke-width="0.8"/>
<text x="103.70" y="160.00" font-size="6.9" text-anchor="middle" fill="#222">0</text>
<line x1="134.4" x2="134.4" y1="147.3" y2="150.3" stroke="#333" stroke-width="0.8"/>
<text x="134.40" y="160.00" font-size="6.9" text-anchor="middle" fill="#222">20</text>
<line x1="165.1" x2="165.1" y1="147.3" y2="150.3" stroke="#333" stroke-width="0.8"/>
<text x="165.10" y="160.00" font-size="6.9" text-anchor="middle" fill="#222">40</text>
<text x="111.00" y="172.00" font-size="8.2" text-anchor="middle" fill="#1a1a1a" textLength="20.5" lengthAdjust="spacingAndGlyphs">tSNE_1</text>
<text x="27.00" y="82.50" font-size="8.2" text-anchor="middle" fill="#1a1a1a" transform="rotate(-90 27.0 82.5)" textLength="22" lengthAdjust="spacingAndGlyphs">tSNE_2</text>
<circle cx="186.3" cy="24.30" r="2.85" fill="#E0766E"/>
<text transform="translate(193.80 26.60) scale(0.88 1)" font-size="6.1" text-anchor="start" fill="#222">A CD56<tspan dy="-2.6" font-size="4.4">dim</tspan><tspan dy="2.6"> (30.6%)</tspan></text>
<circle cx="186.3" cy="34.57" r="2.85" fill="#D08E2C"/>
<text transform="translate(193.80 36.87) scale(0.88 1)" font-size="6.1" text-anchor="start" fill="#222">B Active CD56<tspan dy="-2.6" font-size="4.4">dim</tspan><tspan dy="2.6"> (25%)</tspan></text>
<circle cx="186.3" cy="44.84" r="2.85" fill="#B4A838"/>
<text transform="translate(193.80 47.14) scale(0.88 1)" font-size="6.1" text-anchor="start" fill="#222">C Adaptive NK cells (20.2%)</text>
<circle cx="186.3" cy="55.11" r="2.85" fill="#6AA83C"/>
<text transform="translate(193.80 57.41) scale(0.88 1)" font-size="6.1" text-anchor="start" fill="#222">D CD56<tspan dy="-2.6" font-size="4.4">bright</tspan><tspan dy="2.6"> NKG2A+ (5.6%)</tspan></text>
<circle cx="186.3" cy="65.38" r="2.85" fill="#4DA650"/>
<text transform="translate(193.80 67.68) scale(0.88 1)" font-size="6.1" text-anchor="start" fill="#222">E Inflamed Type 1 IFN (5.3%)</text>
<circle cx="186.3" cy="75.65" r="2.85" fill="#58AE9C"/>
<text transform="translate(193.80 77.95) scale(0.88 1)" font-size="6.1" text-anchor="start" fill="#222">F Terminal NK cells (5%)</text>
<circle cx="186.3" cy="85.92" r="2.85" fill="#5DB6E2"/>
<text transform="translate(193.80 88.22) scale(0.88 1)" font-size="6.1" text-anchor="start" fill="#222">G CIML NK cells (2.5%)</text>
<circle cx="186.3" cy="96.19" r="2.85" fill="#4E8BD6"/>
<text transform="translate(193.80 98.49) scale(0.88 1)" font-size="6.1" text-anchor="start" fill="#222">H Low Ribosomal (2.3%)</text>
<circle cx="186.3" cy="106.46" r="2.85" fill="#9A7FCB"/>
<text transform="translate(193.80 108.76) scale(0.88 1)" font-size="6.1" text-anchor="start" fill="#222">I Stressed NK cells (2.2%)</text>
<circle cx="186.3" cy="116.73" r="2.85" fill="#B25FB6"/>
<text transform="translate(193.80 119.03) scale(0.88 1)" font-size="6.1" text-anchor="start" fill="#222">J CD56<tspan dy="-2.6" font-size="4.4">bright</tspan><tspan dy="2.6"> NKG2A- (0.8%)</tspan></text>
<circle cx="186.3" cy="127.00" r="2.85" fill="#D3509C"/>
<text transform="translate(193.80 129.30) scale(0.88 1)" font-size="6.1" text-anchor="start" fill="#222">K APCs (0.5%)</text>
<line x1="317.5" x2="317.5" y1="18" y2="129.2" stroke="#111" stroke-width="1.1"/>
<line x1="317.0" x2="480.5" y1="128.9" y2="128.9" stroke="#111" stroke-width="1.1"/>
<line x1="314.5" x2="317.5" y1="128.7" y2="128.7" stroke="#111" stroke-width="0.9"/>
<text x="311.00" y="131.20" font-size="7" text-anchor="end" fill="#222">0</text>
<line x1="314.5" x2="317.5" y1="101.7" y2="101.7" stroke="#111" stroke-width="0.9"/>
<text x="311.00" y="104.20" font-size="7" text-anchor="end" fill="#222">10</text>
<line x1="314.5" x2="317.5" y1="74.7" y2="74.7" stroke="#111" stroke-width="0.9"/>
<text x="311.00" y="77.20" font-size="7" text-anchor="end" fill="#222">20</text>
<line x1="314.5" x2="317.5" y1="47.7" y2="47.7" stroke="#111" stroke-width="0.9"/>
<text x="311.00" y="50.20" font-size="7" text-anchor="end" fill="#222">30</text>
<line x1="314.5" x2="317.5" y1="20.7" y2="20.7" stroke="#111" stroke-width="0.9"/>
<text x="311.00" y="23.20" font-size="7" text-anchor="end" fill="#222">40</text>
<line x1="326.3" x2="326.3" y1="129" y2="132" stroke="#111" stroke-width="0.9"/>
<text x="328.10" y="139.20" font-size="6.6" text-anchor="end" fill="#111" transform="rotate(-45 328.1 139.2)" letter-spacing="-0.05" stroke="#111" stroke-width="0.12">CD56<tspan dy="-2.6" font-size="4.4">dim</tspan></text>
<circle cx="326.3" cy="42.3" r="2.3" fill="#B0102D"/>
<circle cx="326.3" cy="48.8" r="2.3" fill="#1F4788"/>
<line x1="344.4" x2="344.4" y1="129" y2="132" stroke="#111" stroke-width="0.9"/>
<text x="346.24" y="139.20" font-size="6.6" text-anchor="end" fill="#111" transform="rotate(-45 346.24 139.2)" letter-spacing="-0.05" stroke="#111" stroke-width="0.12">Active CD56<tspan dy="-2.6" font-size="4.4">dim</tspan></text>
<circle cx="344.4" cy="66.6" r="2.3" fill="#B0102D"/>
<circle cx="344.4" cy="58.0" r="2.3" fill="#1F4788"/>
<line x1="362.6" x2="362.6" y1="129" y2="132" stroke="#111" stroke-width="0.9"/>
<text x="364.38" y="139.20" font-size="6.6" text-anchor="end" fill="#111" transform="rotate(-45 364.38000000000005 139.2)" letter-spacing="-0.05" stroke="#111" stroke-width="0.12">Adaptive NK cells</text>
<circle cx="362.6" cy="52.6" r="2.3" fill="#B0102D"/>
<circle cx="362.6" cy="88.7" r="2.3" fill="#1F4788"/>
<line x1="380.7" x2="380.7" y1="129" y2="132" stroke="#111" stroke-width="0.9"/>
<text x="382.52" y="139.20" font-size="6.6" text-anchor="end" fill="#111" transform="rotate(-45 382.52000000000004 139.2)" letter-spacing="-0.05" stroke="#111" stroke-width="0.12">CD56<tspan dy="-2.6" font-size="4.4">bright</tspan><tspan dy="2.6"> NKG2A+</tspan></text>
<circle cx="380.7" cy="117.1" r="2.3" fill="#B0102D"/>
<circle cx="380.7" cy="111.7" r="2.3" fill="#1F4788"/>
<line x1="398.9" x2="398.9" y1="129" y2="132" stroke="#111" stroke-width="0.9"/>
<text x="400.66" y="139.20" font-size="6.6" text-anchor="end" fill="#111" transform="rotate(-45 400.66 139.2)" letter-spacing="-0.05" stroke="#111" stroke-width="0.12">Inflamed Type 1 IFN</text>
<circle cx="398.9" cy="109.8" r="2.3" fill="#B0102D"/>
<circle cx="398.9" cy="117.4" r="2.3" fill="#1F4788"/>
<line x1="417.0" x2="417.0" y1="129" y2="132" stroke="#111" stroke-width="0.9"/>
<text x="418.80" y="139.20" font-size="6.6" text-anchor="end" fill="#111" transform="rotate(-45 418.8 139.2)" letter-spacing="-0.05" stroke="#111" stroke-width="0.12">Terminal NK cells</text>
<circle cx="417.0" cy="127.9" r="2.3" fill="#B0102D"/>
<circle cx="417.0" cy="106.8" r="2.3" fill="#1F4788"/>
<line x1="435.1" x2="435.1" y1="129" y2="132" stroke="#111" stroke-width="0.9"/>
<text x="436.94" y="139.20" font-size="6.6" text-anchor="end" fill="#111" transform="rotate(-45 436.94 139.2)" letter-spacing="-0.05" stroke="#111" stroke-width="0.12">CIML NK cells</text>
<circle cx="435.1" cy="124.1" r="2.3" fill="#B0102D"/>
<circle cx="435.1" cy="121.1" r="2.3" fill="#1F4788"/>
<line x1="453.3" x2="453.3" y1="129" y2="132" stroke="#111" stroke-width="0.9"/>
<text x="455.08" y="139.20" font-size="6.6" text-anchor="end" fill="#111" transform="rotate(-45 455.08000000000004 139.2)" letter-spacing="-0.05" stroke="#111" stroke-width="0.12">Low ribosomal</text>
<circle cx="453.3" cy="123.3" r="2.3" fill="#B0102D"/>
<circle cx="453.3" cy="122.5" r="2.3" fill="#1F4788"/>
<line x1="471.4" x2="471.4" y1="129" y2="132" stroke="#111" stroke-width="0.9"/>
<text x="473.22" y="139.20" font-size="6.6" text-anchor="end" fill="#111" transform="rotate(-45 473.22 139.2)" letter-spacing="-0.05" stroke="#111" stroke-width="0.12">CD56<tspan dy="-2.6" font-size="4.4">bright</tspan><tspan dy="2.6"> NKG2A-</tspan></text>
<circle cx="471.4" cy="127.3" r="2.3" fill="#B0102D"/>
<circle cx="471.4" cy="126.0" r="2.3" fill="#1F4788"/>
<circle cx="355.8" cy="23.7" r="2.3" fill="#1F4788"/>
<text x="361.30" y="25.90" font-size="5.5" text-anchor="start" fill="#1a1a1a">CMV-negative</text>
<circle cx="404.8" cy="23.7" r="2.3" fill="#B0102D"/>
<text x="410.20" y="25.90" font-size="5.5" text-anchor="start" fill="#1a1a1a">CMV-positive</text>
<text x="299.40" y="73.60" font-size="8.2" text-anchor="middle" fill="#1a1a1a" font-weight="bold" transform="rotate(-90 299.4 73.6)" textLength="63.5" lengthAdjust="spacingAndGlyphs">Percentage of cells (%)</text>
<rect x="85.50" y="219.80" width="10.84" height="5.65" fill="#4D1A50"/>
<rect x="96.29" y="219.80" width="10.84" height="5.65" fill="#302030"/>
<rect x="107.07" y="219.80" width="10.84" height="5.65" fill="#E8E020"/>
<rect x="117.86" y="219.80" width="10.84" height="5.65" fill="#3A1A3A"/>
<rect x="128.64" y="219.80" width="10.84" height="5.65" fill="#8A2A8E"/>
<rect x="139.43" y="219.80" width="10.84" height="5.65" fill="#1E1E1E"/>
<rect x="150.21" y="219.80" width="10.84" height="5.65" fill="#6B6A28"/>
<rect x="85.50" y="225.40" width="10.84" height="5.65" fill="#A09C30"/>
<rect x="96.29" y="225.40" width="10.84" height="5.65" fill="#6A2A6E"/>
<rect x="107.07" y="225.40" width="10.84" height="5.65" fill="#C8C030"/>
<rect x="117.86" y="225.40" width="10.84" height="5.65" fill="#9A2A9A"/>
<rect x="128.64" y="225.40" width="10.84" height="5.65" fill="#333320"/>
<rect x="139.43" y="225.40" width="10.84" height="5.65" fill="#2E1E2E"/>
<rect x="150.21" y="225.40" width="10.84" height="5.65" fill="#4A2048"/>
<rect x="85.50" y="231.00" width="10.84" height="5.65" fill="#9A9830"/>
<rect x="96.29" y="231.00" width="10.84" height="5.65" fill="#1E1E1A"/>
<rect x="107.07" y="231.00" width="10.84" height="5.65" fill="#3A1A3A"/>
<rect x="117.86" y="231.00" width="10.84" height="5.65" fill="#5A2260"/>
<rect x="128.64" y="231.00" width="10.84" height="5.65" fill="#C8C230"/>
<rect x="139.43" y="231.00" width="10.84" height="5.65" fill="#1E1E1A"/>
<rect x="150.21" y="231.00" width="10.84" height="5.65" fill="#A03CA0"/>
<rect x="85.50" y="236.60" width="10.84" height="5.65" fill="#5A5828"/>
<rect x="96.29" y="236.60" width="10.84" height="5.65" fill="#3E3C20"/>
<rect x="107.07" y="236.60" width="10.84" height="5.65" fill="#3A1E3A"/>
<rect x="117.86" y="236.60" width="10.84" height="5.65" fill="#222218"/>
<rect x="128.64" y="236.60" width="10.84" height="5.65" fill="#B048B0"/>
<rect x="139.43" y="236.60" width="10.84" height="5.65" fill="#D0CC30"/>
<rect x="150.21" y="236.60" width="10.84" height="5.65" fill="#5A2060"/>
<rect x="85.50" y="242.20" width="10.84" height="5.65" fill="#8A8A30"/>
<rect x="96.29" y="242.20" width="10.84" height="5.65" fill="#3A1E3A"/>
<rect x="107.07" y="242.20" width="10.84" height="5.65" fill="#7A2A8A"/>
<rect x="117.86" y="242.20" width="10.84" height="5.65" fill="#A848A8"/>
<rect x="128.64" y="242.20" width="10.84" height="5.65" fill="#4A4822"/>
<rect x="139.43" y="242.20" width="10.84" height="5.65" fill="#8A8A3A"/>
<rect x="150.21" y="242.20" width="10.84" height="5.65" fill="#2A2A1E"/>
<rect x="85.50" y="248.80" width="10.84" height="5.65" fill="#3E3C20"/>
<rect x="96.29" y="248.80" width="10.84" height="5.65" fill="#5A2060"/>
<rect x="107.07" y="248.80" width="10.84" height="5.65" fill="#6A6A2A"/>
<rect x="117.86" y="248.80" width="10.84" height="5.65" fill="#A040A0"/>
<rect x="128.64" y="248.80" width="10.84" height="5.65" fill="#3A1A3A"/>
<rect x="139.43" y="248.80" width="10.84" height="5.65" fill="#B0AC30"/>
<rect x="150.21" y="248.80" width="10.84" height="5.65" fill="#2A2A1E"/>
<rect x="85.50" y="254.40" width="10.84" height="5.65" fill="#B0AC30"/>
<rect x="96.29" y="254.40" width="10.84" height="5.65" fill="#5A2060"/>
<rect x="107.07" y="254.40" width="10.84" height="5.65" fill="#6A6A2A"/>
<rect x="117.86" y="254.40" width="10.84" height="5.65" fill="#2E2E1E"/>
<rect x="128.64" y="254.40" width="10.84" height="5.65" fill="#7A2A80"/>
<rect x="139.43" y="254.40" width="10.84" height="5.65" fill="#9A2A9A"/>
<rect x="150.21" y="254.40" width="10.84" height="5.65" fill="#5A5828"/>
<rect x="85.50" y="260.00" width="10.84" height="5.65" fill="#7A7830"/>
<rect x="96.29" y="260.00" width="10.84" height="5.65" fill="#2A1E2A"/>
<rect x="107.07" y="260.00" width="10.84" height="5.65" fill="#D0CC28"/>
<rect x="117.86" y="260.00" width="10.84" height="5.65" fill="#1E1E1A"/>
<rect x="128.64" y="260.00" width="10.84" height="5.65" fill="#1E1E1E"/>
<rect x="139.43" y="260.00" width="10.84" height="5.65" fill="#6A2A70"/>
<rect x="150.21" y="260.00" width="10.84" height="5.65" fill="#A038A8"/>
<rect x="85.50" y="266.60" width="10.84" height="5.65" fill="#222218"/>
<rect x="96.29" y="266.60" width="10.84" height="5.65" fill="#8A2A90"/>
<rect x="107.07" y="266.60" width="10.84" height="5.65" fill="#6A6A2A"/>
<rect x="117.86" y="266.60" width="10.84" height="5.65" fill="#A040A0"/>
<rect x="128.64" y="266.60" width="10.84" height="5.65" fill="#1E1E1A"/>
<rect x="139.43" y="266.60" width="10.84" height="5.65" fill="#3A3A22"/>
<rect x="150.21" y="266.60" width="10.84" height="5.65" fill="#9A9830"/>
<rect x="85.50" y="272.20" width="10.84" height="5.65" fill="#7A2A80"/>
<rect x="96.29" y="272.20" width="10.84" height="5.65" fill="#4A2050"/>
<rect x="107.07" y="272.20" width="10.84" height="5.65" fill="#F0E820"/>
<rect x="117.86" y="272.20" width="10.84" height="5.65" fill="#3A1A3A"/>
<rect x="128.64" y="272.20" width="10.84" height="5.65" fill="#1A1A1A"/>
<rect x="139.43" y="272.20" width="10.84" height="5.65" fill="#2E1E2E"/>
<rect x="150.21" y="272.20" width="10.84" height="5.65" fill="#5A5828"/>
<rect x="85.50" y="277.80" width="10.84" height="5.65" fill="#222218"/>
<rect x="96.29" y="277.80" width="10.84" height="5.65" fill="#6A2A70"/>
<rect x="107.07" y="277.80" width="10.84" height="5.65" fill="#1A1A1A"/>
<rect x="117.86" y="277.80" width="10.84" height="5.65" fill="#A040A0"/>
<rect x="128.64" y="277.80" width="10.84" height="5.65" fill="#A8A430"/>
<rect x="139.43" y="277.80" width="10.84" height="5.65" fill="#222218"/>
<rect x="150.21" y="277.80" width="10.84" height="5.65" fill="#8A8A30"/>
<rect x="85.50" y="283.40" width="10.84" height="5.65" fill="#5A2060"/>
<rect x="96.29" y="283.40" width="10.84" height="5.65" fill="#2A1E2A"/>
<rect x="107.07" y="283.40" width="10.84" height="5.65" fill="#6A6A2A"/>
<rect x="117.86" y="283.40" width="10.84" height="5.65" fill="#A040A0"/>
<rect x="128.64" y="283.40" width="10.84" height="5.65" fill="#E0DC28"/>
<rect x="139.43" y="283.40" width="10.84" height="5.65" fill="#222218"/>
<rect x="150.21" y="283.40" width="10.84" height="5.65" fill="#1A1A1A"/>
<rect x="85.50" y="290.00" width="10.84" height="5.65" fill="#8A2A90"/>
<rect x="96.29" y="290.00" width="10.84" height="5.65" fill="#4A2050"/>
<rect x="107.07" y="290.00" width="10.84" height="5.65" fill="#F0E820"/>
<rect x="117.86" y="290.00" width="10.84" height="5.65" fill="#4A1E50"/>
<rect x="128.64" y="290.00" width="10.84" height="5.65" fill="#6A6A2A"/>
<rect x="139.43" y="290.00" width="10.84" height="5.65" fill="#2A1E2A"/>
<rect x="150.21" y="290.00" width="10.84" height="5.65" fill="#3A1E3A"/>
<rect x="85.50" y="295.60" width="10.84" height="5.65" fill="#5A2060"/>
<rect x="96.29" y="295.60" width="10.84" height="5.65" fill="#5A2060"/>
<rect x="107.07" y="295.60" width="10.84" height="5.65" fill="#F0E820"/>
<rect x="117.86" y="295.60" width="10.84" height="5.65" fill="#4A1E50"/>
<rect x="128.64" y="295.60" width="10.84" height="5.65" fill="#6A6A2A"/>
<rect x="139.43" y="295.60" width="10.84" height="5.65" fill="#2A1E2A"/>
<rect x="150.21" y="295.60" width="10.84" height="5.65" fill="#3A1E3A"/>
<rect x="85.50" y="302.20" width="10.84" height="5.65" fill="#1E1E1A"/>
<rect x="96.29" y="302.20" width="10.84" height="5.65" fill="#1E1E1A"/>
<rect x="107.07" y="302.20" width="10.84" height="5.65" fill="#B0AC30"/>
<rect x="117.86" y="302.20" width="10.84" height="5.65" fill="#6A6A2A"/>
<rect x="128.64" y="302.20" width="10.84" height="5.65" fill="#A848A8"/>
<rect x="139.43" y="302.20" width="10.84" height="5.65" fill="#2A2A1E"/>
<rect x="150.21" y="302.20" width="10.84" height="5.65" fill="#3A1E3A"/>
<rect x="85.50" y="307.80" width="10.84" height="5.65" fill="#3A3A20"/>
<rect x="96.29" y="307.80" width="10.84" height="5.65" fill="#1A1A1A"/>
<rect x="107.07" y="307.80" width="10.84" height="5.65" fill="#C8C430"/>
<rect x="117.86" y="307.80" width="10.84" height="5.65" fill="#5A5828"/>
<rect x="128.64" y="307.80" width="10.84" height="5.65" fill="#9A3A9A"/>
<rect x="139.43" y="307.80" width="10.84" height="5.65" fill="#4A2050"/>
<rect x="150.21" y="307.80" width="10.84" height="5.65" fill="#5A2060"/>
<text x="164.70" y="224.00" font-size="5.7" text-anchor="start" fill="#1a1a1a" font-style="italic">KLRC2/ NKG2C</text>
<text x="164.70" y="229.80" font-size="5.7" text-anchor="start" fill="#1a1a1a" font-style="italic">FCGR3A/CD16</text>
<text x="164.70" y="235.60" font-size="5.7" text-anchor="start" fill="#1a1a1a" font-style="italic">FCER1G</text>
<text x="164.70" y="241.40" font-size="5.7" text-anchor="start" fill="#1a1a1a" font-style="italic">SH2D1B</text>
<text x="164.70" y="247.20" font-size="5.7" text-anchor="start" fill="#1a1a1a" font-style="italic">ZBTB16</text>
<text x="164.70" y="253.50" font-size="5.7" text-anchor="start" fill="#1a1a1a" font-style="italic">GZMB</text>
<text x="164.70" y="259.30" font-size="5.7" text-anchor="start" fill="#1a1a1a" font-style="italic">PRF1</text>
<text x="164.70" y="265.00" font-size="5.7" text-anchor="start" fill="#1a1a1a" font-style="italic">CST7</text>
<text x="164.70" y="271.80" font-size="5.7" text-anchor="start" fill="#1a1a1a" font-style="italic">KIR2DL1</text>
<text x="164.70" y="277.50" font-size="5.7" text-anchor="start" fill="#1a1a1a" font-style="italic">KIR3DL1</text>
<text x="164.70" y="283.30" font-size="5.7" text-anchor="start" fill="#1a1a1a" font-style="italic">KIR2DL3</text>
<text x="164.70" y="289.00" font-size="5.7" text-anchor="start" fill="#1a1a1a" font-style="italic">KIR3DL2</text>
<text x="164.70" y="294.80" font-size="5.7" text-anchor="start" fill="#1a1a1a" font-style="italic">CD52</text>
<text x="164.70" y="300.60" font-size="5.7" text-anchor="start" fill="#1a1a1a" font-style="italic">CD3E</text>
<text x="164.70" y="306.80" font-size="5.7" text-anchor="start" fill="#1a1a1a" font-style="italic">CCL5</text>
<text x="164.70" y="313.10" font-size="5.7" text-anchor="start" fill="#1a1a1a" font-style="italic">IL32</text>
<line x1="96.29" x2="96.29" y1="219.8" y2="313.4000000000002" stroke="#fff" stroke-opacity="0.25" stroke-width="0.4"/>
<line x1="107.07" x2="107.07" y1="219.8" y2="313.4000000000002" stroke="#fff" stroke-opacity="0.25" stroke-width="0.4"/>
<line x1="117.86" x2="117.86" y1="219.8" y2="313.4000000000002" stroke="#fff" stroke-opacity="0.25" stroke-width="0.4"/>
<line x1="128.64" x2="128.64" y1="219.8" y2="313.4000000000002" stroke="#fff" stroke-opacity="0.25" stroke-width="0.4"/>
<line x1="139.43" x2="139.43" y1="219.8" y2="313.4000000000002" stroke="#fff" stroke-opacity="0.25" stroke-width="0.4"/>
<line x1="150.21" x2="150.21" y1="219.8" y2="313.4000000000002" stroke="#fff" stroke-opacity="0.25" stroke-width="0.4"/>
<rect x="106.87" y="216.4" width="11.19" height="154.2" fill="none" stroke="#C0102E" stroke-width="1.3"/>
<text transform="translate(92.99 316.50) rotate(-90) scale(0.86 1)" font-size="6.0" text-anchor="end" fill="#1a1a1a">CD56<tspan dy="-1.8" font-size="3.6">dim</tspan></text>
<text transform="translate(103.78 316.50) rotate(-90) scale(0.86 1)" font-size="6.0" text-anchor="end" fill="#1a1a1a">CD56<tspan dy="-1.8" font-size="3.6">dim</tspan><tspan dy="1.8"> Active</tspan></text>
<text transform="translate(114.56 316.50) rotate(-90) scale(0.86 1)" font-size="6.0" text-anchor="end" fill="#1a1a1a">Adaptive NK cells</text>
<text transform="translate(125.35 316.50) rotate(-90) scale(0.86 1)" font-size="6.0" text-anchor="end" fill="#1a1a1a">Inflamed Type 1 IFN</text>
<text transform="translate(136.14 316.50) rotate(-90) scale(0.86 1)" font-size="6.0" text-anchor="end" fill="#1a1a1a">Terminal NK cells</text>
<text transform="translate(146.92 316.50) rotate(-90) scale(0.86 1)" font-size="6.0" text-anchor="end" fill="#1a1a1a">CIML NK cells</text>
<text transform="translate(157.71 316.50) rotate(-90) scale(0.86 1)" font-size="6.0" text-anchor="end" fill="#1a1a1a">Low Ribosomal</text>
<path d="M83.5 220.20000000000002H80V247.39999999999998H83.5" fill="none" stroke="#000" stroke-width="1.1"/>
<path d="M83.5 249.2H59.8V265.20000000000005H83.5" fill="none" stroke="#000" stroke-width="1.1"/>
<path d="M83.5 267.0H80V288.60000000000014H83.5" fill="none" stroke="#000" stroke-width="1.1"/>
<path d="M83.5 290.4000000000001H73V300.8000000000002H83.5" fill="none" stroke="#000" stroke-width="1.1"/>
<path d="M83.5 302.60000000000014H62.4V313.0000000000002H83.5" fill="none" stroke="#000" stroke-width="1.1"/>
<text x="58.60" y="233.40" font-size="5.6" text-anchor="middle" fill="#222" transform="rotate(-90 58.6 233.4)">Canonical</text>
<text x="65.00" y="233.40" font-size="5.6" text-anchor="middle" fill="#222" transform="rotate(-90 65.0 233.4)">adaptive</text>
<text x="71.20" y="233.40" font-size="5.6" text-anchor="middle" fill="#222" transform="rotate(-90 71.2 233.4)">NK cell</text>
<text x="77.60" y="233.40" font-size="5.6" text-anchor="middle" fill="#222" transform="rotate(-90 77.6 233.4)">markers</text>
<text x="40.00" y="256.80" font-size="5.6" text-anchor="middle" fill="#222" transform="rotate(-90 40.0 256.8)">Lytic granules/</text>
<text x="46.30" y="256.80" font-size="5.6" text-anchor="middle" fill="#222" transform="rotate(-90 46.3 256.8)">regulators of</text>
<text x="52.80" y="256.80" font-size="5.6" text-anchor="middle" fill="#222" transform="rotate(-90 52.8 256.8)">cytotoxicity</text>
<text x="75.80" y="277.80" font-size="5.6" text-anchor="middle" fill="#222" transform="rotate(-90 75.8 277.8)">KIR</text>
<text x="62.20" y="292.60" font-size="5.6" text-anchor="middle" fill="#222" transform="rotate(-90 62.2 292.6)">Surface</text>
<text x="68.60" y="292.60" font-size="5.6" text-anchor="middle" fill="#222" transform="rotate(-90 68.6 292.6)">proteins</text>
<text x="47.00" y="306.70" font-size="5.6" text-anchor="middle" fill="#222" transform="rotate(-90 47.0 306.7)">Cytokines/</text>
<text x="53.50" y="306.70" font-size="5.6" text-anchor="middle" fill="#222" transform="rotate(-90 53.5 306.7)">chemokines</text>
<defs><linearGradient id="cb" x1="0" y1="0" x2="0" y2="1"><stop offset="0" stop-color="#F2EA1E"/><stop offset="0.5" stop-color="#1A1A1A"/><stop offset="1" stop-color="#B02AB4"/></linearGradient></defs>
<rect x="230.1" y="268.2" width="3.9" height="17.3" fill="url(#cb)"/>
<text x="209.50" y="272.40" font-size="5.6" text-anchor="middle" fill="#222">Average</text>
<text x="209.50" y="278.60" font-size="5.6" text-anchor="middle" fill="#222">Scaled</text>
<text x="209.50" y="284.90" font-size="5.6" text-anchor="middle" fill="#222">Expression</text>
<text x="236.50" y="273.00" font-size="5.4" text-anchor="start" fill="#222">1</text>
<text x="236.50" y="278.60" font-size="5.4" text-anchor="start" fill="#222">0</text>
<text x="236.00" y="284.40" font-size="5.4" text-anchor="start" fill="#222">−1</text>
<line x1="172.6" x2="172.6" y1="400" y2="427" stroke="#111" stroke-width="1"/>
<line x1="172.1" x2="252.5" y1="426.6" y2="426.6" stroke="#111" stroke-width="1"/>
<line x1="172.6" x2="172.6" y1="426.6" y2="429.4" stroke="#111" stroke-width="0.8"/>
<text x="172.60" y="439.40" font-size="6.8" text-anchor="middle" fill="#222">0</text>
<line x1="188.0" x2="188.0" y1="426.6" y2="429.4" stroke="#111" stroke-width="0.8"/>
<text x="188.00" y="439.40" font-size="6.8" text-anchor="middle" fill="#222">1</text>
<line x1="203.4" x2="203.4" y1="426.6" y2="429.4" stroke="#111" stroke-width="0.8"/>
<text x="203.40" y="439.40" font-size="6.8" text-anchor="middle" fill="#222">2</text>
<line x1="218.8" x2="218.8" y1="426.6" y2="429.4" stroke="#111" stroke-width="0.8"/>
<text x="218.80" y="439.40" font-size="6.8" text-anchor="middle" fill="#222">3</text>
<line x1="234.2" x2="234.2" y1="426.6" y2="429.4" stroke="#111" stroke-width="0.8"/>
<text x="234.20" y="439.40" font-size="6.8" text-anchor="middle" fill="#222">4</text>
<line x1="249.6" x2="249.6" y1="426.6" y2="429.4" stroke="#111" stroke-width="0.8"/>
<text x="249.60" y="439.40" font-size="6.8" text-anchor="middle" fill="#222">5</text>
<rect x="172.6" y="402.7" width="71.5" height="6.1" fill="#2A4580"/>
<line x1="169.6" x2="172.6" y1="405.8" y2="405.8" stroke="#111" stroke-width="0.8"/>
<text x="168.10" y="407.95" font-size="6.35" text-anchor="end" fill="#222">positive regulation of lymphocyte activation</text>
<rect x="172.6" y="411" width="34.8" height="5.9" fill="#2A4580"/>
<line x1="169.6" x2="172.6" y1="413.9" y2="413.9" stroke="#111" stroke-width="0.8"/>
<text x="168.10" y="416.15" font-size="6.35" text-anchor="end" fill="#222">regulation of interferon-gamma production</text>
<rect x="172.6" y="419.1" width="30.3" height="6.0" fill="#2A4580"/>
<line x1="169.6" x2="172.6" y1="422.1" y2="422.1" stroke="#111" stroke-width="0.8"/>
<text x="168.10" y="424.30" font-size="6.35" text-anchor="end" fill="#222">positive regulation of cell-cell adhesion</text>
<text x="249.70" y="416.00" font-size="6.5" text-anchor="start" fill="#222">up-regulated</text>
<text x="212.50" y="450.60" font-size="7.4" text-anchor="middle" fill="#1a1a1a" font-weight="bold" textLength="40.5" lengthAdjust="spacingAndGlyphs">-log10(p-value)</text>
<path d="M346.7 364.9h.01M334.7 371.0h.01M309.4 345.6h.01M349.9 368.0h.01M337.6 350.6h.01M330.8 358.0h.01M339.2 373.2h.01M355.1 352.6h.01M327.8 365.1h.01M316.4 355.4h.01M311.9 353.3h.01M305.9 362.9h.01M316.9 374.0h.01M340.1 344.4h.01M322.8 366.6h.01M337.8 370.3h.01M348.7 356.6h.01M339.2 363.9h.01M330.6 355.9h.01M335.9 348.1h.01M325.2 360.5h.01M325.1 372.8h.01M321.9 345.4h.01M339.2 361.6h.01M346.9 364.7h.01M324.4 365.0h.01M323.9 369.7h.01M333.2 369.5h.01M326.4 350.0h.01M351.3 351.1h.01M322.5 367.7h.01M316.8 365.8h.01M338.3 348.6h.01M309.1 360.7h.01M343.5 350.5h.01M307.2 357.4h.01M353.4 344.0h.01M314.4 348.8h.01M356.2 341.0h.01M349.7 369.9h.01M325.4 353.4h.01M349.7 345.3h.01M324.2 362.9h.01M340.3 364.8h.01M324.6 347.3h.01M316.8 348.3h.01M304.3 371.6h.01M321.5 353.0h.01M313.6 345.3h.01M334.6 371.5h.01M314.3 348.3h.01M307.4 373.3h.01M315.0 373.2h.01M312.4 359.5h.01M347.5 358.4h.01M332.2 370.3h.01M320.4 354.0h.01M328.1 344.2h.01M324.5 345.1h.01M312.9 353.9h.01M344.1 341.4h.01M310.7 355.8h.01M353.1 356.6h.01M356.1 342.0h.01M317.7 359.2h.01M319.3 349.4h.01M304.2 354.3h.01M301.4 372.5h.01M344.6 366.8h.01M333.0 344.5h.01M311.0 362.4h.01M344.6 353.2h.01M336.1 367.7h.01M330.5 347.1h.01M330.5 353.5h.01M340.2 361.9h.01M330.0 362.6h.01M316.6 371.8h.01M350.7 362.1h.01M340.9 367.2h.01M334.5 349.9h.01M340.1 358.2h.01M356.4 368.6h.01M342.7 370.0h.01M329.2 373.8h.01M304.6 348.2h.01M342.6 372.8h.01M305.8 371.0h.01M348.2 357.6h.01M347.8 353.4h.01M344.1 369.6h.01M341.4 364.1h.01M336.7 369.0h.01M319.5 349.5h.01M305.3 369.6h.01M317.1 367.7h.01M347.6 343.9h.01M347.5 359.1h.01M336.5 355.3h.01M337.0 353.8h.01M352.7 351.3h.01M302.9 352.6h.01M332.3 348.6h.01M320.0 367.7h.01M329.4 366.8h.01M334.1 356.3h.01M339.7 373.2h.01M345.2 369.9h.01M327.7 360.8h.01M356.0 345.9h.01M352.2 364.7h.01M329.2 346.2h.01M349.0 353.6h.01M329.2 366.0h.01M330.7 346.3h.01M341.4 346.6h.01M334.9 370.9h.01M311.6 361.6h.01M350.8 357.5h.01M353.6 357.3h.01M342.1 350.8h.01M301.8 361.8h.01M333.2 342.2h.01M346.8 365.9h.01M317.6 359.2h.01M321.3 362.8h.01M332.8 372.5h.01M325.1 371.8h.01M302.0 349.9h.01M304.5 355.2h.01M344.3 371.3h.01M305.5 373.2h.01M350.1 357.5h.01M309.5 345.3h.01M335.5 345.1h.01M306.6 357.1h.01M343.5 359.0h.01M328.8 372.4h.01M313.1 366.4h.01M325.8 373.6h.01M306.0 357.0h.01M356.2 364.9h.01M330.6 358.1h.01M344.3 356.0h.01M329.7 372.7h.01M302.0 361.5h.01M308.0 364.7h.01M309.5 350.8h.01M317.5 354.3h.01M334.2 351.3h.01M316.3 369.2h.01M349.8 357.0h.01M341.2 359.2h.01M302.6 370.6h.01M309.4 373.1h.01M341.2 341.9h.01M323.7 343.8h.01M307.4 363.9h.01M334.8 353.0h.01M302.7 348.6h.01M356.8 363.6h.01M317.7 354.8h.01M324.5 357.7h.01M349.4 351.8h.01M307.7 364.4h.01M349.5 341.8h.01M318.3 371.7h.01M344.9 366.7h.01M313.7 361.7h.01M305.8 354.5h.01M349.1 362.4h.01M338.8 369.6h.01M321.2 369.3h.01M307.0 366.1h.01M321.7 373.3h.01M337.0 352.9h.01M317.2 360.9h.01M316.3 371.0h.01M354.4 341.3h.01M326.8 348.1h.01M329.5 343.5h.01M335.4 345.9h.01M332.4 356.0h.01M336.2 346.5h.01M308.0 353.2h.01M341.1 340.6h.01M320.8 352.8h.01M321.8 355.7h.01M301.6 350.8h.01M311.7 359.6h.01M310.2 346.2h.01M341.6 345.2h.01M343.5 343.7h.01M337.8 371.3h.01M305.1 352.5h.01M317.2 352.3h.01M325.5 347.3h.01M320.1 371.2h.01M348.0 363.7h.01M323.3 349.9h.01M315.2 345.8h.01M302.7 352.4h.01M348.8 352.6h.01M312.0 370.9h.01M344.2 349.3h.01M344.8 340.9h.01M334.9 343.1h.01M356.2 353.2h.01M344.4 368.5h.01M357.0 356.4h.01M329.2 352.2h.01M349.0 364.5h.01M343.2 346.0h.01M323.3 360.4h.01M350.5 362.5h.01M346.2 343.7h.01M321.5 364.3h.01M311.6 368.1h.01M349.3 364.4h.01M316.2 354.4h.01M317.0 365.5h.01M353.2 339.4h.01M343.8 347.5h.01M322.0 363.2h.01M346.9 356.0h.01M312.8 364.3h.01M341.8 361.1h.01M346.4 366.4h.01M301.2 370.0h.01M307.1 368.6h.01M355.8 351.0h.01M325.4 369.6h.01M346.4 352.2h.01M315.8 359.6h.01M348.5 341.0h.01M354.3 353.5h.01M330.8 360.6h.01M301.6 365.7h.01M347.3 361.7h.01M337.9 341.6h.01M345.5 363.3h.01M314.4 346.3h.01M312.9 352.8h.01M336.8 355.5h.01M318.5 344.3h.01M344.2 360.1h.01M310.3 362.0h.01M303.6 368.7h.01M314.4 369.4h.01M331.1 369.4h.01M306.2 372.0h.01M350.6 371.3h.01M354.8 341.3h.01M329.7 345.7h.01M302.4 352.6h.01M330.8 354.4h.01M357.0 368.3h.01M318.4 353.1h.01M311.2 346.8h.01M310.2 362.5h.01M343.0 344.8h.01M345.2 346.2h.01M323.9 362.3h.01M331.7 368.4h.01M331.1 356.2h.01M319.0 369.6h.01M306.2 363.7h.01M331.4 342.4h.01M312.1 373.4h.01M317.9 359.8h.01M333.5 363.1h.01M352.2 366.5h.01M315.8 366.3h.01M355.2 357.2h.01M320.8 372.5h.01M322.7 349.1h.01M348.0 341.4h.01M312.2 372.9h.01M311.1 372.0h.01M349.5 364.1h.01M347.9 364.1h.01M306.9 366.2h.01M335.4 342.3h.01M336.7 347.6h.01M329.8 344.5h.01M349.1 340.0h.01M348.3 350.0h.01M347.6 343.4h.01M339.0 371.4h.01M325.6 343.6h.01M339.8 360.8h.01M350.7 361.6h.01M323.1 357.3h.01M339.0 355.1h.01M319.8 356.8h.01M320.8 353.4h.01M332.3 370.6h.01M336.4 343.2h.01M336.0 371.6h.01M332.0 368.8h.01M324.5 368.9h.01M352.5 347.0h.01M333.0 364.4h.01M306.9 353.5h.01M314.6 346.8h.01M350.2 368.4h.01M356.9 339.7h.01M305.5 359.3h.01M317.4 354.9h.01M348.1 365.0h.01M305.1 363.5h.01M312.2 353.0h.01M317.6 355.8h.01M307.3 366.2h.01M344.1 345.9h.01M332.0 355.4h.01M304.3 357.1h.01M333.8 366.9h.01M341.6 369.8h.01M330.9 371.1h.01M348.5 360.2h.01M355.0 358.2h.01M344.5 357.0h.01M303.9 364.9h.01M334.0 348.3h.01M304.7 359.4h.01M344.4 366.7h.01M320.4 365.2h.01M342.6 364.4h.01M351.9 345.1h.01M331.8 342.5h.01M318.9 373.7h.01M339.2 347.1h.01M353.8 368.1h.01M303.1 357.2h.01M323.4 366.9h.01M338.5 356.7h.01M335.4 343.9h.01M349.2 367.9h.01M304.7 355.5h.01M301.7 368.1h.01M352.4 360.4h.01M342.1 351.9h.01M307.4 352.4h.01M343.2 373.6h.01M354.7 370.4h.01M327.7 358.8h.01M327.4 342.6h.01M310.8 350.2h.01M350.3 369.0h.01M301.3 366.7h.01M303.6 372.1h.01M347.4 373.2h.01M316.0 371.7h.01M309.0 358.2h.01M351.9 343.7h.01M307.5 349.8h.01M349.7 365.4h.01M312.7 363.2h.01M344.7 340.4h.01M331.3 361.0h.01M321.4 360.2h.01M314.8 352.9h.01M333.7 362.7h.01M340.6 348.0h.01M311.6 362.5h.01M336.0 349.6h.01M304.8 371.0h.01M344.6 348.3h.01M312.9 362.5h.01M339.2 357.2h.01M344.8 367.0h.01M324.6 363.7h.01M347.9 362.7h.01M341.8 359.4h.01M311.2 355.5h.01M310.1 370.6h.01M349.2 343.1h.01M320.6 362.8h.01M334.9 353.9h.01M333.9 365.4h.01M345.3 363.8h.01M349.9 341.4h.01M316.3 355.8h.01M340.6 366.4h.01M355.1 358.3h.01M329.7 362.8h.01M323.3 371.3h.01M353.6 343.3h.01M344.1 340.3h.01M349.6 352.7h.01M302.5 346.8h.01M344.7 356.1h.01M329.2 354.0h.01M341.8 355.6h.01M320.9 371.6h.01M323.4 371.1h.01M322.4 346.9h.01M345.9 356.7h.01M339.8 359.8h.01M332.5 345.4h.01M354.6 364.2h.01M344.0 361.1h.01M326.4 361.4h.01M310.2 367.4h.01M350.2 354.2h.01M309.9 345.1h.01M344.6 348.2h.01M331.5 354.7h.01M309.2 368.8h.01M338.3 352.0h.01M323.3 348.7h.01M313.7 369.3h.01M304.5 347.3h.01M330.7 355.5h.01M337.7 370.1h.01M350.3 340.2h.01M314.5 367.0h.01M348.8 356.5h.01M312.0 345.2h.01M348.0 361.3h.01M336.3 350.1h.01M321.1 356.0h.01M322.3 347.9h.01M313.9 360.6h.01M304.3 356.9h.01M304.4 364.3h.01M343.6 355.7h.01M320.3 359.0h.01M307.7 366.7h.01M352.5 369.1h.01M345.1 348.9h.01M336.7 348.5h.01M308.6 363.5h.01M320.3 367.2h.01M314.2 364.9h.01M355.0 360.6h.01M345.4 348.6h.01M342.6 357.5h.01M329.5 368.2h.01M350.6 361.0h.01M341.0 345.0h.01M333.1 362.2h.01M350.0 370.7h.01M343.4 364.3h.01M340.3 366.8h.01M350.8 357.6h.01M307.5 350.7h.01M320.4 371.1h.01M348.3 371.1h.01M312.7 368.3h.01M323.8 343.7h.01M305.2 345.6h.01M316.6 361.4h.01M345.3 345.1h.01M308.4 353.9h.01M326.4 371.4h.01M356.9 359.4h.01M340.0 349.2h.01M314.6 365.5h.01M323.0 346.6h.01M347.9 351.6h.01M320.4 364.4h.01M321.1 362.1h.01M327.1 361.2h.01M320.1 350.9h.01M350.2 343.8h.01M309.7 357.0h.01M310.8 348.1h.01M329.6 373.6h.01M346.6 351.1h.01M307.7 349.0h.01M304.5 348.4h.01M357.0 358.3h.01M334.7 361.3h.01M327.9 347.7h.01M345.3 360.0h.01M347.8 363.0h.01M345.1 363.3h.01M347.7 364.9h.01M329.9 368.3h.01M305.0 362.2h.01M305.6 370.0h.01M322.3 350.4h.01M321.7 372.8h.01M324.9 360.8h.01M315.1 363.9h.01M327.7 357.7h.01M335.1 343.2h.01M354.1 350.0h.01M321.7 373.6h.01M325.7 365.4h.01M335.8 367.1h.01M334.9 365.4h.01M310.5 372.4h.01M328.0 370.1h.01M311.9 366.0h.01M309.9 373.7h.01M308.0 352.8h.01M324.7 352.9h.01M339.9 353.9h.01M332.9 346.6h.01M305.6 365.0h.01M301.4 361.3h.01M349.6 356.0h.01M348.9 352.9h.01M303.7 371.6h.01M338.6 342.4h.01M309.9 346.8h.01M339.8 369.4h.01M317.8 348.3h.01M349.3 350.3h.01M354.3 346.6h.01M353.1 360.4h.01M325.7 363.8h.01M313.2 365.0h.01M309.2 346.3h.01M335.9 342.8h.01M308.9 355.7h.01M326.1 345.3h.01M302.2 356.9h.01M330.4 372.3h.01M327.6 364.9h.01M317.5 372.8h.01M347.4 367.4h.01M352.1 369.2h.01M350.2 340.7h.01M328.2 346.8h.01M315.6 369.8h.01M342.4 354.9h.01M348.8 355.0h.01M356.3 359.1h.01M323.9 350.1h.01M356.7 362.5h.01M315.0 349.6h.01M317.2 369.3h.01M332.6 364.5h.01M307.1 356.0h.01M323.1 370.8h.01M318.4 361.3h.01M309.3 353.7h.01M303.9 362.0h.01M318.7 346.1h.01M308.0 371.8h.01M319.3 344.7h.01M327.9 346.3h.01M303.5 351.5h.01M341.0 341.4h.01M311.5 370.7h.01M355.7 341.0h.01M329.9 345.2h.01M347.1 354.3h.01M327.2 373.2h.01M338.9 349.3h.01M334.0 349.4h.01M328.0 366.6h.01M354.2 371.2h.01M316.2 367.8h.01M335.2 358.9h.01M333.1 358.9h.01M335.3 370.6h.01M321.8 357.1h.01M335.1 359.7h.01M304.0 354.0h.01M329.2 343.3h.01M320.3 353.1h.01M303.5 354.5h.01M304.9 356.4h.01M336.6 350.6h.01M329.1 358.6h.01M307.8 366.7h.01M346.2 341.4h.01M319.8 357.5h.01M317.0 365.5h.01M345.5 345.7h.01M335.7 345.6h.01M301.4 348.4h.01M306.9 373.4h.01M307.6 366.7h.01M331.4 372.2h.01M352.2 358.8h.01M356.1 348.9h.01M315.5 367.9h.01M346.8 354.4h.01M306.4 366.3h.01M308.1 356.8h.01M351.0 361.3h.01M302.6 347.4h.01M347.6 372.9h.01M316.8 362.4h.01M356.2 372.9h.01M356.8 352.0h.01M323.5 361.4h.01M338.3 363.7h.01M317.9 349.9h.01M319.2 349.2h.01M320.1 353.1h.01M301.2 358.8h.01M325.8 349.4h.01M335.2 352.6h.01M310.8 348.7h.01M347.3 356.3h.01M337.9 365.1h.01M316.5 357.4h.01M325.8 370.1h.01M350.1 349.3h.01M311.9 346.4h.01M333.1 358.8h.01M349.5 370.5h.01M306.2 345.8h.01M307.9 361.0h.01M355.7 362.9h.01M353.0 368.3h.01M350.6 374.0h.01M329.4 344.2h.01M344.7 350.9h.01M327.8 349.5h.01M341.2 368.7h.01M341.2 346.9h.01M338.9 366.2h.01M323.0 367.5h.01M322.0 361.4h.01M346.1 348.6h.01M311.0 350.2h.01M340.3 363.0h.01M333.7 370.5h.01M310.4 366.2h.01M344.5 367.8h.01M316.6 358.5h.01M324.3 367.5h.01M330.4 342.0h.01M329.5 346.5h.01M348.1 368.8h.01M328.9 360.1h.01M346.8 350.1h.01M336.4 344.6h.01M307.2 370.6h.01M328.3 353.2h.01M338.4 345.6h.01M311.0 370.9h.01M320.6 352.7h.01M317.9 352.0h.01M331.6 364.7h.01M332.4 359.1h.01M348.4 346.4h.01M314.1 367.5h.01M348.4 344.9h.01M349.4 361.2h.01M308.2 358.1h.01M354.4 353.4h.01M339.4 373.1h.01M324.1 368.5h.01M305.7 367.7h.01M317.2 358.9h.01M335.4 356.3h.01M321.1 369.3h.01M328.8 345.4h.01M351.4 342.2h.01M351.0 354.1h.01M330.1 367.0h.01M342.8 354.5h.01M323.6 372.1h.01M311.2 353.7h.01M330.0 349.2h.01M307.6 354.4h.01M350.3 373.0h.01M355.8 371.9h.01M341.8 356.1h.01M318.5 363.3h.01M303.1 352.4h.01M302.3 346.7h.01M355.4 344.5h.01M308.2 355.9h.01M346.5 360.2h.01M324.8 349.2h.01M302.3 363.4h.01M348.3 346.5h.01M352.9 343.7h.01M312.3 346.6h.01M315.0 357.5h.01M333.3 352.3h.01M335.8 366.5h.01M349.7 368.9h.01M342.7 373.9h.01M351.2 343.5h.01M315.8 357.4h.01M328.2 344.4h.01M317.4 371.7h.01M323.3 364.4h.01M315.8 350.6h.01M322.6 369.7h.01M311.5 348.3h.01M327.1 367.7h.01M327.8 370.6h.01M328.0 366.5h.01M322.6 345.1h.01M328.2 350.6h.01M319.3 368.2h.01M320.5 367.5h.01M329.6 352.5h.01M362.9 334.5h.01M402.5 306.4h.01M380.1 315.7h.01M377.1 334.3h.01M347.8 350.5h.01M385.5 313.2h.01M384.4 315.8h.01M353.8 340.8h.01M366.9 313.5h.01M379.0 327.2h.01M376.3 330.3h.01M415.6 300.0h.01M351.5 343.9h.01M353.8 336.5h.01M390.1 326.2h.01M357.7 323.0h.01M354.2 351.7h.01M351.2 343.5h.01M346.7 346.0h.01M361.3 338.4h.01M346.2 330.8h.01M369.7 332.8h.01M346.3 347.7h.01M421.1 295.4h.01M378.3 315.7h.01M349.1 343.0h.01M375.2 325.0h.01M343.3 341.8h.01M340.2 348.2h.01M354.4 326.9h.01M381.4 334.2h.01M347.0 337.6h.01M374.9 322.2h.01M367.6 338.6h.01M354.3 349.0h.01M431.9 296.9h.01M399.0 306.1h.01M369.2 335.5h.01M358.3 347.1h.01M373.8 326.7h.01M354.0 358.8h.01M378.7 325.9h.01M354.1 343.9h.01M379.0 328.2h.01M369.2 339.5h.01M356.9 336.6h.01M350.8 338.6h.01M366.7 334.3h.01M378.4 333.8h.01M372.5 331.4h.01M374.5 335.9h.01M407.7 310.4h.01M406.1 313.5h.01M351.0 346.0h.01M359.5 345.6h.01M394.3 323.7h.01M396.7 304.8h.01M370.5 323.1h.01M364.7 340.4h.01M378.2 322.6h.01M341.0 359.9h.01M387.4 315.0h.01M360.6 323.6h.01M357.4 330.3h.01M345.5 360.5h.01M392.8 317.6h.01M357.9 335.5h.01M352.9 334.7h.01M368.1 338.9h.01M416.4 292.8h.01M340.2 350.8h.01M343.0 341.1h.01M382.7 321.2h.01M408.3 305.6h.01M401.8 302.6h.01M364.8 328.0h.01M374.1 333.3h.01M371.5 320.6h.01M365.0 322.6h.01M375.9 316.4h.01M369.4 326.3h.01M364.3 344.9h.01M362.3 329.0h.01M430.5 298.5h.01M344.3 348.9h.01M352.4 347.6h.01M384.2 334.6h.01M357.8 332.9h.01M370.2 336.0h.01M369.3 328.2h.01M365.0 328.9h.01M342.3 348.1h.01M409.2 312.5h.01M367.7 335.4h.01M370.8 334.7h.01M347.0 346.8h.01M372.0 335.7h.01M352.6 339.1h.01M395.2 320.7h.01M347.1 353.3h.01M342.4 339.5h.01M367.7 331.9h.01M365.9 343.6h.01M431.9 284.7h.01M343.5 355.8h.01M345.7 339.1h.01M416.5 304.5h.01M391.3 321.9h.01M373.4 323.3h.01M341.8 352.7h.01M421.9 307.2h.01M365.8 339.4h.01M352.4 337.0h.01M396.1 309.4h.01M421.8 304.4h.01M351.0 337.3h.01M379.1 332.0h.01M411.9 292.5h.01M347.2 349.7h.01M350.4 356.6h.01M406.6 316.4h.01M344.0 348.6h.01M371.0 333.2h.01M361.0 337.5h.01M360.9 350.4h.01M410.8 311.3h.01M363.1 331.6h.01M342.2 347.0h.01M394.5 312.1h.01M367.8 329.9h.01M383.0 329.0h.01M346.8 344.4h.01M372.1 345.0h.01M353.0 335.1h.01M361.6 334.8h.01M378.8 323.9h.01M357.9 344.2h.01M381.5 325.6h.01M364.2 334.0h.01M381.8 328.0h.01M340.7 346.7h.01M411.3 313.9h.01M369.9 332.3h.01M397.1 322.9h.01M350.4 332.5h.01M361.6 332.3h.01M362.0 334.6h.01M357.8 340.4h.01M390.3 309.5h.01M360.3 342.1h.01M348.1 340.4h.01M366.0 327.9h.01M390.9 327.6h.01M417.3 298.6h.01M359.7 332.8h.01M367.2 339.5h.01M346.2 348.8h.01M357.7 341.1h.01M387.1 324.2h.01M397.1 310.2h.01M382.1 335.0h.01M346.0 351.9h.01M346.5 346.3h.01M389.5 313.6h.01M343.8 348.4h.01M369.2 333.9h.01M349.1 343.0h.01M380.1 323.8h.01M355.5 344.6h.01M354.7 345.8h.01M367.5 334.8h.01M396.2 308.0h.01M343.8 346.8h.01M419.5 306.5h.01M366.7 347.8h.01M389.3 309.9h.01M374.9 332.9h.01M363.0 338.8h.01M420.3 299.6h.01M406.1 311.1h.01M354.0 349.1h.01M356.5 343.3h.01M429.6 297.5h.01M366.6 344.9h.01M373.7 322.0h.01M350.5 344.8h.01M404.7 312.0h.01M344.8 346.5h.01M361.9 339.1h.01M381.4 319.3h.01M342.8 342.0h.01M392.2 317.5h.01M356.0 333.4h.01M355.5 343.2h.01M384.7 316.2h.01M415.3 306.1h.01M385.8 314.7h.01M375.4 331.6h.01M349.8 340.9h.01M352.1 356.2h.01M354.0 353.5h.01M354.9 340.9h.01M361.9 341.9h.01M343.3 346.7h.01M369.9 322.8h.01M359.6 343.3h.01M355.2 337.7h.01M339.6 351.0h.01M409.2 309.7h.01M399.1 309.3h.01M395.1 324.3h.01M377.8 342.8h.01M361.0 335.8h.01M367.8 330.6h.01M396.9 303.2h.01M359.4 325.1h.01M359.4 346.9h.01M376.3 332.8h.01M342.3 350.3h.01M372.7 323.7h.01M427.3 306.2h.01M388.2 318.8h.01M428.6 297.3h.01M381.2 317.5h.01M369.6 326.5h.01M378.6 333.8h.01M366.2 326.6h.01M380.4 319.8h.01M356.9 340.5h.01M346.7 339.6h.01M421.5 304.9h.01M425.0 302.2h.01M382.5 322.6h.01M409.7 308.7h.01M396.7 313.5h.01M370.9 320.1h.01M365.1 336.9h.01M370.1 324.9h.01M360.6 342.6h.01M349.5 341.9h.01M346.1 347.9h.01M397.4 308.4h.01M349.4 339.6h.01M356.5 344.0h.01M383.2 334.7h.01M421.4 292.6h.01M372.9 326.4h.01M404.8 298.2h.01M379.2 324.8h.01M347.6 339.8h.01M377.8 321.7h.01M356.4 343.5h.01M356.8 346.2h.01M350.9 359.6h.01M383.0 329.0h.01M373.1 328.4h.01M344.5 359.7h.01M363.2 339.4h.01M360.5 328.5h.01M368.6 321.7h.01M345.1 347.9h.01M353.0 338.7h.01M404.1 304.1h.01M364.1 332.6h.01M378.7 327.2h.01M344.2 365.4h.01M361.1 331.0h.01M359.8 334.5h.01M381.5 309.0h.01M351.5 341.5h.01M353.7 332.5h.01M351.2 335.8h.01M387.1 318.6h.01M358.9 338.8h.01M353.7 347.2h.01M384.2 317.2h.01M366.5 340.5h.01M370.0 333.7h.01M375.5 325.8h.01M347.1 341.6h.01M421.6 284.9h.01M351.8 346.6h.01M353.2 341.2h.01M366.1 322.5h.01M371.9 328.0h.01M412.0 295.5h.01M375.9 324.1h.01M430.5 289.9h.01M371.7 324.4h.01M385.9 316.8h.01M351.1 349.6h.01M359.8 339.9h.01M383.1 324.7h.01M395.1 315.3h.01M409.2 313.9h.01M374.1 331.3h.01M379.0 321.9h.01M364.2 331.0h.01M351.7 342.2h.01M353.2 349.0h.01M350.1 352.2h.01M351.7 342.2h.01M432.3 288.8h.01M346.6 347.9h.01M368.4 330.5h.01M364.5 328.9h.01M355.9 349.1h.01M386.7 307.9h.01M353.6 347.5h.01M342.9 345.6h.01M400.1 306.1h.01M356.2 341.8h.01M429.9 292.2h.01M344.1 345.3h.01M428.7 299.9h.01M350.1 338.9h.01M351.8 342.3h.01M350.2 352.8h.01M344.5 341.0h.01M349.3 333.2h.01M352.8 338.5h.01M362.3 338.4h.01M369.8 331.2h.01M371.4 327.4h.01M349.8 357.0h.01M369.1 334.9h.01M344.4 340.9h.01M365.5 331.0h.01M362.0 335.9h.01M382.3 330.3h.01M363.9 327.1h.01M346.4 351.9h.01M396.3 322.6h.01M343.9 356.3h.01M363.1 336.2h.01M375.9 323.7h.01M364.0 331.0h.01M358.5 333.1h.01M357.8 327.6h.01M343.7 351.8h.01M379.2 321.2h.01M366.2 328.9h.01M357.3 332.0h.01M354.0 346.9h.01M418.9 295.5h.01M358.7 330.1h.01M360.5 337.3h.01M366.2 327.8h.01M352.2 357.4h.01M392.5 325.5h.01M359.8 348.1h.01M368.6 335.5h.01M348.9 340.3h.01M344.9 343.0h.01M339.4 338.5h.01M346.0 348.0h.01M384.4 330.2h.01M342.7 357.1h.01M360.9 334.8h.01M371.5 334.5h.01M345.6 343.8h.01M392.5 321.8h.01M378.9 332.9h.01M406.3 308.8h.01M347.9 340.2h.01M359.4 338.5h.01M369.2 336.4h.01M392.6 317.5h.01M353.0 355.2h.01M361.3 330.9h.01M358.2 341.4h.01M366.9 331.0h.01M350.3 340.1h.01M401.3 305.7h.01M374.0 345.4h.01M414.7 295.3h.01M381.7 303.4h.01M353.2 334.0h.01M374.1 327.1h.01M376.8 324.4h.01M373.9 325.3h.01M421.4 308.5h.01M368.8 341.1h.01M352.7 340.2h.01M401.7 304.6h.01M356.1 346.3h.01M341.5 358.1h.01M357.2 337.9h.01M378.2 326.6h.01M406.7 308.4h.01M339.8 342.3h.01M350.8 336.4h.01M346.5 346.4h.01M354.3 331.8h.01M342.0 343.1h.01M346.2 346.2h.01M360.8 341.5h.01M374.3 324.2h.01M373.3 327.6h.01M383.3 317.4h.01M377.3 323.1h.01M375.7 339.7h.01M368.2 338.8h.01M343.3 345.2h.01M393.8 324.8h.01M365.4 334.5h.01M400.1 306.7h.01M430.0 300.3h.01M386.2 317.8h.01M366.3 334.4h.01M343.1 338.5h.01M342.7 342.4h.01M370.8 338.1h.01M352.5 350.6h.01M361.6 330.5h.01M364.8 331.0h.01M381.8 311.9h.01M330.3 358.9h.01M384.4 332.8h.01M351.7 341.7h.01M382.8 319.1h.01M397.5 299.2h.01M313.2 372.6h.01M353.5 339.1h.01M382.6 313.1h.01M326.1 353.2h.01M390.0 327.2h.01M386.1 325.0h.01M386.1 317.9h.01M379.9 329.7h.01M397.5 322.8h.01M337.3 341.2h.01M365.4 322.4h.01M356.1 333.2h.01M382.6 335.0h.01M391.5 304.4h.01M329.2 329.0h.01M331.7 348.6h.01M365.9 334.4h.01M390.7 324.4h.01M352.0 352.6h.01M386.1 318.5h.01M338.6 362.5h.01M331.5 356.1h.01M323.3 343.2h.01M380.5 318.4h.01M314.4 357.6h.01M359.0 346.8h.01M393.1 311.5h.01M365.6 331.6h.01M350.7 348.3h.01M379.6 322.4h.01M343.2 338.1h.01M370.5 334.6h.01M332.7 347.4h.01M336.6 351.3h.01M321.6 359.1h.01M318.8 356.0h.01M358.7 313.9h.01M323.9 361.2h.01M358.0 345.3h.01M315.3 355.6h.01M461.2 266.4h.01M465.6 266.4h.01M504.3 237.4h.01" stroke="#C2C2C4" stroke-width="2.4" stroke-linecap="round" fill="none"/>
<path d="M302 374 L352 374 L357 366 L352 355 L357 345 L345 342 L320 344 L302 345.5 Z" fill="#C6C6C8"/>
<line x1="293.6" x2="293.6" y1="231" y2="380.1" stroke="#111" stroke-width="1"/>
<line x1="293.1" x2="513" y1="379.6" y2="379.6" stroke="#111" stroke-width="1"/>
<line x1="290.6" x2="293.6" y1="372.5" y2="372.5" stroke="#111" stroke-width="0.8"/>
<text x="288.20" y="374.70" font-size="6.2" text-anchor="end" fill="#222">0</text>
<line x1="303.5" x2="303.5" y1="379.6" y2="382.6" stroke="#111" stroke-width="0.8"/>
<text x="303.50" y="391.70" font-size="6.2" text-anchor="middle" fill="#222">0</text>
<line x1="290.6" x2="293.6" y1="333.9" y2="333.9" stroke="#111" stroke-width="0.8"/>
<text x="288.20" y="336.10" font-size="6.2" text-anchor="end" fill="#222">2</text>
<line x1="363.0" x2="363.0" y1="379.6" y2="382.6" stroke="#111" stroke-width="0.8"/>
<text x="363.00" y="391.70" font-size="6.2" text-anchor="middle" fill="#222">2</text>
<line x1="290.6" x2="293.6" y1="295.3" y2="295.3" stroke="#111" stroke-width="0.8"/>
<text x="288.20" y="297.50" font-size="6.2" text-anchor="end" fill="#222">4</text>
<line x1="422.5" x2="422.5" y1="379.6" y2="382.6" stroke="#111" stroke-width="0.8"/>
<text x="422.50" y="391.70" font-size="6.2" text-anchor="middle" fill="#222">4</text>
<line x1="290.6" x2="293.6" y1="256.7" y2="256.7" stroke="#111" stroke-width="0.8"/>
<text x="288.20" y="258.90" font-size="6.2" text-anchor="end" fill="#222">6</text>
<line x1="482.0" x2="482.0" y1="379.6" y2="382.6" stroke="#111" stroke-width="0.8"/>
<text x="482.00" y="391.70" font-size="6.2" text-anchor="middle" fill="#222">6</text>
<text x="402.90" y="403.20" font-size="8.0" text-anchor="middle" fill="#1a1a1a" font-weight="bold" textLength="89.5" lengthAdjust="spacingAndGlyphs">Average CMV-negative expression</text>
<text x="279.40" y="304.90" font-size="8.0" text-anchor="middle" fill="#1a1a1a" font-weight="bold" transform="rotate(-90 279.4 304.9)" textLength="88.6" lengthAdjust="spacingAndGlyphs">Average CMV-positive expression</text>
<text x="403.50" y="225.50" font-size="8.8" text-anchor="middle" fill="#111">Cluster A CD56<tspan dy="-3.4" font-size="6">dim</tspan></text>
<line x1="329" y1="309.5" x2="335.5" y2="320.1" stroke="#222" stroke-width="0.5"/>
<line x1="342.5" y1="317.5" x2="340.8" y2="321.6" stroke="#222" stroke-width="0.5"/>
<line x1="367.5" y1="316" x2="346.7" y2="323.7" stroke="#222" stroke-width="0.5"/>
<line x1="353.5" y1="325" x2="338.2" y2="329.6" stroke="#222" stroke-width="0.5"/>
<line x1="307" y1="318.5" x2="312.2" y2="327.5" stroke="#222" stroke-width="0.5"/>
<line x1="303.5" y1="328.5" x2="308" y2="340.6" stroke="#222" stroke-width="0.5"/>
<line x1="335" y1="335" x2="310" y2="346.5" stroke="#222" stroke-width="0.5"/>
<line x1="318" y1="336.5" x2="315.4" y2="340.6" stroke="#222" stroke-width="0.5"/>
<line x1="300.5" y1="338" x2="304.8" y2="346.1" stroke="#222" stroke-width="0.5"/>
<line x1="313" y1="357" x2="307" y2="347.6" stroke="#222" stroke-width="0.5"/>
<line x1="336" y1="354" x2="308.6" y2="348.2" stroke="#222" stroke-width="0.5"/>
<line x1="345" y1="362.5" x2="344.6" y2="369.8" stroke="#222" stroke-width="0.5"/>
<line x1="331.5" y1="364.5" x2="344.6" y2="369.8" stroke="#222" stroke-width="0.5"/>
<line x1="353" y1="366.5" x2="353.5" y2="372" stroke="#222" stroke-width="0.5"/>
<line x1="368" y1="364" x2="360.9" y2="369.8" stroke="#222" stroke-width="0.5"/>
<line x1="331.5" y1="374.8" x2="335.5" y2="372" stroke="#222" stroke-width="0.5"/>
<line x1="359" y1="346.5" x2="360.9" y2="357" stroke="#222" stroke-width="0.5"/>
<line x1="375" y1="337" x2="367.2" y2="351.2" stroke="#222" stroke-width="0.5"/>
<line x1="376" y1="350.5" x2="374.2" y2="356" stroke="#222" stroke-width="0.5"/>
<line x1="392.5" y1="338.5" x2="381.5" y2="344.4" stroke="#222" stroke-width="0.5"/>
<line x1="388" y1="358" x2="364" y2="361.8" stroke="#222" stroke-width="0.5"/>
<line x1="402" y1="368" x2="382.1" y2="365.2" stroke="#222" stroke-width="0.5"/>
<line x1="380" y1="374" x2="372.3" y2="371.5" stroke="#222" stroke-width="0.5"/>
<line x1="421" y1="316" x2="419" y2="319.6" stroke="#222" stroke-width="0.5"/>
<circle cx="375.7" cy="303.8" r="1.2" fill="#B0102D"/>
<text x="373.00" y="305.20" font-size="6.1" text-anchor="end" fill="#1a1a1a" font-style="italic">GAPDH</text>
<circle cx="335.5" cy="320.1" r="1.2" fill="#B0102D"/>
<text x="326.50" y="308.30" font-size="6.1" text-anchor="middle" fill="#1a1a1a" font-style="italic">ISG15</text>
<circle cx="340.8" cy="321.6" r="1.2" fill="#B0102D"/>
<text x="346.20" y="316.40" font-size="6.1" text-anchor="middle" fill="#1a1a1a" font-style="italic">ENO1</text>
<circle cx="336.1" cy="322.6" r="1.2" fill="#B0102D"/>
<text x="331.30" y="325.30" font-size="6.1" text-anchor="end" fill="#1a1a1a" font-style="italic">IFITM1</text>
<circle cx="346.7" cy="323.7" r="1.2" fill="#B0102D"/>
<text x="374.30" y="317.20" font-size="6.1" text-anchor="middle" fill="#1a1a1a" font-style="italic">IL32</text>
<circle cx="338.2" cy="329.6" r="1.2" fill="#B0102D"/>
<text x="360.30" y="326.30" font-size="6.1" text-anchor="middle" fill="#1a1a1a" font-style="italic">MT2A</text>
<circle cx="312.2" cy="327.5" r="1.2" fill="#B0102D"/>
<text x="306.00" y="317.20" font-size="6.1" text-anchor="middle" fill="#1a1a1a" font-style="italic">IFI6</text>
<circle cx="308" cy="340.6" r="1.2" fill="#B0102D"/>
<text x="302.70" y="327.40" font-size="6.1" text-anchor="middle" fill="#1a1a1a" font-style="italic">MX1</text>
<circle cx="310" cy="346.5" r="1.2" fill="#B0102D"/>
<text x="347.70" y="335.40" font-size="6.1" text-anchor="middle" fill="#1a1a1a" font-style="italic">LINC00623</text>
<circle cx="315.4" cy="340.6" r="1.2" fill="#B0102D"/>
<text x="320.00" y="335.40" font-size="6.1" text-anchor="middle" fill="#1a1a1a" font-style="italic">IFIT1</text>
<circle cx="304.8" cy="346.1" r="1.2" fill="#B0102D"/>
<text x="300.00" y="336.90" font-size="6.1" text-anchor="middle" fill="#1a1a1a" font-style="italic">IFIT3</text>
<circle cx="311.2" cy="346.5" r="1.2" fill="#B0102D"/>
<text x="326.80" y="347.50" font-size="6.1" text-anchor="middle" fill="#1a1a1a" font-style="italic">FAM118A</text>
<circle cx="305.2" cy="350.3" r="1.2" fill="#B0102D"/>
<text x="302.70" y="359.10" font-size="6.1" text-anchor="middle" fill="#1a1a1a" font-style="italic">IFI44L</text>
<circle cx="307" cy="347.6" r="1.2" fill="#B0102D"/>
<text x="319.30" y="359.50" font-size="6.1" text-anchor="middle" fill="#1a1a1a" font-style="italic">OASL</text>
<circle cx="308.6" cy="348.2" r="1.2" fill="#B0102D"/>
<text x="341.30" y="356.00" font-size="6.1" text-anchor="middle" fill="#1a1a1a" font-style="italic">MX2</text>
<circle cx="344.6" cy="369.8" r="1.2" fill="#B0102D"/>
<text x="347.00" y="361.20" font-size="6.1" text-anchor="middle" fill="#1a1a1a" font-style="italic">KLF2</text>
<circle cx="344.6" cy="369.8" r="1.2" fill="#B0102D"/>
<text x="321.80" y="365.90" font-size="6.1" text-anchor="middle" fill="#1a1a1a" font-style="italic">PTGDS</text>
<circle cx="353.5" cy="372" r="1.2" fill="#B0102D"/>
<text x="355.20" y="365.50" font-size="6.1" text-anchor="middle" fill="#1a1a1a" font-style="italic">NACA2</text>
<circle cx="360.9" cy="369.8" r="1.2" fill="#B0102D"/>
<text x="375.60" y="364.40" font-size="6.1" text-anchor="middle" fill="#1a1a1a" font-style="italic">NHSL2</text>
<circle cx="335.5" cy="372" r="1.2" fill="#B0102D"/>
<text x="319.20" y="376.00" font-size="6.1" text-anchor="middle" fill="#1a1a1a" font-style="italic">POLR2J3</text>
<circle cx="344.6" cy="369.8" r="1.2" fill="#B0102D"/>
<text x="348.60" y="376.50" font-size="6.1" text-anchor="middle" fill="#1a1a1a" font-style="italic">HNRNPA1L2</text>
<circle cx="360.9" cy="357" r="1.2" fill="#B0102D"/>
<text x="356.10" y="345.40" font-size="6.1" text-anchor="middle" fill="#1a1a1a" font-style="italic">NFKBIA</text>
<circle cx="367.2" cy="351.2" r="1.2" fill="#B0102D"/>
<text x="379.90" y="335.80" font-size="6.1" text-anchor="middle" fill="#1a1a1a" font-style="italic">CCL3</text>
<circle cx="374.2" cy="356" r="1.2" fill="#B0102D"/>
<text x="379.30" y="349.60" font-size="6.1" text-anchor="middle" fill="#1a1a1a" font-style="italic">SPON2</text>
<circle cx="382" cy="344.4" r="1.2" fill="#B0102D"/>
<text x="396.30" y="349.60" font-size="6.1" text-anchor="middle" fill="#1a1a1a" font-style="italic">VIM</text>
<circle cx="381.5" cy="344.4" r="1.2" fill="#B0102D"/>
<text x="400.00" y="339.50" font-size="6.1" text-anchor="middle" fill="#1a1a1a" font-style="italic">CTSW</text>
<circle cx="364" cy="361.8" r="1.2" fill="#B0102D"/>
<text x="395.10" y="359.40" font-size="6.1" text-anchor="middle" fill="#1a1a1a" font-style="italic">SBDS</text>
<circle cx="382.1" cy="365.2" r="1.2" fill="#B0102D"/>
<text x="413.20" y="370.00" font-size="6.1" text-anchor="middle" fill="#1a1a1a" font-style="italic">NBEAL1</text>
<circle cx="372.3" cy="371.5" r="1.2" fill="#B0102D"/>
<text x="389.00" y="376.40" font-size="6.1" text-anchor="middle" fill="#1a1a1a" font-style="italic">ZNF90</text>
<circle cx="419" cy="319.6" r="1.2" fill="#B0102D"/>
<text x="426.80" y="315.80" font-size="6.1" text-anchor="middle" fill="#1a1a1a" font-style="italic">ACTB</text>
<circle cx="344.6" cy="369.8" r="1.7" fill="#B0102D"/>
<text x="76.8" y="480.7" font-size="6.8" fill="#111" textLength="88.2" lengthAdjust="spacingAndGlyphs">CD56<tspan dy="-2.7" font-size="4.6">dim</tspan><tspan dy="2.7">CD16</tspan><tspan dy="-2.7" font-size="4.6">+</tspan><tspan dy="2.7">CD57</tspan><tspan dy="-2.7" font-size="4.6">-</tspan><tspan dy="2.7"> NK cells</tspan></text>
<text x="260.0" y="480.7" font-size="6.8" fill="#111" textLength="87.0" lengthAdjust="spacingAndGlyphs">CD56<tspan dy="-2.7" font-size="4.6">dim</tspan><tspan dy="2.7">CD16</tspan><tspan dy="-2.7" font-size="4.6">+</tspan><tspan dy="2.7">CD57</tspan><tspan dy="-2.7" font-size="4.6">+</tspan><tspan dy="2.7"> NK cell</tspan></text>
<text x="400.0" y="481" font-size="6.8" fill="#111" textLength="53.0" lengthAdjust="spacingAndGlyphs">CD56<tspan dy="-2.7" font-size="4.6">bright</tspan><tspan dy="2.7"> NK cells</tspan></text>
<text x="26.3" y="604.5" font-size="6.8" fill="#111" textLength="86.7" lengthAdjust="spacingAndGlyphs">Type 1 IFN responding NK cell</text>
<text x="160.0" y="604.5" font-size="6.8" fill="#111" textLength="39.5" lengthAdjust="spacingAndGlyphs">CIML NK cell</text>
<text x="245.8" y="604.3" font-size="6.8" fill="#111" textLength="115.2" lengthAdjust="spacingAndGlyphs">Population with low ribosomal expression</text>
<text x="398.3" y="604.5" font-size="6.8" fill="#111" textLength="50.4" lengthAdjust="spacingAndGlyphs">Adaptive NK cells</text>
<circle cx="74.5" cy="540.8" r="26" fill="#D0E4E7" stroke="#A9CDD4" stroke-width="0.7"/>
<circle cx="77" cy="527.6" r="7.8" fill="none" stroke="#DCEDF0" stroke-width="0.9"/>
<circle cx="77" cy="527.6" r="6.8" fill="#9CC7CA" stroke="#7FB0AA" stroke-width="0.7"/>
<text x="44.50" y="501.20" font-size="4.7" text-anchor="middle" fill="#111">Chemokines</text>
<text x="73.00" y="496.30" font-size="4.7" text-anchor="middle" fill="#111">PRF1</text>
<text x="97.30" y="503.70" font-size="4.7" text-anchor="middle" fill="#111">Granzymes</text>
<circle cx="44.6" cy="505.4" r="1.5" fill="#5E2C8C"/>
<circle cx="49.5" cy="506.2" r="1.5" fill="#5E2C8C"/>
<circle cx="54.6" cy="507.2" r="1.5" fill="#5E2C8C"/>
<circle cx="40.8" cy="509.2" r="1.5" fill="#5E2C8C"/>
<circle cx="45.4" cy="512.6" r="1.5" fill="#5E2C8C"/>
<circle cx="50.0" cy="511.5" r="1.5" fill="#5E2C8C"/>
<circle cx="54.6" cy="512.3" r="1.5" fill="#5E2C8C"/>
<circle cx="40.8" cy="514.6" r="1.5" fill="#5E2C8C"/>
<circle cx="45.4" cy="517.7" r="1.5" fill="#5E2C8C"/>
<circle cx="50.5" cy="516.9" r="1.5" fill="#5E2C8C"/>
<circle cx="56.9" cy="516.2" r="1.5" fill="#5E2C8C"/>
<circle cx="50.8" cy="522.3" r="1.5" fill="#5E2C8C"/>
<circle cx="69.7" cy="501.0" r="1.5" fill="#5E2C8C"/>
<circle cx="76.2" cy="500.0" r="1.5" fill="#5E2C8C"/>
<circle cx="74.6" cy="504.6" r="1.5" fill="#5E2C8C"/>
<circle cx="79.2" cy="503.5" r="1.5" fill="#5E2C8C"/>
<circle cx="70.8" cy="506.6" r="1.5" fill="#5E2C8C"/>
<circle cx="78.0" cy="507.7" r="1.5" fill="#5E2C8C"/>
<circle cx="73.8" cy="510.8" r="1.5" fill="#5E2C8C"/>
<circle cx="93.4" cy="508.2" r="1.5" fill="#A5571C"/>
<circle cx="98.5" cy="506.9" r="1.5" fill="#A5571C"/>
<circle cx="97.4" cy="511.2" r="1.5" fill="#A5571C"/>
<circle cx="102.0" cy="511.5" r="1.5" fill="#A5571C"/>
<circle cx="93.4" cy="513.0" r="1.5" fill="#A5571C"/>
<circle cx="97.7" cy="514.9" r="1.5" fill="#A5571C"/>
<circle cx="102.3" cy="517.4" r="1.5" fill="#A5571C"/>
<circle cx="94.6" cy="517.7" r="1.5" fill="#A5571C"/>
<circle cx="97.7" cy="519.5" r="1.5" fill="#A5571C"/>
<circle cx="102.3" cy="522.3" r="1.5" fill="#A5571C"/>
<line x1="47.0" y1="536.0" x2="49.5" y2="536.0" stroke="#C4123A" stroke-width="0.45"/>
<line x1="47.0" y1="538.5" x2="49.5" y2="538.5" stroke="#C4123A" stroke-width="0.45"/>
<g transform="translate(41.4 538) rotate(0)">
<rect x="-5.75" y="-3.25" width="11.5" height="6.5" rx="1.5" fill="#C4123A"/>
<circle cx="-4.2" cy="-1.6" r="0.8" fill="#fff"/>
<circle cx="-3.2" cy="1.1" r="0.8" fill="#fff"/>
<circle cx="-1.6" cy="-1.6" r="0.8" fill="#fff"/>
<circle cx="-0.6" cy="1.1" r="0.8" fill="#fff"/>
<circle cx="1.0" cy="-1.6" r="0.8" fill="#fff"/>
<circle cx="2.0" cy="1.1" r="0.8" fill="#fff"/>
<circle cx="3.7" cy="-1.6" r="0.8" fill="#fff"/>
<circle cx="4.7" cy="1.1" r="0.8" fill="#fff"/>
</g>
<text x="30.00" y="537.80" font-size="4.7" text-anchor="middle" fill="#111">CD2</text>
<g transform="translate(104 539) rotate(0)">
<line x1="-6" y1="-1.6" x2="0" y2="-1.6" stroke="#D01030" stroke-width="0.7"/><line x1="-6" y1="1.6" x2="0" y2="1.6" stroke="#D01030" stroke-width="0.7"/>
<ellipse cx="1.6" cy="-1.6" rx="2.4" ry="1.6" fill="#D01030"/><ellipse cx="1.6" cy="1.6" rx="2.4" ry="1.6" fill="#D01030"/>
</g>
<text x="110.40" y="541.00" font-size="4.7" text-anchor="start" fill="#111">CD18</text>
<line x1="91.7" y1="555.2" x2="95.7" y2="558.7" stroke="#555" stroke-width="0.45"/>
<line x1="90.3" y1="556.8" x2="94.3" y2="560.3" stroke="#555" stroke-width="0.45"/>
<g transform="translate(100 558.5) rotate(-40)">
<circle cx="-1.3" cy="-2.6" r="1.5" fill="#4A78C0" stroke="#fff" stroke-width="0.25"/>
<circle cx="-1.3" cy="0.0" r="1.5" fill="#4A78C0" stroke="#fff" stroke-width="0.25"/>
<circle cx="-1.3" cy="2.6" r="1.5" fill="#4A78C0" stroke="#fff" stroke-width="0.25"/>
<circle cx="1.3" cy="-2.6" r="1.5" fill="#4A78C0" stroke="#fff" stroke-width="0.25"/>
<circle cx="1.3" cy="0.0" r="1.5" fill="#4A78C0" stroke="#fff" stroke-width="0.25"/>
<circle cx="1.3" cy="2.6" r="1.5" fill="#4A78C0" stroke="#fff" stroke-width="0.25"/>
</g>
<text x="103.70" y="563.10" font-size="4.7" text-anchor="start" fill="#111">CD16</text>
<ellipse cx="45" cy="561" rx="2.6" ry="1.7" fill="#7BB648" stroke="#5A9A30" stroke-width="0.3" transform="rotate(-20 45 561)"/>
<ellipse cx="50.3" cy="557.5" rx="2.6" ry="1.7" fill="#7BB648" stroke="#5A9A30" stroke-width="0.3" transform="rotate(-20 50.3 557.5)"/>
<line x1="53" y1="556" x2="55" y2="554.5" stroke="#8AC050" stroke-width="0.7"/>
<text x="34.40" y="566.80" font-size="4.7" text-anchor="middle" fill="#111">4-1BB</text>
<line x1="64.3" y1="564.8" x2="63.1" y2="567.2" stroke="#555" stroke-width="0.45"/>
<line x1="62.0" y1="563.6" x2="60.8" y2="566.0" stroke="#555" stroke-width="0.45"/>
<line x1="59.7" y1="562.4" x2="58.5" y2="564.8" stroke="#555" stroke-width="0.45"/>
<g transform="translate(62.8 571.2) rotate(20)">
<circle cx="-2.7" cy="-4.1" r="1.45" fill="#7E4AA0" stroke="#fff" stroke-width="0.25"/>
<circle cx="-2.7" cy="-1.4" r="1.45" fill="#7E4AA0" stroke="#fff" stroke-width="0.25"/>
<circle cx="-2.7" cy="1.4" r="1.45" fill="#7E4AA0" stroke="#fff" stroke-width="0.25"/>
<circle cx="-2.7" cy="4.1" r="1.45" fill="#7E4AA0" stroke="#fff" stroke-width="0.25"/>
<circle cx="0.0" cy="-4.1" r="1.45" fill="#7E4AA0" stroke="#fff" stroke-width="0.25"/>
<circle cx="0.0" cy="-1.4" r="1.45" fill="#7E4AA0" stroke="#fff" stroke-width="0.25"/>
<circle cx="0.0" cy="1.4" r="1.45" fill="#7E4AA0" stroke="#fff" stroke-width="0.25"/>
<circle cx="0.0" cy="4.1" r="1.45" fill="#7E4AA0" stroke="#fff" stroke-width="0.25"/>
<circle cx="2.7" cy="-4.1" r="1.45" fill="#7E4AA0" stroke="#fff" stroke-width="0.25"/>
<circle cx="2.7" cy="-1.4" r="1.45" fill="#7E4AA0" stroke="#fff" stroke-width="0.25"/>
<circle cx="2.7" cy="1.4" r="1.45" fill="#7E4AA0" stroke="#fff" stroke-width="0.25"/>
<circle cx="2.7" cy="4.1" r="1.45" fill="#7E4AA0" stroke="#fff" stroke-width="0.25"/>
</g>
<text x="59.20" y="582.40" font-size="3.8" text-anchor="middle" fill="#111">KIR</text>
<rect x="82.1" y="563.1" width="2.8" height="9" rx="1.2" fill="#2E5E3A" transform="rotate(-25 83.5 567.6)"/>
<text x="91.00" y="577.60" font-size="4.7" text-anchor="middle" fill="#111">CD56</text>
<circle cx="176" cy="540.7" r="26" fill="#D0E4E7" stroke="#A9CDD4" stroke-width="0.7"/>
<circle cx="179" cy="527.4" r="7.8" fill="none" stroke="#DCEDF0" stroke-width="0.9"/>
<circle cx="179" cy="527.4" r="6.8" fill="#9CC7CA" stroke="#7FB0AA" stroke-width="0.7"/>
<text x="150.00" y="503.50" font-size="4.7" text-anchor="middle" fill="#111">Chemokines</text>
<text x="174.80" y="498.30" font-size="4.7" text-anchor="middle" fill="#111">PRF1</text>
<text x="200.70" y="504.00" font-size="4.7" text-anchor="middle" fill="#111">Granzymes</text>
<circle cx="146.2" cy="508.5" r="1.5" fill="#5E2C8C"/>
<circle cx="151.1" cy="508.9" r="1.5" fill="#5E2C8C"/>
<circle cx="155.0" cy="508.2" r="1.5" fill="#5E2C8C"/>
<circle cx="158.8" cy="508.3" r="1.5" fill="#5E2C8C"/>
<circle cx="147.1" cy="512.8" r="1.5" fill="#5E2C8C"/>
<circle cx="151.3" cy="511.7" r="1.5" fill="#5E2C8C"/>
<circle cx="155.8" cy="511.7" r="1.5" fill="#5E2C8C"/>
<circle cx="160.5" cy="511.7" r="1.5" fill="#5E2C8C"/>
<circle cx="145.8" cy="516.4" r="1.5" fill="#5E2C8C"/>
<circle cx="150.0" cy="516.1" r="1.5" fill="#5E2C8C"/>
<circle cx="173.2" cy="501.0" r="1.5" fill="#5E2C8C"/>
<circle cx="179.8" cy="500.2" r="1.5" fill="#5E2C8C"/>
<circle cx="176.5" cy="504.0" r="1.5" fill="#5E2C8C"/>
<circle cx="181.0" cy="506.3" r="1.5" fill="#5E2C8C"/>
<circle cx="174.5" cy="508.0" r="1.5" fill="#5E2C8C"/>
<circle cx="179.3" cy="510.2" r="1.5" fill="#5E2C8C"/>
<circle cx="196.3" cy="509.2" r="1.5" fill="#A5571C"/>
<circle cx="200.7" cy="508.9" r="1.5" fill="#A5571C"/>
<circle cx="203.9" cy="508.2" r="1.5" fill="#A5571C"/>
<circle cx="197.0" cy="512.9" r="1.5" fill="#A5571C"/>
<circle cx="201.6" cy="513.1" r="1.5" fill="#A5571C"/>
<circle cx="206.0" cy="513.0" r="1.5" fill="#A5571C"/>
<circle cx="196.7" cy="517.1" r="1.5" fill="#A5571C"/>
<circle cx="200.8" cy="517.3" r="1.5" fill="#A5571C"/>
<circle cx="204.9" cy="517.9" r="1.5" fill="#A5571C"/>
<path d="M137.5 535.3 h14" stroke="#C4123A" stroke-width="0.8"/>
<circle cx="139.5" cy="536.8" r="1.2" fill="#fff" stroke="#C4123A" stroke-width="0.4"/>
<circle cx="142.8" cy="536.8" r="1.2" fill="#fff" stroke="#C4123A" stroke-width="0.4"/>
<circle cx="146.1" cy="536.8" r="1.2" fill="#fff" stroke="#C4123A" stroke-width="0.4"/>
<circle cx="149.4" cy="536.8" r="1.2" fill="#fff" stroke="#C4123A" stroke-width="0.4"/>
<text x="130.80" y="537.00" font-size="4.7" text-anchor="middle" fill="#111">CD2</text>
<line x1="201.5" y1="538.8" x2="205" y2="538.8" stroke="#C4123A" stroke-width="0.8"/>
<ellipse cx="207" cy="538.8" rx="2.6" ry="1.7" fill="#C4123A"/>
<text x="213.50" y="541.00" font-size="4.7" text-anchor="start" fill="#111">CD18</text>
<ellipse cx="142" cy="560" rx="2.6" ry="1.7" fill="#7BB648" stroke="#5A9A30" stroke-width="0.3" transform="rotate(-30 142 560)"/>
<ellipse cx="146" cy="555.5" rx="2.6" ry="1.7" fill="#7BB648" stroke="#5A9A30" stroke-width="0.3" transform="rotate(-30 146 555.5)"/>
<ellipse cx="150.5" cy="557" rx="2.6" ry="1.7" fill="#7BB648" stroke="#5A9A30" stroke-width="0.3" transform="rotate(-30 150.5 557)"/>
<ellipse cx="144.5" cy="551.5" rx="2.6" ry="1.7" fill="#7BB648" stroke="#5A9A30" stroke-width="0.3" transform="rotate(-30 144.5 551.5)"/>
<line x1="152" y1="553" x2="155" y2="551.5" stroke="#8AC050" stroke-width="0.6"/><line x1="154" y1="556.5" x2="157" y2="555.5" stroke="#8AC050" stroke-width="0.6"/>
<text x="135.00" y="562.60" font-size="4.7" text-anchor="middle" fill="#111">4-1BB</text>
<g transform="translate(161.3 571.4) rotate(20)">
<circle cx="-1.3" cy="-3.9" r="1.45" fill="#7E4AA0" stroke="#fff" stroke-width="0.25"/>
<circle cx="-1.3" cy="-1.3" r="1.45" fill="#7E4AA0" stroke="#fff" stroke-width="0.25"/>
<circle cx="-1.3" cy="1.3" r="1.45" fill="#7E4AA0" stroke="#fff" stroke-width="0.25"/>
<circle cx="-1.3" cy="3.9" r="1.45" fill="#7E4AA0" stroke="#fff" stroke-width="0.25"/>
<circle cx="1.3" cy="-3.9" r="1.45" fill="#7E4AA0" stroke="#fff" stroke-width="0.25"/>
<circle cx="1.3" cy="-1.3" r="1.45" fill="#7E4AA0" stroke="#fff" stroke-width="0.25"/>
<circle cx="1.3" cy="1.3" r="1.45" fill="#7E4AA0" stroke="#fff" stroke-width="0.25"/>
<circle cx="1.3" cy="3.9" r="1.45" fill="#7E4AA0" stroke="#fff" stroke-width="0.25"/>
</g>
<line x1="165.1" y1="564.0" x2="166.1" y2="566.0" stroke="#555" stroke-width="0.45"/>
<line x1="162.9" y1="565.0" x2="163.9" y2="567.0" stroke="#555" stroke-width="0.45"/>
<text x="156.50" y="579.60" font-size="3.2" text-anchor="middle" fill="#111">KIR</text>
<rect x="184.1" y="562.9" width="2.8" height="9" rx="1.2" fill="#2E5E3A" transform="rotate(-15 185.5 567.4)"/>
<text x="193.00" y="576.70" font-size="4.7" text-anchor="middle" fill="#111">CD56</text>
<g transform="translate(202.2 558) rotate(-40)">
<circle cx="-1.2" cy="-2.4" r="1.35" fill="#4A78C0" stroke="#fff" stroke-width="0.25"/>
<circle cx="-1.2" cy="0.0" r="1.35" fill="#4A78C0" stroke="#fff" stroke-width="0.25"/>
<circle cx="-1.2" cy="2.4" r="1.35" fill="#4A78C0" stroke="#fff" stroke-width="0.25"/>
<circle cx="1.2" cy="-2.4" r="1.35" fill="#4A78C0" stroke="#fff" stroke-width="0.25"/>
<circle cx="1.2" cy="0.0" r="1.35" fill="#4A78C0" stroke="#fff" stroke-width="0.25"/>
<circle cx="1.2" cy="2.4" r="1.35" fill="#4A78C0" stroke="#fff" stroke-width="0.25"/>
</g>
<line x1="197.1" y1="553.7" x2="199.1" y2="555.2" stroke="#555" stroke-width="0.45"/>
<line x1="195.9" y1="555.3" x2="197.9" y2="556.8" stroke="#555" stroke-width="0.45"/>
<text x="206.00" y="562.50" font-size="4.7" text-anchor="start" fill="#111">CD16</text>
<circle cx="303.7" cy="541" r="26" fill="#D0E4E7" stroke="#A9CDD4" stroke-width="0.7"/>
<circle cx="306.5" cy="527.9" r="7.5" fill="none" stroke="#DCEDF0" stroke-width="0.9"/>
<circle cx="306.5" cy="527.9" r="6.5" fill="#9CC7CA" stroke="#7FB0AA" stroke-width="0.7"/>
<text x="274.00" y="505.00" font-size="4.7" text-anchor="middle" fill="#111">Chemokines</text>
<text x="299.00" y="495.20" font-size="4.7" text-anchor="middle" fill="#111">PRF1</text>
<text x="328.20" y="504.40" font-size="4.7" text-anchor="middle" fill="#111">Granzymes</text>
<circle cx="270.1" cy="508.9" r="1.5" fill="#5E2C8C"/>
<circle cx="275.1" cy="509.4" r="1.5" fill="#5E2C8C"/>
<circle cx="278.7" cy="509.9" r="1.5" fill="#5E2C8C"/>
<circle cx="283.6" cy="509.1" r="1.5" fill="#5E2C8C"/>
<circle cx="270.9" cy="513.1" r="1.5" fill="#5E2C8C"/>
<circle cx="276.1" cy="513.4" r="1.5" fill="#5E2C8C"/>
<circle cx="280.1" cy="514.0" r="1.5" fill="#5E2C8C"/>
<circle cx="285.4" cy="513.9" r="1.5" fill="#5E2C8C"/>
<circle cx="270.0" cy="517.6" r="1.5" fill="#5E2C8C"/>
<circle cx="274.0" cy="517.8" r="1.5" fill="#5E2C8C"/>
<circle cx="297.6" cy="499.6" r="1.5" fill="#5E2C8C"/>
<circle cx="301.5" cy="499.4" r="1.5" fill="#5E2C8C"/>
<circle cx="305.3" cy="500.0" r="1.5" fill="#5E2C8C"/>
<circle cx="297.8" cy="505.1" r="1.5" fill="#5E2C8C"/>
<circle cx="301.6" cy="504.4" r="1.5" fill="#5E2C8C"/>
<circle cx="305.8" cy="504.5" r="1.5" fill="#5E2C8C"/>
<circle cx="296.8" cy="509.6" r="1.5" fill="#5E2C8C"/>
<circle cx="301.2" cy="510.0" r="1.5" fill="#5E2C8C"/>
<circle cx="304.4" cy="509.8" r="1.5" fill="#5E2C8C"/>
<circle cx="320.5" cy="508.7" r="1.5" fill="#A5571C"/>
<circle cx="325.6" cy="509.4" r="1.5" fill="#A5571C"/>
<circle cx="330.8" cy="508.9" r="1.5" fill="#A5571C"/>
<circle cx="336.3" cy="508.8" r="1.5" fill="#A5571C"/>
<circle cx="321.9" cy="513.4" r="1.5" fill="#A5571C"/>
<circle cx="327.3" cy="513.1" r="1.5" fill="#A5571C"/>
<circle cx="332.4" cy="513.0" r="1.5" fill="#A5571C"/>
<circle cx="337.8" cy="513.7" r="1.5" fill="#A5571C"/>
<circle cx="320.7" cy="516.9" r="1.5" fill="#A5571C"/>
<circle cx="325.6" cy="517.2" r="1.5" fill="#A5571C"/>
<circle cx="330.5" cy="517.4" r="1.5" fill="#A5571C"/>
<circle cx="336.5" cy="517.2" r="1.5" fill="#A5571C"/>
<circle cx="322.3" cy="520.7" r="1.5" fill="#A5571C"/>
<path d="M265 535.5 h14" stroke="#C4123A" stroke-width="0.8"/>
<circle cx="266.5" cy="536.8" r="1.2" fill="#fff" stroke="#C4123A" stroke-width="0.4"/>
<circle cx="269.6" cy="536.8" r="1.2" fill="#fff" stroke="#C4123A" stroke-width="0.4"/>
<circle cx="272.7" cy="536.8" r="1.2" fill="#fff" stroke="#C4123A" stroke-width="0.4"/>
<circle cx="275.8" cy="536.8" r="1.2" fill="#fff" stroke="#C4123A" stroke-width="0.4"/>
<text x="258.40" y="536.10" font-size="4.7" text-anchor="middle" fill="#111">CD2</text>
<path d="M267.7 553.5 L280.5 549.5 L280 552.7 Z M267.7 553.5 L280 552.7 L279.5 556 Z" fill="#EDE03A" stroke="#A09020" stroke-width="0.3"/>
<text x="259.00" y="556.80" font-size="4.7" text-anchor="middle" fill="#111">FCRL6</text>
<g transform="translate(285.3 568.5) rotate(45)">
<circle cx="-4.5" cy="-4.5" r="1.65" fill="#7E4AA0" stroke="#fff" stroke-width="0.25"/>
<circle cx="-4.5" cy="-1.5" r="1.65" fill="#7E4AA0" stroke="#fff" stroke-width="0.25"/>
<circle cx="-4.5" cy="1.5" r="1.65" fill="#7E4AA0" stroke="#fff" stroke-width="0.25"/>
<circle cx="-4.5" cy="4.5" r="1.65" fill="#7E4AA0" stroke="#fff" stroke-width="0.25"/>
<circle cx="-1.5" cy="-4.5" r="1.65" fill="#7E4AA0" stroke="#fff" stroke-width="0.25"/>
<circle cx="-1.5" cy="-1.5" r="1.65" fill="#7E4AA0" stroke="#fff" stroke-width="0.25"/>
<circle cx="-1.5" cy="1.5" r="1.65" fill="#7E4AA0" stroke="#fff" stroke-width="0.25"/>
<circle cx="-1.5" cy="4.5" r="1.65" fill="#7E4AA0" stroke="#fff" stroke-width="0.25"/>
<circle cx="1.5" cy="-4.5" r="1.65" fill="#7E4AA0" stroke="#fff" stroke-width="0.25"/>
<circle cx="1.5" cy="-1.5" r="1.65" fill="#7E4AA0" stroke="#fff" stroke-width="0.25"/>
<circle cx="1.5" cy="1.5" r="1.65" fill="#7E4AA0" stroke="#fff" stroke-width="0.25"/>
<circle cx="1.5" cy="4.5" r="1.65" fill="#7E4AA0" stroke="#fff" stroke-width="0.25"/>
<circle cx="4.5" cy="-4.5" r="1.65" fill="#7E4AA0" stroke="#fff" stroke-width="0.25"/>
<circle cx="4.5" cy="-1.5" r="1.65" fill="#7E4AA0" stroke="#fff" stroke-width="0.25"/>
<circle cx="4.5" cy="1.5" r="1.65" fill="#7E4AA0" stroke="#fff" stroke-width="0.25"/>
<circle cx="4.5" cy="4.5" r="1.65" fill="#7E4AA0" stroke="#fff" stroke-width="0.25"/>
</g>
<line x1="291.1" y1="561.3" x2="289.6" y2="563.8" stroke="#555" stroke-width="0.45"/>
<line x1="289.0" y1="560.0" x2="287.5" y2="562.5" stroke="#555" stroke-width="0.45"/>
<line x1="286.9" y1="558.7" x2="285.4" y2="561.2" stroke="#555" stroke-width="0.45"/>
<text x="279.20" y="577.30" font-size="4.7" text-anchor="middle" fill="#111">KIR</text>
<rect x="302.40000000000003" y="563.2" width="2.8" height="10" rx="1.2" fill="#2E5E3A" transform="rotate(0 303.8 568.2)"/>
<text x="304.00" y="579.70" font-size="4.7" text-anchor="middle" fill="#111">CD56</text>
<g transform="translate(320.5 568.2) rotate(-50)">
<circle cx="-1.4" cy="-4.2" r="1.6" fill="#4A78C0" stroke="#fff" stroke-width="0.25"/>
<circle cx="-1.4" cy="-1.4" r="1.6" fill="#4A78C0" stroke="#fff" stroke-width="0.25"/>
<circle cx="-1.4" cy="1.4" r="1.6" fill="#4A78C0" stroke="#fff" stroke-width="0.25"/>
<circle cx="-1.4" cy="4.2" r="1.6" fill="#4A78C0" stroke="#fff" stroke-width="0.25"/>
<circle cx="1.4" cy="-4.2" r="1.6" fill="#4A78C0" stroke="#fff" stroke-width="0.25"/>
<circle cx="1.4" cy="-1.4" r="1.6" fill="#4A78C0" stroke="#fff" stroke-width="0.25"/>
<circle cx="1.4" cy="1.4" r="1.6" fill="#4A78C0" stroke="#fff" stroke-width="0.25"/>
<circle cx="1.4" cy="4.2" r="1.6" fill="#4A78C0" stroke="#fff" stroke-width="0.25"/>
</g>
<line x1="315.8" y1="560.2" x2="317.3" y2="561.9" stroke="#555" stroke-width="0.45"/>
<line x1="314.0" y1="561.8" x2="315.5" y2="563.5" stroke="#555" stroke-width="0.45"/>
<line x1="312.2" y1="563.4" x2="313.7" y2="565.1" stroke="#555" stroke-width="0.45"/>
<text x="325.50" y="574.50" font-size="4.7" text-anchor="middle" fill="#111">CD16</text>
<line x1="326" y1="547.5" x2="331" y2="550" stroke="#C4123A" stroke-width="0.7"/>
<circle cx="332" cy="550.5" r="1.9" fill="#C4123A"/>
<line x1="328" y1="551.5" x2="333" y2="554" stroke="#C4123A" stroke-width="0.7"/>
<circle cx="334" cy="554.5" r="1.9" fill="#C4123A"/>
<line x1="329.5" y1="555.5" x2="334.5" y2="558" stroke="#C4123A" stroke-width="0.7"/>
<circle cx="335.5" cy="558.5" r="1.9" fill="#C4123A"/>
<text x="342.00" y="558.20" font-size="4.7" text-anchor="middle" fill="#111">CD18</text>
<ellipse cx="335" cy="535" rx="3.6" ry="1.9" fill="#E09A30" stroke="#5A9A30" stroke-width="0.3" transform="rotate(0 335 535)"/>
<ellipse cx="335" cy="539.2" rx="3.6" ry="1.9" fill="#E09A30" stroke="#5A9A30" stroke-width="0.3" transform="rotate(0 335 539.2)"/>
<line x1="328.5" y1="535.0" x2="331.0" y2="535.0" stroke="#666" stroke-width="0.45"/>
<line x1="328.5" y1="539.2" x2="331.0" y2="539.2" stroke="#666" stroke-width="0.45"/>
<text x="347.80" y="538.20" font-size="4.7" text-anchor="middle" fill="#111">NKp30</text>
<text x="291.30" y="536.80" font-size="3.7" text-anchor="middle" fill="#222">S100A4</text>
<text x="290.70" y="549.40" font-size="3.7" text-anchor="middle" fill="#222">HCST</text>
<text x="316.50" y="547.20" font-size="3.7" text-anchor="middle" fill="#222">ACTB</text>
<text x="306.20" y="557.00" font-size="3.7" text-anchor="middle" fill="#222">TSC22D3</text>
<circle cx="428.8" cy="541" r="26" fill="#D0E4E7" stroke="#A9CDD4" stroke-width="0.7"/>
<circle cx="431.7" cy="528.0" r="7.9" fill="none" stroke="#DCEDF0" stroke-width="0.9"/>
<circle cx="431.7" cy="528.0" r="6.9" fill="#9CC7CA" stroke="#7FB0AA" stroke-width="0.7"/>
<text x="406.90" y="499.70" font-size="4.7" text-anchor="middle" fill="#111">XCL2</text>
<text x="429.80" y="499.00" font-size="4.7" text-anchor="middle" fill="#111">XCL1</text>
<text x="450.00" y="507.70" font-size="4.7" text-anchor="middle" fill="#111">GZMK</text>
<circle cx="412.5" cy="503.0" r="1.5" fill="#F2E030" stroke="#A09020" stroke-width="0.4"/>
<circle cx="416.5" cy="502.0" r="1.5" fill="#F2E030" stroke="#A09020" stroke-width="0.4"/>
<circle cx="414.5" cy="506.5" r="1.5" fill="#F2E030" stroke="#A09020" stroke-width="0.4"/>
<circle cx="418.5" cy="506.0" r="1.5" fill="#F2E030" stroke="#A09020" stroke-width="0.4"/>
<circle cx="413.0" cy="510.0" r="1.5" fill="#F2E030" stroke="#A09020" stroke-width="0.4"/>
<circle cx="417.0" cy="511.5" r="1.5" fill="#F2E030" stroke="#A09020" stroke-width="0.4"/>
<circle cx="428.5" cy="502.0" r="1.45" fill="#86C4CE" stroke="#4F8A96" stroke-width="0.4"/>
<circle cx="432.5" cy="501.5" r="1.45" fill="#86C4CE" stroke="#4F8A96" stroke-width="0.4"/>
<circle cx="436.5" cy="502.5" r="1.45" fill="#86C4CE" stroke="#4F8A96" stroke-width="0.4"/>
<circle cx="430.0" cy="505.5" r="1.45" fill="#86C4CE" stroke="#4F8A96" stroke-width="0.4"/>
<circle cx="434.5" cy="506.0" r="1.45" fill="#86C4CE" stroke="#4F8A96" stroke-width="0.4"/>
<circle cx="428.5" cy="509.0" r="1.45" fill="#86C4CE" stroke="#4F8A96" stroke-width="0.4"/>
<circle cx="432.5" cy="509.5" r="1.45" fill="#86C4CE" stroke="#4F8A96" stroke-width="0.4"/>
<circle cx="436.5" cy="509.0" r="1.45" fill="#86C4CE" stroke="#4F8A96" stroke-width="0.4"/>
<circle cx="447.5" cy="512.0" r="1.5" fill="#A5571C"/>
<circle cx="452.0" cy="510.5" r="1.5" fill="#A5571C"/>
<circle cx="456.5" cy="511.5" r="1.5" fill="#A5571C"/>
<circle cx="449.0" cy="516.5" r="1.5" fill="#A5571C"/>
<circle cx="454.0" cy="516.0" r="1.5" fill="#A5571C"/>
<circle cx="457.5" cy="517.5" r="1.5" fill="#A5571C"/>
<path d="M404 519.5 h5 v-3.5 M406.5 519.5 v4 l3 3" stroke="#8A1020" stroke-width="1.4" fill="none"/>
<text x="395.50" y="518.10" font-size="4.7" text-anchor="middle" fill="#111">CD62L</text>
<circle cx="397.5" cy="534" r="2.2" fill="#F0C820" stroke="#A08010" stroke-width="0.3"/><line x1="399.5" y1="534.5" x2="404" y2="536" stroke="#C0A020" stroke-width="0.7"/>
<text x="390.50" y="534.30" font-size="4.7" text-anchor="middle" fill="#111">LTB</text>
<text x="418.30" y="537.40" font-size="3.8" text-anchor="middle" fill="#222">MHC</text>
<text x="431.20" y="554.20" font-size="3.8" text-anchor="middle" fill="#222">GPR183</text>
<g transform="translate(398.5 548.8) rotate(-70)">
<circle cx="-2.7" cy="-4.1" r="1.5" fill="#C8103A" stroke="#fff" stroke-width="0.25"/>
<circle cx="-2.7" cy="-1.4" r="1.5" fill="#C8103A" stroke="#fff" stroke-width="0.25"/>
<circle cx="-2.7" cy="1.4" r="1.5" fill="#C8103A" stroke="#fff" stroke-width="0.25"/>
<circle cx="-2.7" cy="4.1" r="1.5" fill="#C8103A" stroke="#fff" stroke-width="0.25"/>
<circle cx="0.0" cy="-4.1" r="1.5" fill="#C8103A" stroke="#fff" stroke-width="0.25"/>
<circle cx="0.0" cy="-1.4" r="1.5" fill="#C8103A" stroke="#fff" stroke-width="0.25"/>
<circle cx="0.0" cy="1.4" r="1.5" fill="#C8103A" stroke="#fff" stroke-width="0.25"/>
<circle cx="0.0" cy="4.1" r="1.5" fill="#C8103A" stroke="#fff" stroke-width="0.25"/>
<circle cx="2.7" cy="-4.1" r="1.5" fill="#C8103A" stroke="#fff" stroke-width="0.25"/>
<circle cx="2.7" cy="-1.4" r="1.5" fill="#C8103A" stroke="#fff" stroke-width="0.25"/>
<circle cx="2.7" cy="1.4" r="1.5" fill="#C8103A" stroke="#fff" stroke-width="0.25"/>
<circle cx="2.7" cy="4.1" r="1.5" fill="#C8103A" stroke="#fff" stroke-width="0.25"/>
</g>
<text x="386.00" y="553.10" font-size="4.7" text-anchor="middle" fill="#111">CD3</text>
<ellipse cx="452" cy="528" rx="2.5" ry="1.8" fill="#6A9E3A" stroke="#4A7A20" stroke-width="0.3"/><ellipse cx="454.8" cy="529.5" rx="2.3" ry="1.6" fill="#6A9E3A"/>
<ellipse cx="454.5" cy="531.5" rx="2.5" ry="1.8" fill="#6A9E3A" stroke="#4A7A20" stroke-width="0.3"/><ellipse cx="457.3" cy="533.0" rx="2.3" ry="1.6" fill="#6A9E3A"/>
<ellipse cx="452.5" cy="535" rx="2.5" ry="1.8" fill="#6A9E3A" stroke="#4A7A20" stroke-width="0.3"/><ellipse cx="455.3" cy="536.5" rx="2.3" ry="1.6" fill="#6A9E3A"/>
<text x="465.80" y="532.10" font-size="4.7" text-anchor="middle" fill="#111">CCR7</text>
<path d="M453 546 q3 4 8 1 M457 548.5 l3 3" stroke="#3A3A9A" stroke-width="1.5" fill="none"/>
<text x="466.80" y="550.90" font-size="4.7" text-anchor="middle" fill="#111">TfR</text>
<path d="M403.5 566 l6 -2.7 l0 5.4z" fill="#C8782A" stroke="#8A5A10" stroke-width="0.3" transform="rotate(-50 403.5 566)"/>
<path d="M407.8 569 l6 -2.7 l0 5.4z" fill="#C8782A" stroke="#8A5A10" stroke-width="0.3" transform="rotate(-50 407.8 569)"/>
<text x="397.50" y="571.10" font-size="4.7" text-anchor="middle" fill="#111">NKG2A</text>
<rect x="419.8" y="563.0" width="2.4" height="10" rx="1.2" fill="#2E5E3A" transform="rotate(0 421.0 568)"/>
<rect x="422.7" y="563.0" width="2.4" height="10" rx="1.2" fill="#2E5E3A" transform="rotate(0 423.9 568)"/>
<rect x="425.6" y="563.0" width="2.4" height="10" rx="1.2" fill="#2E5E3A" transform="rotate(0 426.8 568)"/>
<rect x="428.5" y="563.0" width="2.4" height="10" rx="1.2" fill="#2E5E3A" transform="rotate(0 429.7 568)"/>
<text x="422.40" y="577.90" font-size="4.7" text-anchor="middle" fill="#111">CD56</text>
<circle cx="438.5" cy="567.0" r="1.3" fill="#4A78C0"/>
<circle cx="438.5" cy="569.8" r="1.3" fill="#4A78C0"/>
<circle cx="439.3" cy="572.5" r="1.3" fill="#4A78C0"/>
<text x="445.00" y="577.90" font-size="4.7" text-anchor="middle" fill="#111">CD16</text>
<path d="M448 563 l5 0 l1 5 l-6 1z" fill="#5A3A9A"/>
<line x1="446" y1="560" x2="449" y2="563" stroke="#555" stroke-width="0.5"/>
<text x="455.60" y="571.90" font-size="4.7" text-anchor="middle" fill="#111">TRAIL</text>
<path d="M461.9 558.2 L458.5 562.0250000000001 L460.2 562.0250000000001 L458.075 565.85 L462.75 561.1750000000001 L461.05 561.1750000000001 L463.175 558.2Z" fill="#F0E020" stroke="#9A8A10" stroke-width="0.3"/>
<text x="468.50" y="564.40" font-size="4.7" text-anchor="middle" fill="#111">+ IL-2</text>
<circle cx="75.7" cy="660" r="26" fill="#D0E4E7" stroke="#A9CDD4" stroke-width="0.7"/>
<circle cx="78.5" cy="647.9" r="7.6" fill="none" stroke="#DCEDF0" stroke-width="0.9"/>
<circle cx="78.5" cy="647.9" r="6.6" fill="#9CC7CA" stroke="#7FB0AA" stroke-width="0.7"/>
<text x="43.80" y="621.30" font-size="4.7" text-anchor="middle" fill="#111">Chemokines</text>
<text x="72.90" y="615.40" font-size="4.7" text-anchor="middle" fill="#111">PRF1</text>
<text x="102.50" y="626.70" font-size="4.7" text-anchor="middle" fill="#111">Granzymes</text>
<circle cx="41.2" cy="627.9" r="1.5" fill="#5E2C8C"/>
<circle cx="46.2" cy="628.3" r="1.5" fill="#5E2C8C"/>
<circle cx="50.3" cy="628.3" r="1.5" fill="#5E2C8C"/>
<circle cx="55.0" cy="627.8" r="1.5" fill="#5E2C8C"/>
<circle cx="41.7" cy="633.5" r="1.5" fill="#5E2C8C"/>
<circle cx="46.5" cy="634.1" r="1.5" fill="#5E2C8C"/>
<circle cx="51.4" cy="634.1" r="1.5" fill="#5E2C8C"/>
<circle cx="56.5" cy="634.0" r="1.5" fill="#5E2C8C"/>
<circle cx="41.0" cy="639.7" r="1.5" fill="#5E2C8C"/>
<circle cx="46.4" cy="640.1" r="1.5" fill="#5E2C8C"/>
<circle cx="50.6" cy="640.4" r="1.5" fill="#5E2C8C"/>
<circle cx="55.6" cy="639.8" r="1.5" fill="#5E2C8C"/>
<circle cx="73.0" cy="619.5" r="1.5" fill="#5E2C8C"/>
<circle cx="69.8" cy="624.0" r="1.5" fill="#5E2C8C"/>
<circle cx="76.0" cy="624.0" r="1.5" fill="#5E2C8C"/>
<circle cx="74.0" cy="628.5" r="1.5" fill="#5E2C8C"/>
<circle cx="93.0" cy="635.0" r="1.45" fill="#A5571C"/>
<circle cx="98.5" cy="633.0" r="1.45" fill="#A5571C"/>
<circle cx="103.8" cy="634.5" r="1.45" fill="#A5571C"/>
<circle cx="99.5" cy="639.5" r="1.45" fill="#A5571C"/>
<text x="65.00" y="651.70" font-size="3.8" text-anchor="middle" fill="#222">ISG15</text>
<text x="57.70" y="661.50" font-size="3.8" text-anchor="middle" fill="#222">HERC5</text>
<text x="72.50" y="666.70" font-size="3.8" text-anchor="middle" fill="#222">IFIT2</text>
<text x="91.20" y="666.70" font-size="3.8" text-anchor="middle" fill="#222">OASL</text>
<text x="61.00" y="673.10" font-size="3.8" text-anchor="middle" fill="#222">ISG20</text>
<text x="84.50" y="678.40" font-size="3.8" text-anchor="middle" fill="#222">IFIT3</text>
<text x="71.80" y="682.20" font-size="3.8" text-anchor="middle" fill="#222">IFIT1</text>
<rect x="43.5" y="668.8" width="5" height="4.6" fill="#D01030" transform="rotate(-25 46 671)"/><line x1="48.5" y1="670.5" x2="51" y2="669.3" stroke="#555" stroke-width="0.5"/>
<text x="34.80" y="674.20" font-size="4.7" text-anchor="middle" fill="#111">IFNAR2</text>
<rect x="61.4" y="682.55" width="2.8" height="9.5" rx="1.2" fill="#2E5E3A" transform="rotate(28 62.8 687.3)"/>
<text x="58.00" y="696.40" font-size="4.7" text-anchor="middle" fill="#111">CD56</text>
<circle cx="87.6" cy="686.2" r="1.2" fill="#4A78C0"/>
<circle cx="88.6" cy="688.4" r="1.2" fill="#4A78C0"/>
<circle cx="89.8" cy="690.4" r="1.2" fill="#4A78C0"/>
<line x1="86" y1="683.5" x2="87.3" y2="685" stroke="#555" stroke-width="0.5"/>
<text x="95.60" y="696.40" font-size="4.7" text-anchor="middle" fill="#111">CD16</text>
<circle cx="180.3" cy="657.5" r="26" fill="#D0E4E7" stroke="#A9CDD4" stroke-width="0.7"/>
<circle cx="182.5" cy="647.4" r="7.6" fill="none" stroke="#DCEDF0" stroke-width="0.9"/>
<circle cx="182.5" cy="647.4" r="6.6" fill="#9CC7CA" stroke="#7FB0AA" stroke-width="0.7"/>
<text x="178.40" y="613.70" font-size="4.7" text-anchor="middle" fill="#111">PRF1</text>
<text x="157.90" y="623.70" font-size="4.7" text-anchor="middle" fill="#111">XCL2</text>
<text x="143.30" y="634.70" font-size="4.7" text-anchor="middle" fill="#111">XCL1</text>
<text x="206.00" y="621.20" font-size="4.7" text-anchor="middle" fill="#111">Granzyme B</text>
<text x="227.80" y="629.70" font-size="4.7" text-anchor="middle" fill="#111">+ IL-2</text>
<circle cx="175.9" cy="619.7" r="1.4" fill="#5E2C8C"/>
<circle cx="179.8" cy="619.2" r="1.4" fill="#5E2C8C"/>
<circle cx="184.1" cy="619.4" r="1.4" fill="#5E2C8C"/>
<circle cx="177.2" cy="624.0" r="1.4" fill="#5E2C8C"/>
<circle cx="181.3" cy="623.5" r="1.4" fill="#5E2C8C"/>
<circle cx="184.1" cy="624.0" r="1.4" fill="#5E2C8C"/>
<circle cx="176.5" cy="628.1" r="1.4" fill="#5E2C8C"/>
<circle cx="179.9" cy="628.4" r="1.4" fill="#5E2C8C"/>
<circle cx="183.7" cy="627.9" r="1.4" fill="#5E2C8C"/>
<circle cx="158.0" cy="627.0" r="1.45" fill="#F2E030" stroke="#A09020" stroke-width="0.4"/>
<circle cx="162.5" cy="626.0" r="1.45" fill="#F2E030" stroke="#A09020" stroke-width="0.4"/>
<circle cx="156.5" cy="631.0" r="1.45" fill="#F2E030" stroke="#A09020" stroke-width="0.4"/>
<circle cx="161.0" cy="630.5" r="1.45" fill="#F2E030" stroke="#A09020" stroke-width="0.4"/>
<circle cx="165.5" cy="630.0" r="1.45" fill="#F2E030" stroke="#A09020" stroke-width="0.4"/>
<circle cx="159.0" cy="634.5" r="1.45" fill="#F2E030" stroke="#A09020" stroke-width="0.4"/>
<circle cx="163.5" cy="634.5" r="1.45" fill="#F2E030" stroke="#A09020" stroke-width="0.4"/>
<circle cx="145.0" cy="638.5" r="1.35" fill="#86C4CE" stroke="#4F8A96" stroke-width="0.4"/>
<circle cx="149.5" cy="637.5" r="1.35" fill="#86C4CE" stroke="#4F8A96" stroke-width="0.4"/>
<circle cx="147.0" cy="642.0" r="1.35" fill="#86C4CE" stroke="#4F8A96" stroke-width="0.4"/>
<circle cx="151.5" cy="641.5" r="1.35" fill="#86C4CE" stroke="#4F8A96" stroke-width="0.4"/>
<circle cx="153.8" cy="644.3" r="1.35" fill="#86C4CE" stroke="#4F8A96" stroke-width="0.4"/>
<circle cx="196.7" cy="625.0" r="1.45" fill="#A5571C"/>
<circle cx="201.0" cy="624.9" r="1.45" fill="#A5571C"/>
<circle cx="206.5" cy="624.6" r="1.45" fill="#A5571C"/>
<circle cx="211.0" cy="623.9" r="1.45" fill="#A5571C"/>
<circle cx="197.7" cy="627.9" r="1.45" fill="#A5571C"/>
<circle cx="202.1" cy="628.1" r="1.45" fill="#A5571C"/>
<circle cx="206.9" cy="627.8" r="1.45" fill="#A5571C"/>
<circle cx="211.9" cy="628.2" r="1.45" fill="#A5571C"/>
<circle cx="195.7" cy="632.2" r="1.45" fill="#A5571C"/>
<circle cx="201.5" cy="632.0" r="1.45" fill="#A5571C"/>
<circle cx="205.6" cy="632.2" r="1.45" fill="#A5571C"/>
<circle cx="210.7" cy="631.3" r="1.45" fill="#A5571C"/>
<circle cx="197.1" cy="636.0" r="1.45" fill="#A5571C"/>
<circle cx="202.1" cy="635.9" r="1.45" fill="#A5571C"/>
<path d="M220.3 621 L216.5 625.275 L218.4 625.275 L216.025 629.55 L221.25 624.325 L219.35 624.325 L221.725 621Z" fill="#F0E020" stroke="#9A8A10" stroke-width="0.3"/>
<ellipse cx="143.5" cy="658" rx="2.7" ry="1.9" fill="#7BB648" stroke="#5A9A30" stroke-width="0.3" transform="rotate(0 143.5 658)"/>
<ellipse cx="148.8" cy="658" rx="2.7" ry="1.9" fill="#7BB648" stroke="#5A9A30" stroke-width="0.3" transform="rotate(0 148.8 658)"/>
<line x1="151.5" y1="658" x2="155" y2="658" stroke="#8AC050" stroke-width="0.7"/>
<text x="131.60" y="659.70" font-size="4.7" text-anchor="middle" fill="#111">4-1BB</text>
<g transform="translate(212.4 657.8) rotate(0)">
<circle cx="-4.7" cy="-4.7" r="1.75" fill="#7E4AA0" stroke="#fff" stroke-width="0.25"/>
<circle cx="-4.7" cy="-1.6" r="1.75" fill="#7E4AA0" stroke="#fff" stroke-width="0.25"/>
<circle cx="-4.7" cy="1.6" r="1.75" fill="#7E4AA0" stroke="#fff" stroke-width="0.25"/>
<circle cx="-4.7" cy="4.7" r="1.75" fill="#7E4AA0" stroke="#fff" stroke-width="0.25"/>
<circle cx="-1.6" cy="-4.7" r="1.75" fill="#7E4AA0" stroke="#fff" stroke-width="0.25"/>
<circle cx="-1.6" cy="-1.6" r="1.75" fill="#7E4AA0" stroke="#fff" stroke-width="0.25"/>
<circle cx="-1.6" cy="1.6" r="1.75" fill="#7E4AA0" stroke="#fff" stroke-width="0.25"/>
<circle cx="-1.6" cy="4.7" r="1.75" fill="#7E4AA0" stroke="#fff" stroke-width="0.25"/>
<circle cx="1.6" cy="-4.7" r="1.75" fill="#7E4AA0" stroke="#fff" stroke-width="0.25"/>
<circle cx="1.6" cy="-1.6" r="1.75" fill="#7E4AA0" stroke="#fff" stroke-width="0.25"/>
<circle cx="1.6" cy="1.6" r="1.75" fill="#7E4AA0" stroke="#fff" stroke-width="0.25"/>
<circle cx="1.6" cy="4.7" r="1.75" fill="#7E4AA0" stroke="#fff" stroke-width="0.25"/>
<circle cx="4.7" cy="-4.7" r="1.75" fill="#7E4AA0" stroke="#fff" stroke-width="0.25"/>
<circle cx="4.7" cy="-1.6" r="1.75" fill="#7E4AA0" stroke="#fff" stroke-width="0.25"/>
<circle cx="4.7" cy="1.6" r="1.75" fill="#7E4AA0" stroke="#fff" stroke-width="0.25"/>
<circle cx="4.7" cy="4.7" r="1.75" fill="#7E4AA0" stroke="#fff" stroke-width="0.25"/>
</g>
<line x1="205.5" y1="650.4" x2="208.0" y2="650.4" stroke="#555" stroke-width="0.45"/>
<line x1="205.5" y1="652.8" x2="208.0" y2="652.8" stroke="#555" stroke-width="0.45"/>
<line x1="205.5" y1="655.2" x2="208.0" y2="655.2" stroke="#555" stroke-width="0.45"/>
<line x1="205.5" y1="657.6" x2="208.0" y2="657.6" stroke="#555" stroke-width="0.45"/>
<text x="223.00" y="659.70" font-size="4.7" text-anchor="middle" fill="#111">KIR</text>
<path d="M152 678.8 l5 -2.25 l0 4.5z" fill="#D98A2A" stroke="#8A5A10" stroke-width="0.3" transform="rotate(-40 152 678.8)"/>
<line x1="155.5" y1="676" x2="157.5" y2="674" stroke="#C08040" stroke-width="0.5"/>
<text x="140.80" y="685.40" font-size="4.7" text-anchor="middle" fill="#111">NKG2A</text>
<rect x="168.79999999999998" y="679.75" width="2.8" height="9.5" rx="1.2" fill="#2E5E3A" transform="rotate(20 170.2 684.5)"/>
<text x="166.00" y="695.40" font-size="4.7" text-anchor="middle" fill="#111">CD56</text>
<g transform="translate(189.3 688) rotate(0)">
<circle cx="-1.4" cy="-2.8" r="1.6" fill="#4A78C0" stroke="#fff" stroke-width="0.25"/>
<circle cx="-1.4" cy="0.0" r="1.6" fill="#4A78C0" stroke="#fff" stroke-width="0.25"/>
<circle cx="-1.4" cy="2.8" r="1.6" fill="#4A78C0" stroke="#fff" stroke-width="0.25"/>
<circle cx="1.4" cy="-2.8" r="1.6" fill="#4A78C0" stroke="#fff" stroke-width="0.25"/>
<circle cx="1.4" cy="0.0" r="1.6" fill="#4A78C0" stroke="#fff" stroke-width="0.25"/>
<circle cx="1.4" cy="2.8" r="1.6" fill="#4A78C0" stroke="#fff" stroke-width="0.25"/>
</g>
<line x1="189.1" y1="681.7" x2="189.6" y2="683.7" stroke="#555" stroke-width="0.45"/>
<line x1="186.9" y1="682.3" x2="187.4" y2="684.3" stroke="#555" stroke-width="0.45"/>
<text x="193.50" y="695.40" font-size="4.7" text-anchor="middle" fill="#111">CD16</text>
<path d="M203.5 677.5 q3 1 1.5 3.5 q-1.5 2 1.5 4" stroke="#5A2A8A" stroke-width="1.3" fill="none"/>
<line x1="200" y1="674.5" x2="203" y2="677" stroke="#C080C0" stroke-width="0.5"/>
<text x="218.00" y="687.70" font-size="4.7" text-anchor="middle" fill="#111">DNAM-1</text>
<circle cx="306" cy="659.4" r="26" fill="#D0E4E7" stroke="#A9CDD4" stroke-width="0.7"/>
<circle cx="308" cy="647.4" r="8.0" fill="none" stroke="#DCEDF0" stroke-width="0.9"/>
<circle cx="308" cy="647.4" r="7" fill="#9CC7CA" stroke="#7FB0AA" stroke-width="0.7"/>
<text x="276.00" y="627.70" font-size="4.7" text-anchor="middle" fill="#111">Chemokines</text>
<text x="303.20" y="617.70" font-size="4.7" text-anchor="middle" fill="#111">PRF1</text>
<text x="332.30" y="625.00" font-size="4.7" text-anchor="middle" fill="#111">Granzymes</text>
<circle cx="277.0" cy="631.5" r="1.45" fill="#5E2C8C"/>
<circle cx="282.5" cy="630.5" r="1.45" fill="#5E2C8C"/>
<circle cx="274.5" cy="636.0" r="1.45" fill="#5E2C8C"/>
<circle cx="280.0" cy="636.8" r="1.45" fill="#5E2C8C"/>
<circle cx="286.0" cy="634.3" r="1.45" fill="#5E2C8C"/>
<circle cx="280.5" cy="641.5" r="1.45" fill="#5E2C8C"/>
<circle cx="301.5" cy="621.5" r="1.4" fill="#5E2C8C"/>
<circle cx="307.0" cy="621.0" r="1.4" fill="#5E2C8C"/>
<circle cx="304.0" cy="625.5" r="1.4" fill="#5E2C8C"/>
<circle cx="309.5" cy="626.0" r="1.4" fill="#5E2C8C"/>
<circle cx="302.0" cy="629.5" r="1.4" fill="#5E2C8C"/>
<circle cx="326.0" cy="629.0" r="1.4" fill="#A5571C"/>
<circle cx="331.0" cy="628.5" r="1.4" fill="#A5571C"/>
<circle cx="328.0" cy="633.0" r="1.4" fill="#A5571C"/>
<circle cx="333.0" cy="633.0" r="1.4" fill="#A5571C"/>
<circle cx="337.0" cy="631.5" r="1.4" fill="#A5571C"/>
<circle cx="328.5" cy="637.0" r="1.4" fill="#A5571C"/>
<circle cx="333.5" cy="638.0" r="1.4" fill="#A5571C"/>
<circle cx="337.5" cy="636.5" r="1.4" fill="#A5571C"/>
<circle cx="331.0" cy="641.5" r="1.4" fill="#A5571C"/>
<text x="297.30" y="642.30" font-size="3.7" text-anchor="middle" fill="#B52A5A">ATP5E</text>
<text x="290.50" y="650.90" font-size="3.7" text-anchor="middle" fill="#B52A5A">RPL10</text>
<text x="287.30" y="661.90" font-size="3.7" text-anchor="middle" fill="#B52A5A">RPS2</text>
<text x="301.60" y="659.60" font-size="3.7" text-anchor="middle" fill="#B52A5A">RPS15A</text>
<text x="323.60" y="658.10" font-size="3.7" text-anchor="middle" fill="#B52A5A">CDKN2A</text>
<text x="290.00" y="670.50" font-size="3.7" text-anchor="middle" fill="#B52A5A">MT-CO1</text>
<text x="304.40" y="671.70" font-size="3.7" text-anchor="middle" fill="#B52A5A">RPS10</text>
<text x="317.10" y="665.30" font-size="3.7" text-anchor="middle" fill="#B52A5A">RPLP1</text>
<text x="319.30" y="674.60" font-size="3.7" text-anchor="middle" fill="#B52A5A">MT-ND4</text>
<text x="305.80" y="680.30" font-size="3.7" text-anchor="middle" fill="#B52A5A">MT-ND1</text>
<rect x="292.8" y="681.25" width="2.8" height="9.5" rx="1.2" fill="#2E5E3A" transform="rotate(20 294.2 686)"/>
<text x="289.00" y="696.50" font-size="4.7" text-anchor="middle" fill="#111">CD56</text>
<circle cx="318.5" cy="687.0" r="1.2" fill="#4A78C0"/>
<circle cx="319.0" cy="689.5" r="1.2" fill="#4A78C0"/>
<circle cx="319.8" cy="692.0" r="1.2" fill="#4A78C0"/>
<line x1="317" y1="684" x2="318" y2="685.7" stroke="#555" stroke-width="0.5"/>
<text x="325.50" y="697.10" font-size="4.7" text-anchor="middle" fill="#111">CD16</text>
<circle cx="424" cy="657.5" r="26" fill="#D0E4E7" stroke="#A9CDD4" stroke-width="0.7"/>
<circle cx="426.5" cy="645.9" r="7.8" fill="none" stroke="#DCEDF0" stroke-width="0.9"/>
<circle cx="426.5" cy="645.9" r="6.8" fill="#9CC7CA" stroke="#7FB0AA" stroke-width="0.7"/>
<text x="389.80" y="626.90" font-size="4.7" text-anchor="middle" fill="#111">CCL5</text>
<text x="405.00" y="619.40" font-size="4.7" text-anchor="middle" fill="#111">IL-32</text>
<text x="425.80" y="612.70" font-size="4.7" text-anchor="middle" fill="#111">PRF1</text>
<text x="447.80" y="621.70" font-size="4.7" text-anchor="middle" fill="#111">Granzymes</text>
<circle cx="389.5" cy="631.0" r="1.4" fill="#5E2C8C"/>
<circle cx="395.0" cy="630.0" r="1.4" fill="#5E2C8C"/>
<circle cx="399.5" cy="632.5" r="1.4" fill="#5E2C8C"/>
<circle cx="391.0" cy="636.5" r="1.4" fill="#5E2C8C"/>
<circle cx="396.5" cy="636.5" r="1.4" fill="#5E2C8C"/>
<circle cx="407.0" cy="623.0" r="1.35" fill="#7AB648" stroke="#4A8A20" stroke-width="0.4"/>
<circle cx="411.5" cy="622.5" r="1.35" fill="#7AB648" stroke="#4A8A20" stroke-width="0.4"/>
<circle cx="408.5" cy="627.0" r="1.35" fill="#7AB648" stroke="#4A8A20" stroke-width="0.4"/>
<circle cx="413.0" cy="627.0" r="1.35" fill="#7AB648" stroke="#4A8A20" stroke-width="0.4"/>
<circle cx="410.0" cy="631.0" r="1.35" fill="#7AB648" stroke="#4A8A20" stroke-width="0.4"/>
<circle cx="415.0" cy="630.5" r="1.35" fill="#7AB648" stroke="#4A8A20" stroke-width="0.4"/>
<circle cx="424.0" cy="615.5" r="1.4" fill="#5E2C8C"/>
<circle cx="423.0" cy="620.5" r="1.4" fill="#5E2C8C"/>
<circle cx="428.0" cy="621.5" r="1.4" fill="#5E2C8C"/>
<circle cx="425.0" cy="626.0" r="1.4" fill="#5E2C8C"/>
<circle cx="443.1" cy="625.2" r="1.45" fill="#A5571C"/>
<circle cx="447.1" cy="625.7" r="1.45" fill="#A5571C"/>
<circle cx="451.2" cy="625.2" r="1.45" fill="#A5571C"/>
<circle cx="444.1" cy="629.7" r="1.45" fill="#A5571C"/>
<circle cx="447.9" cy="630.2" r="1.45" fill="#A5571C"/>
<circle cx="453.2" cy="629.6" r="1.45" fill="#A5571C"/>
<circle cx="443.3" cy="634.2" r="1.45" fill="#A5571C"/>
<circle cx="447.1" cy="634.2" r="1.45" fill="#A5571C"/>
<circle cx="451.2" cy="634.2" r="1.45" fill="#A5571C"/>
<circle cx="444.3" cy="638.6" r="1.45" fill="#A5571C"/>
<circle cx="448.1" cy="638.7" r="1.45" fill="#A5571C"/>
<circle cx="452.9" cy="638.4" r="1.45" fill="#A5571C"/>
<path d="M390.5 646.4 l0.8 1.8 l2 0.1 l-1.5 1.3 l0.5 2 l-1.8 -1.1 l-1.8 1.1 l0.5 -2 l-1.5 -1.3 l2 -0.1z" fill="#F2E020" stroke="#B0A010" stroke-width="0.2"/>
<line x1="393.0" y1="649" x2="397.5" y2="649" stroke="#555" stroke-width="0.45"/>
<path d="M389.5 651.4 l0.8 1.8 l2 0.1 l-1.5 1.3 l0.5 2 l-1.8 -1.1 l-1.8 1.1 l0.5 -2 l-1.5 -1.3 l2 -0.1z" fill="#F2E020" stroke="#B0A010" stroke-width="0.2"/>
<line x1="392.0" y1="654" x2="396.5" y2="654" stroke="#555" stroke-width="0.45"/>
<path d="M391 656.4 l0.8 1.8 l2 0.1 l-1.5 1.3 l0.5 2 l-1.8 -1.1 l-1.8 1.1 l0.5 -2 l-1.5 -1.3 l2 -0.1z" fill="#F2E020" stroke="#B0A010" stroke-width="0.2"/>
<line x1="393.5" y1="659" x2="398" y2="659" stroke="#555" stroke-width="0.45"/>
<text x="383.00" y="655.00" font-size="4.7" text-anchor="middle" fill="#111">CD3</text>
<circle cx="455.5" cy="648.5" r="1.9" fill="#C8102E"/><line x1="449.5" y1="648.5" x2="454.0" y2="648.5" stroke="#C8102E" stroke-width="0.5"/>
<circle cx="456" cy="652.5" r="1.9" fill="#C8102E"/><line x1="450" y1="652.5" x2="454.5" y2="652.5" stroke="#C8102E" stroke-width="0.5"/>
<circle cx="455.5" cy="656.5" r="1.9" fill="#C8102E"/><line x1="449.5" y1="656.5" x2="454.0" y2="656.5" stroke="#C8102E" stroke-width="0.5"/>
<text x="466.00" y="654.00" font-size="4.7" text-anchor="middle" fill="#111">CD52</text>
<g transform="translate(394.2 675.2) rotate(40)">
<circle cx="-4.5" cy="-4.5" r="1.7" fill="#7E4AA0" stroke="#fff" stroke-width="0.25"/>
<circle cx="-4.5" cy="-1.5" r="1.7" fill="#7E4AA0" stroke="#fff" stroke-width="0.25"/>
<circle cx="-4.5" cy="1.5" r="1.7" fill="#7E4AA0" stroke="#fff" stroke-width="0.25"/>
<circle cx="-4.5" cy="4.5" r="1.7" fill="#7E4AA0" stroke="#fff" stroke-width="0.25"/>
<circle cx="-1.5" cy="-4.5" r="1.7" fill="#7E4AA0" stroke="#fff" stroke-width="0.25"/>
<circle cx="-1.5" cy="-1.5" r="1.7" fill="#7E4AA0" stroke="#fff" stroke-width="0.25"/>
<circle cx="-1.5" cy="1.5" r="1.7" fill="#7E4AA0" stroke="#fff" stroke-width="0.25"/>
<circle cx="-1.5" cy="4.5" r="1.7" fill="#7E4AA0" stroke="#fff" stroke-width="0.25"/>
<circle cx="1.5" cy="-4.5" r="1.7" fill="#7E4AA0" stroke="#fff" stroke-width="0.25"/>
<circle cx="1.5" cy="-1.5" r="1.7" fill="#7E4AA0" stroke="#fff" stroke-width="0.25"/>
<circle cx="1.5" cy="1.5" r="1.7" fill="#7E4AA0" stroke="#fff" stroke-width="0.25"/>
<circle cx="1.5" cy="4.5" r="1.7" fill="#7E4AA0" stroke="#fff" stroke-width="0.25"/>
<circle cx="4.5" cy="-4.5" r="1.7" fill="#7E4AA0" stroke="#fff" stroke-width="0.25"/>
<circle cx="4.5" cy="-1.5" r="1.7" fill="#7E4AA0" stroke="#fff" stroke-width="0.25"/>
<circle cx="4.5" cy="1.5" r="1.7" fill="#7E4AA0" stroke="#fff" stroke-width="0.25"/>
<circle cx="4.5" cy="4.5" r="1.7" fill="#7E4AA0" stroke="#fff" stroke-width="0.25"/>
</g>
<line x1="404.4" y1="668.0" x2="402.4" y2="670.5" stroke="#555" stroke-width="0.45"/>
<line x1="402.5" y1="666.5" x2="400.5" y2="669.0" stroke="#555" stroke-width="0.45"/>
<line x1="400.6" y1="665.0" x2="398.6" y2="667.5" stroke="#555" stroke-width="0.45"/>
<text x="384.40" y="682.00" font-size="4.7" text-anchor="middle" fill="#111">KIR</text>
<path d="M444.5 666.5 a3 3 0 1 0 5 1.5 l-1.8 -0.6 l-1.4 1.2z" fill="#E8A820"/>
<path d="M445.5 672.5 a3 3 0 1 0 5 1.5 l-1.8 -0.6 l-1.4 1.2z" fill="#E8A820"/>
<line x1="443" y1="665" x2="445.5" y2="666.8" stroke="#555" stroke-width="0.45"/><line x1="442" y1="671" x2="445" y2="672.5" stroke="#555" stroke-width="0.45"/>
<text x="460.20" y="677.40" font-size="4.7" text-anchor="middle" fill="#111">NKG2C</text>
<rect x="412.3" y="679.1" width="2.8" height="9" rx="1.2" fill="#2E5E3A" transform="rotate(25 413.7 683.6)"/>
<text x="407.60" y="695.40" font-size="4.7" text-anchor="middle" fill="#111">CD56</text>
<g transform="translate(434.5 686.2) rotate(0)">
<circle cx="-3.0" cy="-3.0" r="1.65" fill="#4A78C0" stroke="#fff" stroke-width="0.25"/>
<circle cx="-3.0" cy="0.0" r="1.65" fill="#4A78C0" stroke="#fff" stroke-width="0.25"/>
<circle cx="-3.0" cy="3.0" r="1.65" fill="#4A78C0" stroke="#fff" stroke-width="0.25"/>
<circle cx="0.0" cy="-3.0" r="1.65" fill="#4A78C0" stroke="#fff" stroke-width="0.25"/>
<circle cx="0.0" cy="0.0" r="1.65" fill="#4A78C0" stroke="#fff" stroke-width="0.25"/>
<circle cx="0.0" cy="3.0" r="1.65" fill="#4A78C0" stroke="#fff" stroke-width="0.25"/>
<circle cx="3.0" cy="-3.0" r="1.65" fill="#4A78C0" stroke="#fff" stroke-width="0.25"/>
<circle cx="3.0" cy="0.0" r="1.65" fill="#4A78C0" stroke="#fff" stroke-width="0.25"/>
<circle cx="3.0" cy="3.0" r="1.65" fill="#4A78C0" stroke="#fff" stroke-width="0.25"/>
</g>
<line x1="434.0" y1="679.5" x2="434.5" y2="682.0" stroke="#555" stroke-width="0.45"/>
<line x1="431.5" y1="680.0" x2="432.0" y2="682.5" stroke="#555" stroke-width="0.45"/>
<line x1="429.0" y1="680.5" x2="429.5" y2="683.0" stroke="#555" stroke-width="0.45"/>
<text x="442.60" y="696.20" font-size="4.7" text-anchor="middle" fill="#111">CD16</text>
<rect x="0.5" y="0.5" width="519" height="704" fill="none" stroke="#000" stroke-width="1.2"/>
</svg></body></html>
